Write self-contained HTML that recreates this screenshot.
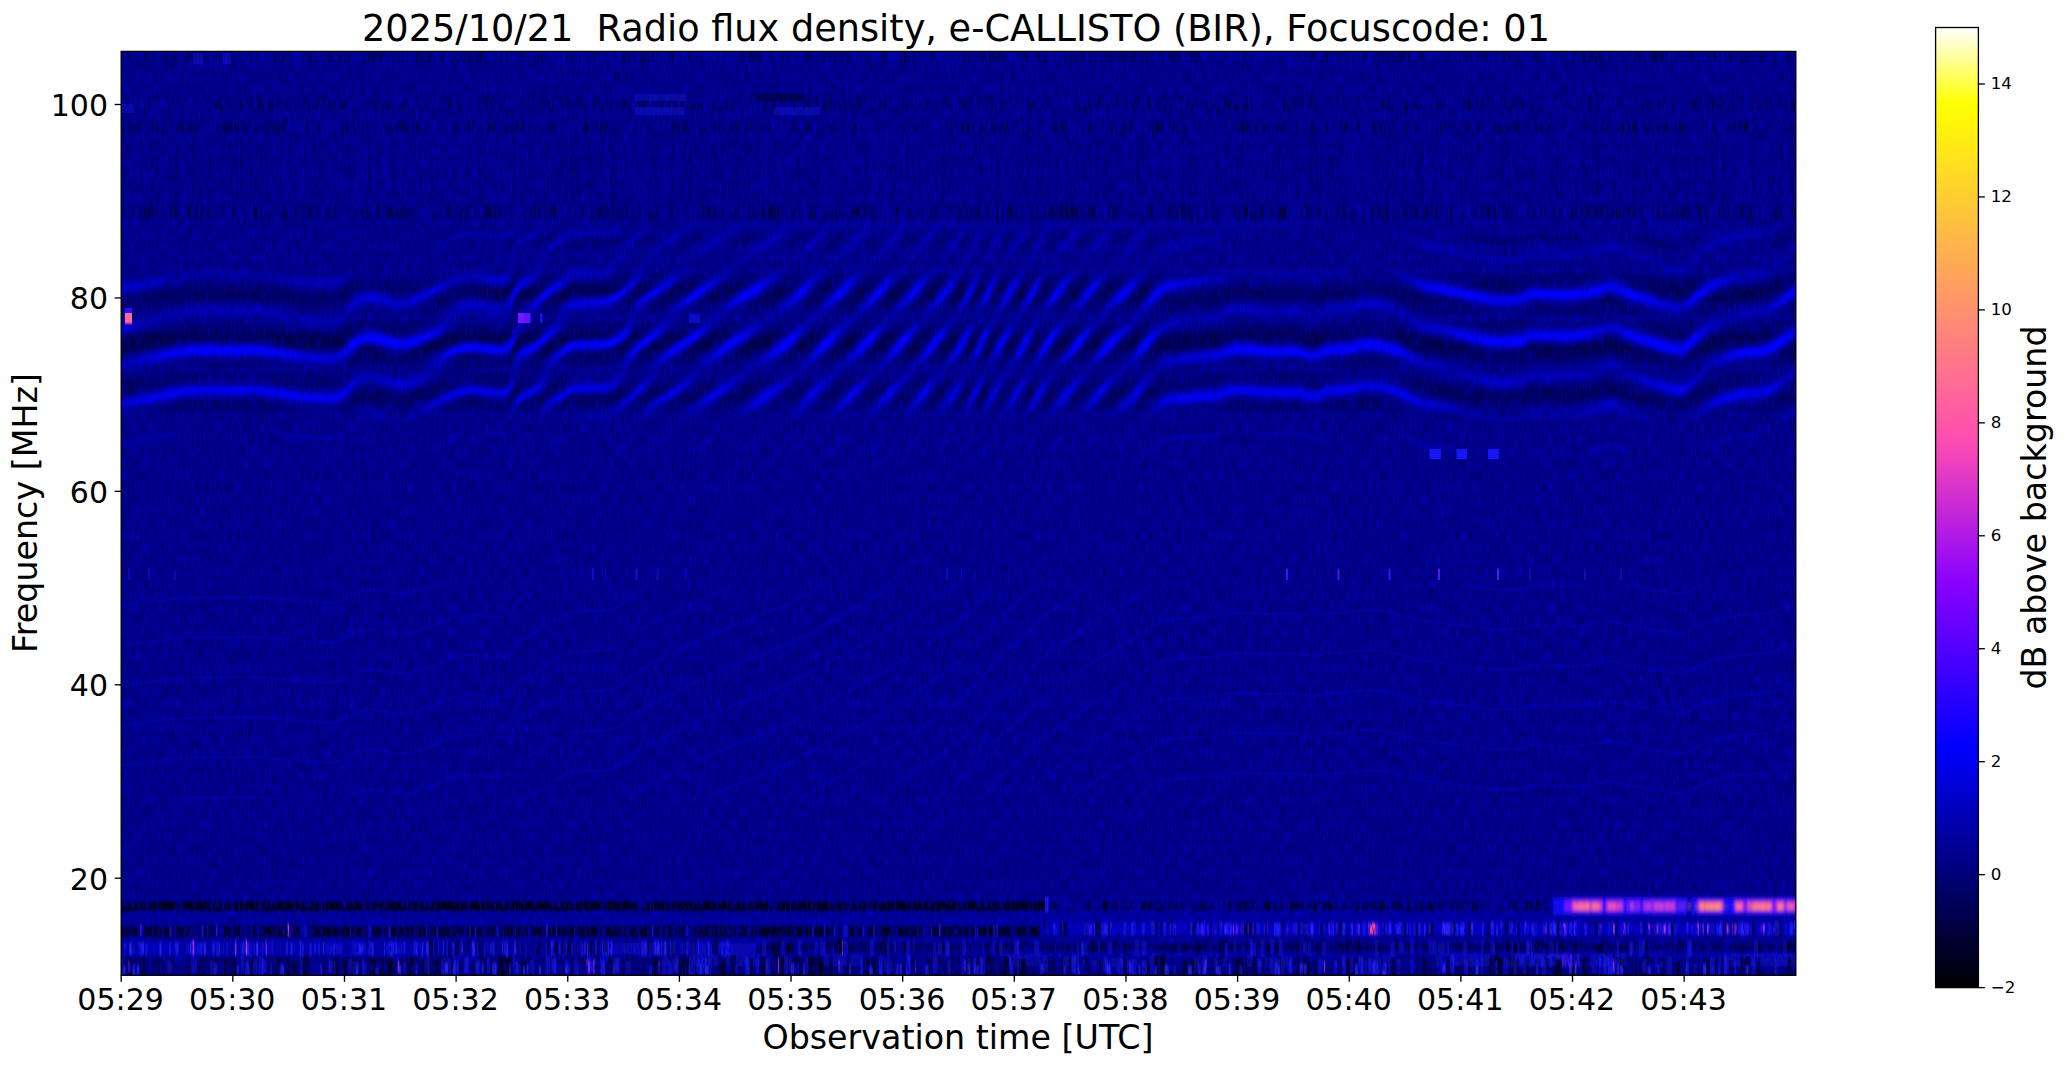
<!DOCTYPE html>
<html><head><meta charset="utf-8"><title>e-CALLISTO BIR spectrogram</title>
<style>
html,body{margin:0;padding:0;background:#fff;}
body{width:2066px;height:1067px;overflow:hidden;position:relative;font-family:"DejaVu Sans","Liberation Sans",sans-serif;}
svg{position:absolute;left:0;top:0;display:block}
text{font-family:"DejaVu Sans","Liberation Sans",sans-serif;fill:#000}
.tk{stroke:#000;stroke-width:1.33}
.tl{font-size:30px}
.cl{font-size:16.67px}
.ti{font-size:36.67px}
.al{font-size:33.3px}
</style></head><body>
<svg width="2066" height="1067" viewBox="0 0 2066 1067">
<defs>
<linearGradient id="cb" x1="0" y1="0" x2="0" y2="1"><stop offset="0.0000" stop-color="#ffffff"/><stop offset="0.0156" stop-color="#ffffcd"/><stop offset="0.0312" stop-color="#ffff9b"/><stop offset="0.0469" stop-color="#ffff6a"/><stop offset="0.0625" stop-color="#ffff38"/><stop offset="0.0781" stop-color="#ffff06"/><stop offset="0.0938" stop-color="#fff807"/><stop offset="0.1094" stop-color="#fff00f"/><stop offset="0.1250" stop-color="#ffe817"/><stop offset="0.1406" stop-color="#ffe01f"/><stop offset="0.1562" stop-color="#ffd827"/><stop offset="0.1719" stop-color="#ffd02f"/><stop offset="0.1875" stop-color="#ffc837"/><stop offset="0.2031" stop-color="#ffc03f"/><stop offset="0.2188" stop-color="#ffb847"/><stop offset="0.2344" stop-color="#ffb04f"/><stop offset="0.2500" stop-color="#ffa857"/><stop offset="0.2656" stop-color="#ffa05f"/><stop offset="0.2812" stop-color="#ff9867"/><stop offset="0.2969" stop-color="#ff906f"/><stop offset="0.3125" stop-color="#ff8877"/><stop offset="0.3281" stop-color="#ff807f"/><stop offset="0.3438" stop-color="#ff7887"/><stop offset="0.3594" stop-color="#ff718e"/><stop offset="0.3750" stop-color="#ff6996"/><stop offset="0.3906" stop-color="#ff619e"/><stop offset="0.4062" stop-color="#ff59a6"/><stop offset="0.4219" stop-color="#ff51ae"/><stop offset="0.4375" stop-color="#f949b6"/><stop offset="0.4531" stop-color="#ed41be"/><stop offset="0.4688" stop-color="#e039c6"/><stop offset="0.4844" stop-color="#d431ce"/><stop offset="0.5000" stop-color="#c729d6"/><stop offset="0.5156" stop-color="#bb21de"/><stop offset="0.5312" stop-color="#ae19e6"/><stop offset="0.5469" stop-color="#a211ee"/><stop offset="0.5625" stop-color="#9509f6"/><stop offset="0.5781" stop-color="#8901fe"/><stop offset="0.5938" stop-color="#7d00ff"/><stop offset="0.6094" stop-color="#7000ff"/><stop offset="0.6250" stop-color="#6400ff"/><stop offset="0.6406" stop-color="#5700ff"/><stop offset="0.6562" stop-color="#4b00ff"/><stop offset="0.6719" stop-color="#3e00ff"/><stop offset="0.6875" stop-color="#3200ff"/><stop offset="0.7031" stop-color="#2500ff"/><stop offset="0.7188" stop-color="#1900ff"/><stop offset="0.7344" stop-color="#0c00ff"/><stop offset="0.7500" stop-color="#0000ff"/><stop offset="0.7656" stop-color="#0000ef"/><stop offset="0.7812" stop-color="#0000df"/><stop offset="0.7969" stop-color="#0000cf"/><stop offset="0.8125" stop-color="#0000bf"/><stop offset="0.8281" stop-color="#0000af"/><stop offset="0.8438" stop-color="#00009f"/><stop offset="0.8594" stop-color="#00008f"/><stop offset="0.8750" stop-color="#000080"/><stop offset="0.8906" stop-color="#000070"/><stop offset="0.9062" stop-color="#000060"/><stop offset="0.9219" stop-color="#000050"/><stop offset="0.9375" stop-color="#000040"/><stop offset="0.9531" stop-color="#000030"/><stop offset="0.9688" stop-color="#000020"/><stop offset="0.9844" stop-color="#000010"/><stop offset="1.0000" stop-color="#000000"/></linearGradient>
<clipPath id="axc"><rect x="121.20" y="51.40" width="1674.60" height="923.90"/></clipPath>
<filter id="bl" x="222" y="82" width="3389" height="1887" filterUnits="userSpaceOnUse"><feGaussianBlur stdDeviation="2.4"/></filter><filter id="bl1" x="222" y="82" width="3389" height="1887" filterUnits="userSpaceOnUse"><feGaussianBlur stdDeviation="1.4"/></filter><filter id="bl2" x="222" y="82" width="3389" height="1887" filterUnits="userSpaceOnUse"><feGaussianBlur stdDeviation="1.5 3.2"/></filter><filter id="bl3" x="222" y="82" width="3389" height="1887" filterUnits="userSpaceOnUse"><feGaussianBlur stdDeviation="2.6 3.8"/></filter><filter id="bl4" x="222" y="82" width="3389" height="1887" filterUnits="userSpaceOnUse"><feGaussianBlur stdDeviation="1.1"/></filter><filter id="bl0" x="222" y="82" width="3389" height="1887" filterUnits="userSpaceOnUse"><feGaussianBlur stdDeviation="0.7 3.0"/></filter><filter id="nz" x="121" y="51" width="1674" height="923" filterUnits="userSpaceOnUse" color-interpolation-filters="sRGB"><feTurbulence type="fractalNoise" baseFrequency="0.8 0.085" numOctaves="1" seed="3" result="t"/><feColorMatrix in="t" type="matrix" values="0 0 0 0 0  0 0 0 0 0  0 0 0 0 0  -1.2 0 0 0 0.56"/></filter><filter id="nz3" x="121" y="897" width="1674" height="78" filterUnits="userSpaceOnUse" color-interpolation-filters="sRGB"><feTurbulence type="fractalNoise" baseFrequency="0.6 0.11" numOctaves="1" seed="5" result="t"/><feColorMatrix in="t" type="matrix" values="0 0 0 0 0  0 0 0 0 0  0 0 0 0 0.75  0 3.2 0 0 -1.55"/></filter><filter id="nz2" x="121" y="51" width="1674" height="923" filterUnits="userSpaceOnUse" color-interpolation-filters="sRGB"><feTurbulence type="fractalNoise" baseFrequency="0.7 0.083" numOctaves="1" seed="11" result="t"/><feColorMatrix in="t" type="matrix" values="0 0 0 0 0  0 0 0 0 0  0 0 0 0 1  0 1.3 0 0 -0.6"/></filter>
</defs>
<rect x="0" y="0" width="2066" height="1067" fill="#fff"/>
<rect x="121.20" y="51.40" width="1674.60" height="923.90" fill="#000084"/>
<g clip-path="url(#axc)">
<g transform="scale(0.5)">
<g filter="url(#bl)"><path fill="#00f" fill-opacity="0.188" d="M1029 444l0 7 -5 14 -8 12 -5 5 -7 1 -25-3 -30-6 -15 0 -30 7 -32 17 -6 0 7-8 24-15 12-5 20-5 20-3 30 4 32 0zM1091 443l3 1 0 4 -5 10 -8 10 -12 9 -25 13 -8 8 -8 22 -6 32 -8 16 -5 3 -33-3 -30-6 -17 2 -25 8 -73 41 -12 6 -15 4 -8 0 -17-4 -30-9 -10-1 -10 2 -8 2 -7 5 -15 12 -16 18 -12 6 -7 2 -50-3 -103-19 -45 2 -57-1 -25 2 -18 2 -42 9 -88 23 0-28 42-8 47-13 49-9 40-3 52 1 43-2 107 19 48 3 7-2 13-8 17-19 15-14 15-6 10-1 8 1 30 10 22 5 10-3 26-9 44-20 25-16 28-10 17-1 28 6 30 3 5-5 6-12 8-32 8-19 10-8 28-13zM1244 443l2 2 -1 5 -3 5 -8 7 -10 6 -15 5 -68 2 -17 15 -20 12 -8 10 -8 13 -5 20 -7 13 -9 7 -19 10 -12 9 -15 34 -9 27 -3 2 -15-1 -15-4 -12-7 -16-6 -7-1 -8 1 -13 6 -42 36 -52 25 -23 7 -7 1 -23-5 -27-10 -8 0 -10 1 -10 3 -7 4 -30 28 -18 8 -50-2 -107-16 -40 2 -63-1 -27 2 -47 7 -96 20 0-25 83-21 55-10 40-3 52 2 43-2 107 17 48 2 7-1 13-7 30-30 5-3 10-3 10-2 10 1 27 9 20 5 13 0 17-4 26-10 21-12 12-13 7-13 9-10 7-4 13-6 13-3 12-1 40 7 20 2 5-1 13-19 12-24 10-10 19-13 10-10 9-22 10-16 10-9 20-11 15-12 7-2 65-2 12-4zM1299 445l5-1 2 1 0 3 -2 4 -9 10 -21 18 -14 15 -24 33 -5 14 -10 10 -12 6 -68 3 -17 16 -18 10 -8 5 -13 16 -29 40 -20 22 -11 22 -11 18 -5 3 -30-2 -33-6 -19 3 -15 4 -11 6 -11 10 -26 30 -14 10 -14 6 -22 6 -15 2 -20-5 -30-11 -8-1 -10 2 -15 6 -32 31 -18 8 -52-2 -103-16 -45 2 -57-1 -40 3 -133 26 0-27 90-21 55-9 43-1 45 1 40-2 107 16 50 2 18-8 17-17 15-12 15-5 10-1 8 0 30 10 20 4 15-1 17-5 13-8 19-20 19-15 17-10 15-6 20-5 12-1 30 5 34 2 6-5 10-17 14-40 7-13 5-5 22-15 27-26 23-14 15-19 5-3 62-2 11-3 10-16 37-39 17-16zM1384 445l5-1 2 1 0 3 -10 12 -18 15 -44 30 -22 20 -2 3 -3 14 -8 13 -27 30 -23 22 -15 10 -10 3 -53 3 -15 3 -5 6 -6 18 -7 10 -19 14 -30 28 -24 16 -8 7 -6 10 -6 30 -5 13 -7 12 -7 7 -32-1 -30-5 -20 1 -19 6 -12 4 -47 29 -15 7 -10 3 -12 2 -7-1 -4-2 58-38 43-23 20-7 12-3 10-1 33 6 25 2 7 0 5-7 8-17 6-32 6-16 13-10 23-12 11-10 30-37 17-27 7-8 7-4 67-3 10-3 15-7 16-13 12-15 22-27 6-18 10-12 24-18 45-29zM1477 445l7 0 0 3 -5 7 -10 10 -30 23 -59 40 -5 14 -16 18 -13 11 -42 29 -15 12 -13 18 -8 22 -5 10 -8 10 -11 12 -15 10 -18 6 -65 2 -7 3 -34 35 -10 22 -10 16 -14 12 -25 12 -7 6 -5 7 -10 24 -3 3 -2-1 2-16 14-33 9-9 23-13 8-8 12-20 8-22 10-12 19-12 17-14 70-3 12-4 13-7 8-8 7-10 8-15 8-23 7-10 6-7 76-57 16-10 5-10 5-8 23-20 44-31 17-10zM1584 445l5 0 1 3 -6 10 -16 17 -19 16 -15 10 -20 10 -35 15 -5 0 -2-1 6-7 8-8 55-41 25-16zM1663 445l5 0 1 3 -3 4 -12 18 -18 20 -12 12 -15 11 -15 9 -9 3 -1-3 5-7 42-47 15-14zM1742 445l4 0 1 3 -3 7 -13 17 -15 18 -25 21 -20 12 -7 2 -1-3 7-10 39-42 17-16zM1813 445l3 0 1 3 -3 7 -11 17 -14 18 -23 21 -12 9 -11 5 -1-3 4-7 38-47 15-14zM1878 445l3 0 1 3 -3 7 -12 20 -11 15 -20 20 -15 11 -8 4 0-3 4-7 34-46 15-16zM1931 445l3 3 -3 10 -6 14 -10 18 -16 20 -13 11 -8 4 0-3 3-7 30-46 13-17zM1969 445l2 3 -2 7 -14 35 -11 21 -8 10 -5 4 2-10 20-47 8-15zM2010 445l2 0 1 3 -1 4 -17 38 -14 22 -12 13 0-4 3-9 19-42 10-17zM2057 445l2 0 0 3 -2 7 -15 33 -13 19 -18 17 -1-2 1-4 23-43 12-20zM2103 445l3 1 -1 6 -20 38 -16 24 -8 8 -5 3 0-3 5-12 20-41 10-15zM2165 445l3 0 1 3 -2 4 -10 18 -12 18 -21 22 -20 15 0-5 5-10 25-36 17-20zM2234 445l2 1 -2 6 -24 33 -21 23 -23 17 -1-3 3-7 33-46 15-16zM2301 445l3 0 1 3 -3 7 -14 23 -14 18 -10 11 -10 7 -15 9 -8 2 0-3 5-7 43-51 12-13zM2990 448l14-2 18 2 -9 2 -9 0 -8 0zM3299 448l5-3 7 0 50 7 18-7 2 0 2 3 -3 7 -8 10 -6 5 -5 2 -15-2 -26-10 -16-7zM3559 445l2 1 1 2 -6 10 -20 16 -12 3 -35 4 -18 3 -20 6 -26 10 -13 8 -27 20 -14 20 -10 5 -17-3 -30-12 -20-10 -38-12 -25-11 -10-2 -7 1 -18 7 -37 6 -30 2 -63-2 -5 1 -20 9 -27 4 -20 0 -150-32 -13-6 -20-13 -6-5 -3-5 2-3 10 1 27 10 55 9 83 24 22 3 18-1 22-3 5-2 14-10 6-3 58 4 22-1 48-9 20-9 7-1 10 2 25 14 75 31 15 4 15 2 11-4 12-16 24-24 11-9 10-5 20-8 17-4 20-4 45-4zM2449 469l1 1 0 2 -3 6 -8 5 -18 5 -90 20 -7 3 -23 17 -7 14 -32 46 -21 21 -34 26 -56 74 -12 13 -23 21 -22 32 -28 48 -10 11 -5 4 -2 0 0-6 4-10 18-37 10-17 10-14 14-14 51-70 15-17 21-18 30-37 27-29 30-28 19-13 6-13 20-25 5-4 7-3 30-6 38-5zM3596 484l0 23 -31 21 -19 20 -9 7 -13 4 -50 7 -36 12 -20 10 -47 39 -10 4 -17-2 -48-13 -37-13 -26-13 -12-3 -7 1 -18 8 -42 8 -28 2 -60-3 -7 2 -10 7 -8 3 -32 2 -25-1 -90-22 -53-11 -44-25 -17-13 -4-5 3-2 5-1 12 2 20 5 27 11 51 9 83 21 22 3 20 0 22-3 20-11 5-2 60 3 30-1 40-8 20-8 8 0 10 3 24 11 41 16 45 14 17 2 5-1 5-4 43-38 12-7 20-7 23-6 17-3 41-3 14-4 6-3zM1471 528l2 2 0 2 -7 10 -12 13 -25 21 -66 49 -11 10 -12 17 -11 13 -52 40 -9 10 -9 15 -13 32 -11 13 -16 8 -10 3 -68 3 -17 14 -21 12 -24 27 -3 1 -2-1 -1-7 3-7 13-20 15-14 20-12 17-17 13-2 55-2 9-3 10-8 8-8 10-22 15-20 15-16 23-19 15-15 15-15 9-15 10-10 86-64 17-10zM1578 530l3 2 -7 10 -38 33 -27 21 -65 39 -19 20 -19 17 -74 56 -13 12 -10 18 -10 12 -27 25 -38 39 -13 6 -10 2 -52 0 -16-2 0-5 2-3 11-2 53-5 25-14 17-15 22-24 23-30 11-20 12-12 53-38 48-37 25-25 56-41 20-13 18-10 27-12zM1658 530l2 2 -1 3 -7 10 -41 47 -20 19 -17 13 -21 11 -74 56 -70 49 -25 28 -25 21 -40 26 -30 23 -5 2 -4 0 -1-5 2-7 9-13 67-50 25-23 15-17 13-13 71-53 18-10 32-17 40-32 50-49 23-15zM1736 530l3 2 -6 10 -41 48 -26 24 -29 21 -50 55 -16 15 -22 16 -42 21 -61 49 -47 33 -25 14 -8 2 -2-2 1-6 3-4 14-16 67-51 34-21 43-31 60-50 34-24 56-62 15-14 23-17zM1809 530l0 5 -6 10 -44 55 -20 19 -22 16 -61 65 -17 17 -33 25 -45 43 -32 26 -18 10 -27 12 -15 5 -7 0 1-6 3-4 15-13 55-41 54-34 64-71 17-15 28-19 70-78 22-18 10-7zM1874 530l1 2 -5 10 -35 50 -19 21 -27 22 -60 72 -18 16 -27 19 -60 65 -13 12 -22 15 -10 4 -5 0 -1-3 5-7 46-53 17-16 27-19 68-74 15-14 22-17 55-67 13-15 20-16zM1966 530l0 5 -3 10 -21 50 -7 15 -9 12 -11 13 -45 67 -16 19 -25 21 -60 73 -10 9 -13 9 -10 5 -4 0 0-6 5-7 33-43 19-20 26-22 26-32 32-43 30-30 21-34 25-51 10-14zM2006 530l1 2 -2 8 -25 55 -10 17 -15 23 -22 53 -11 20 -13 17 -17 17 -53 71 -20 18 -10 6 -6 1 0-6 4-7 31-43 18-20 24-22 21-30 30-50 16-25 36-77 11-17 7-8zM2054 530l0 5 -3 7 -21 40 -15 26 -21 27 -35 75 -19 32 -11 23 -16 30 -12 17 -10 11 -12 11 -10 4 0-6 8-14 26-40 29-38 31-70 10-18 12-17 33-65 18-25 10-10zM2099 530l1 2 -3 8 -32 62 -11 17 -13 16 -43 77 -21 30 -36 78 -10 14 -5 4 -2 0 2-10 22-53 8-15 13-20 34-70 11-17 16-18 44-81 12-15zM2226 530l2 2 -4 8 -43 57 -17 20 -21 18 -24 32 -32 48 -21 27 -40 72 -15 18 -7 6 -2 0 0-6 4-10 19-37 14-22 19-23 28-55 12-20 13-15 18-15 60-79 20-18 10-6zM1924 532l5-2 0 5 -3 7 -29 50 -16 20 -24 23 -57 73 -16 15 -24 19 -48 56 -16 15 -25 19 -12 5 -6 1 1-6 5-7 34-40 21-20 31-25 61-74 15-14 21-17 54-74 15-17zM2154 532l7-2 0 5 -4 7 -37 53 -35 40 -38 73 -11 15 -16 19 -44 82 -10 12 -3 2 -1-6 4-10 19-44 11-20 15-18 42-75 22-30 18-33 23-34 18-20zM2453 540l21-2 57 3 68 1 27 5 30-6 35 0 9 1 -2 3 -8 3 -34 3 -18 14 -9 3 -8-1 -22-10 -65-1 -11-1 -24-6 -13-1 -27 8 -20 12 -74 12 -24 5 -12 4 -8 6 -12 14 -28 26 -22 27 -48 52 -31 28 -45 60 -14 16 -17 16 -8 4 -2 0 1-8 7-12 16-26 13-17 15-16 21-19 43-58 11-12 15-14 29-21 38-50 21-24 5-3 17-4 90-10zM385 542l129 0 105 10 42 2 8-1 9-3 18-9 3 0 2 1 -4 10 -11 16 -12 7 -10 4 -50-3 -105-20 -43 3 -55-1 -27 1 -15 2 -133 31 0-28 85-15zM3596 562l0 30 -22 17 -33 22 -7 3 -8 2 -37 4 -15 4 -35 12 -20 11 -48 42 -10 5 -17-2 -45-14 -40-14 -28-15 -10-2 -7 1 -18 8 -40 8 -30 2 -60-3 -5 2 -20 11 -30 3 -22-1 -23-4 -72-20 -50-10 -10-5 -45-27 -14-4 -30-6 -17 0 -32 9 -40 2 -5 2 -15 10 -7 3 -8-1 -17-9 -8-1 -62 0 -45-6 -28 3 -7 2 -16 9 -87 12 -15 3 -10 4 -7 7 -40 49 -13 12 -14 10 -28 29 -40 48 -18 15 -7 4 -3 0 0-6 5-10 22-32 13-17 18-17 22-16 15-16 15-17 29-39 26-25 8-4 10-2 97-16 5-2 15-9 15-4 20-1 43 6 62 0 8 1 17 9 8 1 7-3 20-12 40-3 30-9 15 0 25 4 18 5 57 32 55 10 93 22 22 0 30-3 18-9 7-3 60 3 27-1 43-7 18-8 7-1 10 3 24 10 51 18 43 12 12 2 9-4 36-32 15-10 28-13 22-7 18-4 35-4 12-3zM3596 643l0 29 -20 16 -35 26 -5 2 -10 3 -54 6 -27 7 -20 8 -11 8 -43 41 -10 6 -20-4 -47-15 -38-15 -25-15 -10-3 -7 2 -20 10 -40 8 -28 2 -60-3 -5 1 -13 9 -7 3 -30 3 -22 0 -23-5 -75-22 -50-11 -52-25 -13-4 -22-5 -20-2 -8 1 -30 9 -40 2 -20 10 -7 2 -10-2 -20-7 -65 0 -50-5 -26 4 -14 6 -10 2 -69 6 -35 6 -6 2 -5 4 -23 27 -25 33 -12 14 -15 11 -13 7 -7 2 -3 0 0-3 7-13 48-54 29-28 14-18 7-6 13-5 22-4 78-11 17-8 18-4 20-1 40 6 65 0 22 9 8 1 6-1 21-12 43-3 30-9 17 0 35 8 63 32 51 11 58 17 26 6 20 3 22-1 22-2 18-11 5-2 60 4 28-2 40-9 20-10 7-1 11 3 24 14 19 8 69 20 17 3 11-5 22-18 21-22 12-8 17-7 25-9 22-4 35-3 10-3zM3596 722l0 27 -23 21 -34 25 -10 4 -45 5 -28 6 -34 12 -31 18 -7 3 -3-1 2-7 9-13 20-20 12-8 22-10 25-8 18-3 34-3 13-3 38-25zM2731 756l10 0 35 5 18 7 47 25 57 12 88 28 13 3 22-2 20-4 18-13 7-3 58 3 22-1 48-9 20-9 7-1 13 3 20 12 33 16 13 7 5 5 -1 2 -5 1 -18-2 -27-7 -26-9 -9-1 -25 7 -43 6 -25 1 -60-2 -25 6 -70 0 -40-6 -87-15 -13-4 -50-25 -27-6 -20-2 -10 2 -28 8 -40 2 -20 11 -7 2 -8-1 -22-8 -65 0 -43-6 -20 0 -15 3 -12 6 -8 2 -74 7 -31 5 -6 3 -24 16 -7 3 -2-1 1-6 6-10 22-28 8-6 15-4 92-9 20-8 25-3 52 6 66 0 22 8 8 1 7-1 20-11 40-3zM3596 801l0 27 -22 12 -13 2 -1-2 0-2 6-8zM731 818l10-2 11 2 46 22 -5 2 -12 1 -40-7 -17 3 -16 3 -1-2 2-5 7-10 5-4zM363 862l0 3 -83 23 -44 9 0-15 76-14zM541 862l40 3 38 4 37 2 13-1 20-7 1 2 -4 7 -11 8 -9 4 -7 0 -51-4 -59-12 -8-3zM924 862l3 3 -6 5 -38 22 -37 15 -9 1 10-8 32-16 25-16zM966 862l43 3 5-2 1 2 -1 5 -3 5 -2 1 -8 0 -22-3 -9-3 -7-5zM1064 862l1 3 -3 5 -26 22 -10 16 0-6 10-22 13-11zM2512 862l87 1 27 6 8 0 17-6 4-1 0 3 -19 15 -10 2 -8-2 -19-10 -67 0 -20-5zM2793 862l18 6 33 13 47 9 18 5 20 7 8 6 -8 1 -13-1 -75-13 -11-5 -26-15 -12-10zM3535 862l1 3 -13 5 -39 6 -20 5 -40 15 -20 11 -5 1 -1 0 4-8 12-12 10-7 16-6 17-5 19-4zM1134 863l0 5 -5 10 -5 5 -40 25 2-6 13-14 7-6 16-10zM1271 865l0 4 -2 6 -15 19 -15 12 -8 2 -4 0 17-14 22-26zM2449 864l3 1 -8 7 -8 3 -72 5 -33 5 -7 4 -18 16 -5 3 -3 0 2-8 8-10 11-11 10-6 24-3zM1340 868l4-2 2 2 -5 7 -10 10 -27 18 -10 5 -5 0 13-13zM1427 868l4 0 -2 4 -18 18 -25 15 -7 3 -3 0 6-8 15-12 17-13zM2266 868l2 2 -1 2 -16 20 -15 13 -7 3 -3 0 3-8 10-12 12-11zM1522 870l9-2 1 2 -16 15 -17 13 -20 10 -5 0 -2 0 5-8 15-12 15-10zM1616 870l5-2 1 2 -13 18 -15 15 -8 4 -5 1 0-3 1-3 10-12 12-12zM1699 868l2 2 -15 18 -17 17 -8 3 -2 0 3-8 7-10 12-11zM1768 870l6-2 0 2 -13 19 -15 15 -5 4 -4 0 3-8 7-10 9-11zM1837 870l4-2 1 2 -13 20 -15 16 -5 2 -2 0 2-8 7-10 10-12zM1901 868l2 2 -12 21 -12 14 -5 3 -2 0 2-8 7-12zM1944 870l2-2 0 4 -7 20 -8 13 -2 3 -2 0 1-6 3-10zM1981 870l3-2 0 4 -5 13 -10 20 -3 3 -1 0 0-6 4-11zM2029 868l-1 4 -7 15 -10 16 -5 5 -1 0 1-8 5-12 8-11zM2071 870l3-2 0 4 -8 17 -10 17 -2 2 -2 0 1-8 6-12zM2124 870l5-2 -2 7 -11 15 -10 13 -7 5 -1 0 1-6 5-10 10-13zM2191 868l2 2 -12 18 -15 18 -5 2 -1-1 2-7 7-11 10-12zM3214 885l10-1 10 3 26 15 5 6 -11 0 -25-8 -10-2 -23 7 -17 2 -20 2 -16-1 53-15zM3596 889l0 13 -10 6 -5 1 -2-1 5-8zM733 902l8-1 8 1 6 3 2 3 -6 1 -26-1 3-3zM3063 902l22 0 30 6 -26 1 -30-1z"/>
<path fill="#00f" fill-opacity="0.215" d="M1071 465l6 0 -8 7 -28 16 -5 4 -5 8 0-6 3-7 5-7 12-7zM1141 465l65-1 8 1 -13 3 -57 1 -5 3 -15 14 -30 17 0-3 2-5 7-7 21-12zM1281 464l2 1 -27 29 -10 8 1-4 9-13 13-13zM1360 465l4-1 2 1 -4 5 -13 10 -33 20 -5 2 -2-2 6-8 10-7zM1451 465l5-1 1 1 -3 5 -11 10 -27 17 -7 3 -5 1 3-6 11-10 19-13zM1564 464l3 1 -4 7 -14 13 -21 13 -9 3 -4-1 3-5 15-13 13-10zM1646 464l2 1 0 3 -11 14 -16 15 -5 3 -4 0 2-5 10-13 10-10zM1726 464l2 1 -1 3 -10 14 -16 15 -7 4 -3-1 2-5 10-13 11-10zM1799 464l0 4 -9 14 -14 14 -5 4 -4 0 2-5 10-14 10-11zM1863 465l3 0 0 3 -10 16 -12 13 -5 3 -3 0 2-5 8-13 10-12zM1921 464l2 1 0 3 -7 14 -10 14 -5 4 -2 1 0-3 7-15 8-11zM1959 465l2 0 -2 10 -5 12 -8 13 -1-2 1-7 8-18zM1999 465l2 0 -4 15 -8 14 -6 6 0-5 3-9 8-15zM2046 464l2 1 0 3 -6 14 -8 12 -8 7 0-3 5-13 8-12zM2091 464l1 4 -6 13 -10 16 -5 4 2-9 6-12 5-8zM2151 464l2 1 -1 3 -8 14 -13 14 -7 5 0-3 7-14 10-12zM2213 465l3-1 1 4 -8 12 -13 15 -7 5 -3 1 3-9 7-11 8-9zM2285 465l4-1 0 4 -10 16 -13 14 -5 3 -2-1 2-5 8-12 10-13zM3482 468l32 0 -6 2 -24 4 -20 5 -56 21 0-2 6-8 6-5 10-5 21-8zM1016 468l1 2 -3 5 -4 3 -17-3 18-3zM3212 488l7-2 11 2 12 7 2 3 1 2 -26-4 -18 4 -6 0 1-2zM2338 492l11-1 1 1 -11 3 -7 0zM3596 491l0 8 -5 1 0-2zM2881 495l14 0 8 3 1 2 -5 0zM1019 544l1 4 -2 10 -4 7 -5 4 -33-3 -27-8 -13 0 -30 11 -72 39 -23 9 -10 2 -7-1 -18-4 -25-7 -15-1 -17 4 -28 20 -5 2 0-2 12-20 11-12 10-9 10-3 10-2 10 1 30 10 22 5 28-9 50-22 22-13 13-4 15-3 22-1 58 4zM1074 543l2 1 1 4 -3 7 -7 7 -21 13 -10 8 -20 40 -5 7 -7 1 -25-3 -25-6 -10-1 -13 2 -30 10 -2-1 -1-4 1-6 7-9 16-8 12-4 17 0 28 6 30 4 5-5 22-41 10-8zM1138 545l8-2 58 1 9 1 1 3 -2 2 -6 2 -55 4 -10 2 -17 18 -17 9 -8 6 -30 32 -15 9 -6 0 -1-4 1-6 6-10 20-15 27-26 23-13zM1278 545l4 0 1 5 -7 12 -25 27 -20 17 -15 8 -7 2 -65 3 -5 2 -10 11 -3 0 0-7 3-10 5-10 7-7 65-3 13-3 15-6 8-6zM1359 545l3 0 1 3 0 2 -5 8 -8 7 -56 40 -11 10 -12 13 -2 1 -2-1 0-8 4-10 11-15 59-41zM3489 545l42-1 5 1 0 3 -3 2 -7 3 -50 8 -40 15 -17 9 -45 35 -8 5 -5 1 -20-3 -50-12 -35-11 -25-13 -10-2 -7 1 -18 8 -42 8 -28 1 -60-3 -5 2 -20 9 -32 3 -23-1 -142-32 -13-6 -18-13 -5-4 -2-6 5-1 8 1 25 7 50 8 82 20 25 3 40-3 20-11 5-1 55 3 23-1 45-7 10-2 15-7 10 0 10 3 22 10 48 17 42 14 15 3 8-4 35-32 17-13 33-10zM1441 548l8-3 3 3 -6 10 -19 17 -66 46 -12 7 -5-1 0-5 4-7 15-15 53-38zM1548 548l8-2 3 2 -2 4 -9 10 -32 27 -25 15 -32 17 -15 5 -4-1 1-5 9-10 34-26 35-24zM1634 548l7-2 1 4 -3 5 -19 25 -16 18 -13 11 -15 9 -15 6 -7 1 0-3 6-7 44-45 15-13zM1713 548l6-2 3 2 -2 4 -7 10 -24 29 -13 12 -15 12 -15 8 -8 2 1-5 5-8 32-36 20-18zM1786 548l5-2 3 1 -3 8 -13 20 -17 20 -22 20 -13 8 -8 2 1-5 5-8 30-37 17-17zM1854 548l5-2 2 2 -1 4 -12 20 -15 20 -12 13 -12 11 -13 8 -5 1 0-5 5-8 28-37 15-16zM1916 546l3 2 -2 7 -9 17 -12 20 -20 22 -12 9 -6 2 -1-3 4-7 25-37 15-20zM1956 546l2 2 -2 7 -16 43 -11 17 -8 8 -5 2 0-3 3-7 19-43 8-14zM1993 548l3-2 1 6 -17 40 -14 23 -10 10 0-5 3-8 15-34 10-20zM2041 546l3 1 -1 5 -16 33 -18 28 -8 8 -5 4 0-5 2-8 18-34 10-17zM2086 546l2 2 -1 4 -19 43 -14 21 -8 7 -5 2 3-10 21-43 9-14zM2141 548l5-2 1 2 -1 4 -19 30 -21 27 -12 12 -8 4 0-5 5-10 19-32 16-20zM2204 548l5-2 2 2 -1 4 -27 40 -12 14 -10 10 -10 7 -7 2 0-3 5-10 27-39 15-16zM2278 548l6-2 0 4 -2 5 -12 20 -14 17 -12 12 -13 9 -15 10 -8 2 0-3 3-7 20-25 25-25zM2408 552l33 0 5 0 1 3 -6 6 -10 4 -80 15 -22 7 -35 32 -10 7 -3 0 -1-1 5-13 16-22 15-19 10-8 13-4 15-2zM310 558l27 0 0 2 -19 8 -42 12 -40 9 0-21zM571 558l18-1 75 2 20-2 1 1 1 2 -4 5 -10 7 -6 2 -7 1 -37-3 -15-2 -30-8 -6-2zM2626 558l3 0 1 2 -4 0zM3596 565l0 25 -25 18 -30 17 -7 3 -10 1 -63 3 1-2 3-2 12-6 12-3 35-5 12-4zM2733 598l21 1 27 7 23 14 9 8 3 4 -7 0 -35-10 -38-5 -12 1 -25 6 -40 2 -20 6 -3-1 -1-1 12-12 9-6 40-4 25-8zM2475 610l21-1 38 7 65 1 8 3 12 10 -3 2 -20-4 -65 0 -42-3 -23 1 -20 5 -5-1 1-2 14-13zM423 615l43 2 45-3 17 4 43 12 -2 1 -10 0 -53-4 -37 1 -75 0 -50 4 -7-2 21-8 22-4zM304 638l20 0 -8 4 -32 13 -48 13 0-20zM588 638l11-1 62 2 18-2 3 1 -3 4 -6 6 -7 3 -5 0 -46-3 -17-6zM895 638l4-2 1 2 0 7 -5 10 -9 10 -10 7 -45 21 -22 8 -10 1 -23-5 -27-10 -15 1 -15 4 -33 28 -12 6 -8 2 -52-2 -105-13 -43 1 -52 0 -43 2 -135 21 0-12 80-23 48-10 22-3 40-1 43 1 42-1 108 17 47 3 18-9 25-25 12-9 15-3 10 0 47 13 18 0 22-5 19-8 25-12zM1046 636l3 2 1 4 -2 8 -12 17 -11 25 -14 18 -7 1 -25-2 -30-5 -18 1 -19 5 -11 5 -32 23 -5 2 -3-1 -1-1 3-10 10-13 19-15 17-8 20-6 15-1 37 5 30 1 13-16 12-29zM1123 638l3-1 1 8 -3 10 -4 5 -19 14 -27 27 -31 19 -7 8 -5 11 -1-7 1-11 3-11 5-7 7-6 23-12 7-5 28-29zM2818 638l3-1 25 6 53 8 77 17 25 3 40-3 18-9 7-2 58 2 22 0 44-7 24-6 10-1 10 2 22 9 52 16 38 12 15 2 8-4 15-13 32-23 10-4 18-4 10-1 4 1 -5 4 -34 22 -48 43 -10 5 -20-3 -50-15 -35-13 -25-14 -10-3 -7 1 -20 10 -40 8 -28 2 -60-4 -5 2 -12 8 -8 3 -30 3 -22-1 -23-4 -75-21 -47-11 -16-10 -7-8zM1264 640l2 2 -1 8 -6 15 -12 15 -13 10 -15 6 -10 3 -68 3 -5 3 -12 13 -17 12 -8 8 -3 2 -1-2 1-13 7-13 6-5 15-9 15-14 10-2 60-2 11-2 12-6 7-4zM1331 642l5-1 2 4 -3 7 -7 10 -14 13 -35 26 -11 11 -17 22 -2 2 -3-1 0-7 4-10 6-10 11-13 14-14 40-32zM2346 642l33-1 11 1 -46 12 -18 7 -47 56 -15 12 -8 3 -2 0 0-4 5-8 27-39 15-17 23-18zM1415 645l9-2 1 2 -1 5 -6 8 -18 17 -21 16 -60 41 -8 3 -2-1 0-4 2-7 14-15 71-52zM1519 645l9 0 -2 5 -8 8 -34 27 -30 21 -28 17 -17 9 -5 2 -3-2 2-7 8-10 45-36 30-20 15-8zM1614 645l6 0 -2 5 -5 8 -23 27 -19 18 -15 11 -17 9 -20 8 -10 1 -1-2 1-2 5-6 57-48 23-17zM1693 645l6 0 -3 7 -40 46 -27 24 -13 7 -7 3 -2-2 6-10 36-44 20-17zM1768 645l5 0 -4 10 -35 45 -13 12 -12 9 -15 9 -8 2 -1-2 1-2 5-8 38-44 20-19zM1837 645l5 0 -4 10 -37 48 -22 21 -13 7 -5 0 1-3 6-10 33-44 18-17zM1899 645l4 0 -3 10 -31 46 -20 21 -10 7 -8 3 -1-2 3-8 33-46 15-17zM1946 644l1 4 -3 10 -19 42 -9 14 -7 8 -10 8 -5 2 -1-2 3-8 24-42 16-26zM1983 645l2 0 -2 7 -19 46 -13 23 -10 11 0-4 2-8 17-42 11-21zM2026 645l3 0 -2 7 -22 46 -14 21 -7 9 -5 4 -1-4 3-8 20-45 13-19zM2071 645l3 0 -2 10 -22 45 -16 23 -8 7 -5 2 0-4 4-10 23-43 11-16zM2124 645l4 0 0 3 -7 12 -35 53 -10 12 -7 7 -2-2 1-2 3-10 22-43 13-17zM2187 645l5 0 -3 7 -33 49 -20 20 -10 8 -7 3 -1-2 0-2 4-8 29-42 18-20zM2264 644l2 0 -3 8 -22 28 -37 38 -15 11 -8 3 1-4 7-13 30-40 17-16zM3596 648l0 21 -27 23 -33 22 -67 8 -32 8 -26 9 -2 1 -1-2 4-8 6-8 6-4 14-8 18-8 20-5 48-6 12-3zM2731 676l13 0 37 7 34 17 26 16 47 14 14 8 -3 1 -5 0 -53-5 -62-25 -25-5 -20-2 -10 2 -28 7 -40 2 -20 9 -7 2 -8-1 -22-6 -65-1 -50-5 -27 4 -21 7 -92 8 -23 4 -2-2 1-4 6-8 12-5 37-7 61-9 20-10 18-3 20-1 40 6 65 0 22 9 8 1 7-2 20-11 40-3zM3215 722l9 0 8 3 9 7 3 6 0 1 -3 0 -20-3 -20 3 -5-1 11-10zM3596 729l0 10 -5 0zM859 743l2 1 1 4 -4 7 -7 7 -18 10 -24 7 -8 0 -10-1 -15-5 -30-12 -10 0 -10 3 -10 5 -30 31 -10 5 -10 4 -52-2 -103-16 -45 2 -52-1 -44 3 -134 24 0-19 78-19 60-10 40-2 52 1 45-2 105 16 48 2 7-2 13-6 25-22 12-6 15-3 13 0 42 10 13 1 22-3zM1029 745l1 3 0 7 -4 17 -6 13 -9 10 -32-1 -30-5 -15 1 -30 8 -48 24 -10 3 -5-1 0-2 3-4 16-13 41-23 23-8 22-3 33 5 22 2 10 0 8-10zM1094 743l2 2 -1 10 -5 13 -7 10 -12 10 -24 12 -7 5 -5 5 -9 15 -1-3 1-7 5-13 5-10 10-8 20-11 8-5zM2906 745l3-2 7 0 65 11 23 1 37-2 25-8 68 2 52-4 6 2 -9 5 -15 5 -27 5 -22 0 -53-4 -5 2 -15 12 -5 2 -37 4 -20-2 -24-6 -36-13zM3246 745l3-2 10 2 85 21 17 2 8-3 15-11 15-9 5-2 3 2 -6 10 -10 13 -20 19 -10 5 -20-3 -48-17 -37-17zM3582 745l7-2 1 2 -9 13 -19 17 -26 19 -15 3 -37 4 -20 4 -34 10 -24 10 -5 0 0-5 9-12 11-10 13-7 20-7 20-6 60-7zM1244 746l2 4 -4 12 -7 10 -11 7 -15 5 -68 3 -17 14 -18 9 -17 14 -5 1 0-5 2-5 12-15 8-6 18-10 17-16 70-4 15-6zM1302 748l2 0 2 2 -2 8 -4 7 -9 10 -47 45 -10 5 -3 0 -2-2 3-5 52-55 10-10zM1383 750l6-1 1 1 -1 5 -8 13 -14 12 -18 13 -43 26 -10 5 -5 0 1-4 3-5 10-10 66-48zM1481 750l3 2 -8 10 -19 18 -18 14 -40 25 -13 5 -5-1 2-5 7-8 46-36 28-18zM2301 750l4 0 -1 5 -35 49 -8 8 -10 7 -10 5 -4-1 1-5 5-8 28-34 18-18zM1579 752l7-1 2 1 -4 8 -12 12 -33 29 -18 11 -15 7 -15 5 -5 0 -3-2 3-4 7-8 33-27 25-16zM1658 752l6-1 2 1 -8 13 -29 34 -13 12 -10 8 -10 4 -5 0 0-3 6-10 24-30 18-16zM1736 753l5-2 3 1 -9 16 -29 32 -22 19 -10 5 -5-2 1-4 7-10 21-26 18-16zM1807 752l4-1 3 1 -9 16 -26 33 -20 18 -8 4 -5 0 2-5 4-8 20-28 17-16zM1872 752l4-1 3 1 -8 16 -22 31 -10 11 -10 9 -8 4 -5 0 0-3 4-8 18-27 18-20zM1929 751l2 1 -2 8 -20 38 -15 19 -8 5 -5 2 -1-4 2-5 16-27 16-22zM1966 751l2 1 -1 6 -15 37 -11 21 -7 8 -1-4 1-5 12-33 10-19zM2005 752l4-1 0 4 -17 37 -11 20 -10 12 -1-2 1-7 12-30 11-20zM2052 752l4-1 -2 9 -19 38 -14 19 -5 5 -5 2 0-4 2-8 12-24 14-21zM2101 751l2 1 -4 10 -28 50 -7 9 -5 3 -1-4 2-8 14-30 12-19zM2160 752l4-1 2 1 -6 13 -20 27 -19 22 -10 8 -5 2 -1-4 3-8 17-27 16-18zM2226 752l5-1 3 1 -4 8 -39 48 -12 11 -5 4 -5 1 -1-4 3-8 20-30 18-18zM2728 760l23 1 30 5 33 15 27 14 53 13 21 7 12 7 -2 3 -14 0 -67-8 -13-4 -52-24 -25-6 -20-1 -10 1 -28 8 -40 3 -20 10 -7 2 -8-1 -22-8 -65 0 -43-6 -15 0 -20 4 -15 7 -7 1 -98 9 -10 3 -15 8 -5 1 0-2 2-7 11-15 7-8 5-2 35-6 73-6 15-7 10-2 22-2 45 6 68 0 22 8 8 1 7-2 20-10 40-3zM3216 800l8 0 10 3 14 9 10 10 -1 3 -6 0 -23-5 -9-1 -20 5 -13 1 -20 0 -3-3 11-4 22-8zM3596 805l0 17 -7 3 -6 0 -1-3 3-4zM3065 822l11 0 -10 2z"/>
<path fill="#00f" fill-opacity="0.275" d="M1068 552l1 3 -3 5 -22 15 -8 6 -12 25 -8 12 -2 2 -3-2 1-6 24-45 13-9zM1136 552l2 3 -1 3 -11 14 -25 15 -30 29 -7 4 -5-1 -1-4 4-5 34-34 10-7 15-7zM1011 555l3-1 2 1 0 3 -2 4 -5 4 -33-3 -9-5 7-3zM1274 553l3 2 -5 10 -10 13 -23 21 -15 9 -15 4 -65 3 -10 5 -2-2 1-8 3-5 8-6 65-2 17-6 18-11zM1345 555l6-2 3 2 -4 7 -8 8 -66 47 -2 1 -2 0 0-3 2-7 10-13 30-21zM1433 555l6-1 3 1 -6 10 -17 15 -48 32 -12 5 -5 0 0-5 4-4 14-13 39-28zM1538 555l8-1 1 4 -11 12 -22 18 -20 13 -23 11 -15 5 -2 0 -2-2 2-5 8-8 27-20 27-18zM1627 555l4-1 2 1 -1 5 -10 15 -16 18 -12 11 -10 7 -13 5 -4-1 4-7 30-34 15-13zM1706 555l5-1 2 1 -1 5 -9 12 -12 16 -25 21 -10 6 -7 1 -1-4 3-4 23-27 17-17zM1780 555l4-1 2 1 -1 5 -19 28 -20 19 -10 7 -7 3 -2-2 2-5 21-28 16-17zM1851 554l3 1 -2 7 -19 28 -19 19 -10 7 -5 0 0-4 4-7 19-25 14-16zM1911 554l2 1 -1 5 -6 12 -10 17 -17 20 -8 6 -5 2 -1-2 2-5 15-25 14-19zM1951 555l2 0 -1 7 -10 28 -8 16 -5 7 -5 3 -2-1 1-5 10-22 11-24zM1991 554l1 1 0 5 -10 25 -11 21 -5 7 -5 4 0-7 12-30 8-15zM2036 554l2 1 0 5 -12 25 -15 23 -10 9 -1-2 1-5 13-27 10-17zM2081 554l2 1 -1 5 -10 25 -13 22 -10 9 -2-1 1-5 13-28 10-18zM2135 555l4-1 1 1 -1 5 -17 28 -21 23 -7 5 -2-1 4-13 15-24 13-15zM2201 554l2 1 -1 5 -15 25 -18 22 -8 6 -7 4 -2-2 1-5 18-28 15-18zM2272 555l4-1 1 1 -1 5 -8 15 -12 15 -10 10 -12 9 -13 7 -5 0 5-11 14-17 21-21zM3447 555l17-2 9 2 -7 5 -45 21 -27 22 -18 12 -7 4 -8 1 -25-2 -42-9 -38-11 -25-13 -10-2 -7 1 -18 8 -42 8 -28 1 -60-3 -25 11 -30 2 -22 0 -28-5 -114-26 -15-8 -9-7 -2-5 5-1 23 4 45 6 82 20 25 3 40-3 18-10 7-2 58 3 22-1 41-7 11-2 16-6 10-1 10 3 22 10 90 33 15 3 5-2 18-19 30-25 10-5zM905 560l6 0 -1 2 -31 20 -43 22 -17 6 -15 4 -10-1 -20-3 -23-6 -10-1 -20 3 -17 9 -3 0 3-7 10-12 5-4 10-3 10-2 10 0 40 14 12 3 23-8 72-34zM2354 560l42-2 20 2 -2 2 -7 3 -61 14 -17 6 -28 25 -7 5 -5 2 -1-5 7-12 11-15 15-16 10-6zM286 566l7 2 -3 2 -11 5 -43 11 0-14zM3596 567l0 21 -17 13 -20 12 -18 7 -2 0 -3-2 16-18zM2725 602l9-1 15 1 27 7 9 6 -4 2 -47-4 -23 2 -7 0 1-3 4-2zM931 605l13-2 10 1 35 11 4 3 -17 2 -30-4 -25 3 -6-1 2-6zM271 650l0 3 -10 4 -25 8 0-13zM886 650l4 0 1 5 -3 5 -7 8 -29 14 -26 12 -17 5 -10 1 -20-4 -30-10 -15 0 -13 3 -5 3 -30 26 -10 4 -10 2 -52-1 -110-12 -35 1 -43-1 -42 1 -100 13 -15 1 -8-1 3-3 17-7 42-13 51-10 32-2 60 1 45-2 108 19 45 3 7-3 13-7 27-28 13-6 12-3 10 0 45 12 15 1 32-7zM1038 650l2 0 1 2 0 3 -13 30 -12 18 -5 5 -20 0 -40-6 -14 0 -30 8 -28 16 -5 0 -2-1 1-5 4-5 14-13 13-7 20-6 22-3 33 5 25 2 7-1 13-16 10-21zM1113 650l6 0 1 2 -2 6 -34 33 -13 10 -25 14 -12 11 -1-4 1-7 2-7 5-6 8-6 25-13 27-26zM2842 650l14 0 35 3 88 17 25 2 37-2 18-9 7-2 78 2 50-6 20-5 10 0 12 2 108 33 17 2 8-3 15-13 25-17 12-4 4 0 1 2 -35 36 -20 17 -10 5 -20-3 -52-16 -33-12 -25-15 -10-4 -7 2 -18 10 -37 8 -30 3 -63-4 -5 2 -15 10 -5 1 -40 4 -15-2 -17-3 -78-22 -35-9 -12-5 -2-3zM1259 651l2 1 0 3 -5 13 -11 12 -14 10 -12 5 -10 2 -66 3 -7 4 -17 15 -15 7 -3 0 0-1 1-7 6-8 16-11 17-15 63-2 12-2 20-9zM1323 652l3-1 3 1 0 3 -8 13 -12 10 -30 22 -20 21 -6 4 -2-3 4-10 15-20 19-16zM1410 652l4 0 1 3 -2 5 -9 10 -12 10 -51 34 -15 9 -7 2 -2-3 2-4 6-8 9-8 60-41zM2321 652l5 0 0 3 -16 23 -19 23 -17 18 -8 4 -3-1 1-4 4-8 23-34 13-12zM3596 652l0 14 -3 4 -24 20 -33 21 -15 3 -41 4 -46 8 -5 0 -4-1 3-5 7-5 14-7 13-6 22-5 37-4 15-4 30-20zM1501 655l10-2 3 2 -6 7 -13 13 -36 26 -35 20 -8 3 -4-2 1-4 7-8 29-24 27-19zM1601 655l8-2 1 2 -3 7 -10 13 -23 24 -13 9 -15 9 -15 5 -7 0 0-2 6-8 31-28 23-18zM1680 655l6-2 3 2 -8 13 -21 24 -14 14 -12 10 -13 7 -4-1 1-4 5-8 23-29 15-14zM1756 655l5-2 3 0 0 2 -8 15 -20 25 -22 20 -13 7 -5 0 0-2 4-8 24-29 17-17zM1826 655l5-2 2 2 -6 13 -20 27 -21 20 -10 7 -6 0 1-4 5-8 20-28 15-16zM1889 655l5-2 2 2 -2 5 -22 35 -18 20 -10 7 -5 1 0-3 3-8 21-30 13-16zM1938 655l3-2 0 7 -15 36 -12 18 -8 7 -5 2 0-5 8-16 17-30zM1976 655l3-2 1 5 -11 27 -13 26 -10 12 -1-3 1-5 12-30 8-17zM2021 653l2 2 0 3 -13 27 -16 28 -10 10 -1-3 3-10 12-28 11-17zM2065 655l4-2 0 5 -17 37 -13 20 -8 7 -4 0 2-7 14-30 13-21zM2114 655l5-2 1 2 -5 13 -26 40 -10 12 -5 3 -1-3 1-5 15-32 12-17zM2177 655l4-2 3 2 -8 15 -17 25 -18 20 -10 7 -5 1 0-3 3-8 18-27 17-19zM2248 655l8-2 1 2 -5 10 -11 13 -32 33 -13 10 -5 2 -2-1 1-4 6-10 20-29 15-14zM2730 678l26 1 20 4 10 4 33 18 20 15 4 5 -7 1 -7-1 -53-19 -25-4 -17-1 -10 1 -28 7 -40 2 -20 8 -7 2 -8-1 -22-6 -68 0 -45-5 -27 3 -18 6 -12 2 -78 4 -10 0 -5-2 9-4 19-6 75-12 17-9 20-4 18 0 40 6 65 0 22 9 8 1 7-2 20-12 40-3zM715 757l7 1 -31 35 -7 6 -18 7 -52-2 -103-15 -45 2 -50-1 -42 2 -103 18 -35 5 0-12 73-18 65-12 40-2 52 1 45-1 105 15 48 2 7-2 13-6 17-15zM760 758l6-1 38 5 35-5 5 1 -2 4 -11 8 -17 5 -10 1 -10-1 -17-5 -13-8zM1087 758l2 0 -1 7 -9 15 -10 8 -28 14 -5 4 -7 10 0-4 2-9 8-12 10-7 21-12zM2956 758l8-1 40 2 48-1 -5 7 -6 3 -37 5 -15-2 -15-3 -12-6 -5-2zM3278 758l12 0 56 11 15 2 8-3 15-9 5-2 3 1 -3 7 -13 15 -7 6 -8 4 -17-3 -36-12 -22-10 -7-5zM3567 758l5 0 -1 4 -4 6 -24 20 -9 5 -58 7 -60 16 -5 0 -1-1 4-7 9-8 26-12 32-9 53-6zM1026 758l1 7 -3 10 -7 13 -6 5 -22 0 -38-5 -15 0 -32 8 -40 19 -8 1 -1-1 3-5 10-8 31-17 10-5 22-6 13-1 35 5 30 2 5-3zM1236 758l3 2 -3 8 -5 4 -14 8 -13 2 -63 3 -17 14 -18 9 -12 8 -3 0 -1-1 4-7 7-9 23-13 17-15 68-3zM1292 760l4-1 1 3 -8 13 -38 36 -7 5 -4-1 4-7 14-16 21-22zM1374 760l5 0 -2 8 -19 17 -42 26 -10 4 -5 0 2-5 12-10 46-33zM1466 760l3 0 0 2 -3 6 -9 10 -16 12 -32 21 -10 4 -7 0 2-5 5-5 25-20 25-17zM2295 760l0 2 -3 8 -21 29 -15 14 -5 2 -5 0 0-3 4-7 17-23 14-14zM1566 762l8-2 1 2 -9 13 -22 20 -25 15 -15 5 -6 0 0-3 3-4 23-20 20-14zM1647 762l7-2 1 2 -6 10 -15 19 -20 19 -10 5 -4 0 0-3 4-7 13-17 14-15zM1726 762l5-2 2 2 -7 13 -15 17 -20 18 -7 5 -6 0 1-5 3-5 14-17 15-16zM1801 761l3 1 -5 10 -15 20 -18 18 -7 5 -4 0 1-7 14-20 14-15zM1864 762l5-2 1 2 -6 13 -13 18 -15 16 -7 6 -5 0 0-3 3-7 11-17 13-15zM1924 760l1 2 -1 5 -15 28 -13 16 -5 4 -3 0 1-7 9-18 13-18zM1961 761l1 4 -8 23 -10 21 -6 6 -1-3 1-4 6-18 7-16zM2001 761l2 1 -7 18 -12 25 -5 8 -4 2 -1-3 1-4 6-18 8-14zM2049 760l1 5 -11 23 -13 20 -7 7 -3 0 2-10 8-17 10-15zM2094 760l1 2 -6 16 -15 27 -5 7 -5 4 -1-4 1-4 7-19 10-17zM2151 762l5-1 1 1 -5 10 -10 16 -18 21 -8 6 -4 0 0-3 3-7 10-17 14-16zM2215 762l6-2 1 2 -3 8 -13 18 -20 22 -7 5 -4 0 0-3 3-7 13-20 13-14zM2731 763l13 0 37 6 33 14 27 15 45 12 5 2 3 3 -20 1 -33-3 -12-4 -50-22 -25-6 -20-2 -10 1 -28 9 -40 3 -20 10 -7 1 -8 0 -22-8 -68 0 -50-6 -25 3 -12 6 -8 2 -92 8 -15 3 -13 5 -2-1 2-7 5-8 5-5 8-3 32-6 70-6 20-7 13-2 22-1 43 5 65 1 22 7 8 1 7-2 20-10 40-2zM3212 805l7-2 7 1 11 6 3 5 -4 1 -17-1 -13 1 -4-1 3-5zM3596 810l0 6 -2-1z"/>
<path fill="#00f" fill-opacity="0.378" d="M1051 560l8 0 -4 5 -19 15 -12 24 -5 7 -3 1 2-10 16-30 7-7zM1131 559l0 3 -7 10 -20 12 -25 23 -5 4 -5 1 -2-2 3-5 26-27 10-7zM1269 560l2 0 0 2 -3 6 -17 19 -15 12 -15 8 -10 2 -11 1 -61 2 -3-2 3-5 5-3 60-3 12-2 20-10zM1342 560l3 0 -1 5 -11 10 -52 35 -5 1 1-3 2-6 13-12 32-21zM1432 560l1 2 -3 6 -20 17 -36 23 -8 3 -5-1 3-5 5-5 15-12 30-20zM2196 560l2 2 -2 6 -14 22 -16 16 -5 4 -3 0 0-2 3-8 15-22 10-12zM2271 560l1 2 -3 8 -15 20 -18 15 -10 5 -3 0 0-2 4-8 15-18 19-17zM3446 560l2 2 -29 19 -30 24 -15 7 -2-2 12-17 25-21 15-8zM1526 562l8-2 2 0 2 2 -8 10 -14 13 -17 11 -18 9 -13 5 -7 0 1-2 4-6 18-14 22-16zM1619 562l5-2 2 1 1 1 -5 10 -12 16 -11 10 -10 8 -9 4 -4 0 1-5 14-17 15-16zM1698 562l6-2 2 2 -5 10 -10 13 -20 18 -10 6 -6 1 0-2 3-6 14-17 14-14zM1773 562l6-2 1 2 -3 8 -11 15 -20 20 -7 4 -5 1 3-8 12-17 12-13zM1841 562l5-2 2 2 -4 10 -9 13 -16 18 -10 7 -4 0 0-2 2-6 12-16 12-15zM1906 560l2 2 -3 10 -9 15 -15 18 -7 5 -3 0 1-5 9-17 13-17zM1949 560l1 2 0 6 -9 22 -7 14 -5 6 -3 0 1-5 7-17 7-17zM1985 562l4-2 -2 10 -6 15 -10 19 -5 6 -2 0 2-10 7-18 6-11zM2030 562l4-2 0 5 -5 13 -13 21 -10 11 -2-2 7-18 10-18zM2075 562l4-1 -2 9 -8 18 -10 17 -5 5 -3 0 3-10 7-17 8-13zM2128 562l6-2 1 2 -3 8 -8 12 -18 22 -7 6 -3 0 3-9 10-17 10-13zM2336 565l30-2 14 2 -11 5 -40 13 -25 23 -8 4 -2 1 0-3 5-10 17-23 10-7zM2834 565l60 6 85 21 25 3 37-4 18-10 7-2 55 2 23 0 37-5 15-3 18-7 10 0 12 3 20 9 65 24 14 8 -4 2 -5 0 -37-6 -33-10 -25-13 -10-2 -7 1 -18 8 -42 8 -28 1 -60-3 -25 10 -30 2 -22 0 -55-10 -78-18 -19-8 -5-4zM887 570l5 0 -13 10 -30 15 -18 8 -10 1 -2-2 32-17zM3596 569l0 17 -25 17 -12 7 -10 2 -2-2 2-2 6-8zM236 576l8 0 6 2 -14 4zM738 590l8 0 10 2 19 10 -1 2 -3 0 -30-5 -27 5 -1-2 1-2 6-5zM941 608l9 0 3 2 -14 0zM878 658l5 0 0 2 -3 5 -7 5 -29 15 -23 9 -15 4 -10 0 -20-4 -25-9 -15-1 -17 5 -30 25 -5 2 -10 3 -70-1 -98-9 -37 1 -43-1 -40 1 -75 8 -12 1 -7-1 7-6 23-7 57-12 42-2 48 2 35-2 20 1 95 19 45 5 20-13 17-19 13-11 7-4 15-3 10 0 45 12 13 1 27-5zM1106 658l4 0 -1 4 -30 32 -10 7 -20 10 -13 8 0-8 7-9 6-4 25-14 25-23zM2878 658l13-1 15 2 75 13 20 2 40-3 18-7 7-2 68 2 70-7 4 1 0 2 -5 5 -9 5 -35 8 -30 3 -63-3 -5 1 -12 9 -8 3 -40 3 -27-4 -48-12 -42-16 -6-2zM3234 658l10 0 100 28 15 3 5-1 5-2 15-13 20-13 7-3 3 1 0 2 -9 12 -15 16 -21 17 -10 3 -15-2 -30-8 -44-16 -16-7 -9-5 -9-8 -2-2zM3593 658l3-1 0 6 -11 12 -22 17 -27 17 -85 10 -9-1 1-3 8-5 18-8 17-3 48-7 35-23zM1034 658l2 0 -2 10 -7 17 -11 17 -5 5 -25-1 -35-5 -12 0 -30 7 -25 11 -4-1 2-6 5-4 14-10 8-4 22-6 18-1 30 5 25 2 7-1 13-16zM1256 658l1 2 -3 8 -5 7 -13 11 -13 6 -14 4 -65 3 -8 3 -15 13 -10 4 -5-1 5-8 30-25 73-3 20-8zM1315 660l6-2 1 2 -6 10 -37 29 -18 17 -5 2 0-3 3-7 15-18 20-16zM1400 660l6-1 2 1 -7 10 -14 12 -43 29 -13 6 -6 1 0-3 3-5 11-10 45-31zM1496 660l5-1 3 1 -2 5 -5 5 -17 15 -36 24 -15 7 -8 2 -1-3 3-5 20-18 28-20zM1598 660l3-1 2 1 -3 8 -11 14 -13 13 -12 10 -13 7 -12 5 -5-1 0-4 4-4 22-20 21-18zM1676 660l5 0 -1 5 -19 25 -22 20 -10 6 -5 0 0-4 5-7 17-22 15-14zM1753 660l3-1 2 1 -1 5 -20 27 -18 17 -10 7 -5 1 -2-2 2-5 17-22 18-18zM1823 660l4 0 -1 5 -20 29 -10 11 -10 8 -7 4 -3-1 5-11 16-23 14-14zM1889 659l1 1 -1 5 -14 25 -16 19 -13 8 -2-2 2-5 14-22 14-18zM1936 660l3 0 -2 10 -11 25 -10 14 -10 8 0-5 8-17 12-22zM1974 660l2 0 0 2 -9 26 -11 21 -7 8 0-5 2-7 7-20 8-16zM2016 660l3 0 0 2 -7 18 -13 24 -10 12 -3-1 2-5 8-22 10-18zM2063 660l2 0 -1 7 -13 28 -12 17 -5 4 -3 0 2-8 13-26 10-16zM2111 660l3-1 1 1 -1 5 -13 23 -17 24 -5 4 -3 0 5-16 10-19 10-13zM2176 659l2 1 -1 5 -18 29 -18 18 -7 5 -3-1 3-8 15-23 12-15zM2244 660l5-1 1 1 0 2 -11 16 -25 27 -10 8 -8 4 -1-2 1-5 18-26 15-15zM2316 659l2 1 -1 5 -8 13 -25 30 -10 8 -5 1 3-10 17-26 12-13zM2725 680l9-1 15 1 32 7 13 5 21 13 9 7 3 6 -3 1 -8-1 -42-14 -24-4 -16-1 -38 8 -40 2 -17 7 -10 2 -10-1 -20-5 -68 0 -45-5 -27 3 -23 6 -35 2 -23 0 0-3 8-3 53-9 17-10 20-4 18 0 40 5 65 1 22 10 8 1 5-2 22-13 40-3zM706 766l3 2 -4 7 -16 18 -10 6 -13 4 -52-1 -98-15 -12-1 -35 2 -43-1 -42 2 -115 19 -20 1 -8-1 19-8 46-12 38-8 37-5 130-2 108 15 45 3 7-2 13-7zM787 767l4-1 23 0 7 2 -5 2 -12 3 -10-2zM1024 766l0 6 -5 10 -5 8 -5 3 -33-2 -25-5 -12 0 -33 8 -32 14 -5 1 -2-1 6-6 24-14 22-9 15-3 12-1 33 5 30 2 5-3zM1080 768l4-1 0 1 -3 7 -7 8 -8 5 -22 10 -10 9 -2-2 4-10 6-5 27-14zM1222 768l7 0 -1 2 -6 5 -13 5 -68 4 -17 14 -23 10 -2 1 -2-1 4-6 5-4 18-10 17-15 65-2zM1287 768l3 0 0 2 -6 8 -23 22 -12 9 0-4 13-15 14-15zM1370 768l-1 4 -17 16 -26 15 -10 5 -5 0 1-3 12-10 30-20zM2724 768l28 0 32 5 30 12 38 23 -8 1 -10-1 -58-25 -27-6 -15-2 -8 2 -27 9 -43 3 -20 10 -7 2 -8-1 -22-7 -66-1 -52-6 -22 3 -23 9 -85 7 -27 4 -3-1 2-6 5-4 15-6 37-4 54-5 7-1 15-7 15-2 20 0 43 5 65 0 22 8 8 1 27-12 40-2zM3304 768l5-2 7 1 45 6 18-7 2 1 -2 5 -8 10 -5 4 -5 1 -10-1 -14-4 -26-10zM3556 766l4 2 -3 4 -11 10 -12 9 -55 6 -50 11 -5 1 -3-1 4-6 8-4 24-10 27-7 50-5zM1450 770l6-2 3 2 -8 10 -20 15 -22 13 -5 1 -1-1 5-8 12-10zM1557 770l7-2 1 2 -7 10 -14 12 -23 14 -7 2 -5 0 4-8 11-10 15-10zM1644 768l2 2 -12 18 -18 17 -5 3 -4 0 3-8 9-12 10-10zM1719 770l5-2 1 2 -4 8 -7 9 -15 15 -8 5 -5 1 -1 0 2-6 7-10 12-13zM1794 768l2 1 1 1 -11 18 -15 15 -5 4 -5 1 1-6 8-12 11-12zM1861 768l2 2 -3 8 -9 12 -12 14 -5 4 -3 1 -1-1 1-6 8-12 10-12zM1919 768l0 4 -8 17 -10 14 -7 6 -1-1 1-6 5-10 10-14zM1956 770l3 0 -5 15 -8 17 -5 6 0-6 3-9 5-12zM1996 769l2 1 -4 12 -8 16 -7 10 -1-6 3-9 8-15zM2044 768l1 2 -6 15 -10 17 -8 7 0-7 5-11 8-13zM2086 770l3-2 1 2 -6 15 -10 17 -5 6 -2 0 1-8 6-13zM2149 768l1 2 -3 8 -8 11 -15 17 -5 2 -2 0 3-8 6-11 10-12zM2209 770l5-2 1 2 -9 14 -15 18 -7 6 -3 0 1-6 7-12 10-12zM2286 768l2 2 -12 20 -12 14 -5 3 -5 1 1-6 7-10 12-14z"/>
<path fill="#00f" fill-opacity="0.609" d="M1041 568l5-2 1 2 -11 10 -10 20 -5 7 -1-3 1-3 10-21 5-8zM1124 566l2 2 -5 4 -20 13 -20 18 -5 3 -1-1 6-10 15-16 10-7zM1264 566l1 2 -8 12 -13 12 -13 8 -17 5 -33 0 18-1 17-5 20-11zM1331 568l5-2 2 2 -8 7 -13 10 -28 18 -7 2 2-5 10-10 19-12zM1418 568l6-2 1 2 -5 7 -16 13 -20 12 -13 5 -1-3 2-2 11-10 18-13zM1520 568l6-2 3 2 -5 7 -11 10 -26 15 -11 4 -5 0 0-2 1-2 15-12 19-13zM1619 566l2 2 -3 7 -8 10 -14 13 -7 5 -5 1 -1-2 1-2 7-10 13-14zM1694 568l5-2 1 2 -3 7 -10 13 -18 14 -5 2 -3-1 5-8 10-13zM1770 568l4-2 1 2 -3 7 -5 7 -13 15 -8 5 -5 2 -1-2 1-2 8-12 12-14zM1841 566l2 2 -1 4 -8 13 -13 14 -10 5 0-4 8-12 10-12zM1900 568l4-2 0 4 -8 15 -12 15 -8 4 1-4 7-12 10-14zM1946 566l1 4 -3 12 -8 16 -5 6 -1-2 0-2 4-10 7-17zM1983 568l3 0 0 2 -4 12 -8 16 -5 6 -1-2 0-2 3-11 8-15zM2029 566l1 2 -4 12 -10 17 -7 7 -1-4 6-13 7-13zM2074 566l1 2 0 2 -4 11 -7 14 -8 9 0-4 3-9 7-15zM2125 568l4-2 1 2 -6 13 -13 16 -5 5 -5 2 1-4 7-14 7-10zM2191 566l2 2 -7 13 -12 16 -10 7 0-4 5-10 10-14zM2262 568l4-2 1 4 -6 9 -7 9 -18 14 -5 2 -2-2 4-7 9-10zM3422 568l7-1 3 1 -36 29 -10 6 -7 2 4-7 15-16 13-10zM2327 570l14-2 9 2 -24 12 -17 17 -8 5 -2 0 2-7 10-14 8-8zM3210 570l11-2 15 3 65 27 9 4 1 3 -12 0 -30-7 -15-6 -23-11 -10-3 -7 2 -18 8 -40 7 -30 2 -60-3 -25 9 -26 2 -26 0 -20-3 -39-7 -71-17 -11-6 3-1 5-1 38 3 92 23 18 2 37-4 19-12 6-1 75 2 50-7zM3596 571l0 13 -1 1 -22 15 -12 5 -4 0 2-5 8-8zM871 663l3 0 1 2 -10 7 -19 10 -17 8 -18 5 -10 2 -7-1 -18-4 -25-9 -15-1 -17 5 -28 22 -6 3 -5 0 0-2 19-22 15-13 7-4 15-3 10 0 45 12 13 1 25-5zM1032 665l0 5 -6 16 -10 15 -5 4 -23 0 -47-5 -22 3 -28 10 -3-1 0-2 4-5 11-7 31-9 15-1 30 5 25 2 7-1 14-16zM1098 665l3-2 2 2 -9 13 -18 17 -12 8 -25 10 0-3 6-8 29-16zM1251 664l2 1 -1 3 -9 12 -11 8 -12 4 -14 3 -62 2 -5 2 -15 12 -5 2 -4-1 3-4 18-18 5-4 70-3 20-6zM1314 664l2 1 -5 7 -50 40 -1-2 2-5 13-15 16-13zM1399 664l2 1 -2 5 -5 5 -15 13 -35 21 -10 3 -2-2 6-8 13-10 30-19zM1490 665l6 0 0 3 -7 7 -11 10 -32 20 -10 5 -7 2 -1-2 3-5 17-15 23-16zM1593 665l4 0 -2 7 -10 13 -10 10 -21 14 -10 3 -3-2 5-8 19-17 16-13zM1671 665l5 0 -2 5 -15 20 -20 18 -8 4 -2-2 5-10 12-15 13-12zM1749 665l4 0 -1 5 -14 20 -17 16 -7 4 -5 1 0-3 3-6 11-14 13-14zM1819 665l3 0 -1 5 -15 22 -15 15 -7 4 -3-1 5-10 13-18 10-10zM1883 665l3 0 -2 7 -13 21 -15 16 -5 2 -2-1 4-10 11-16 10-12zM2013 665l2 0 0 5 -6 14 -10 18 -8 9 -1-1 1-5 5-15 10-18zM2062 665l-1 5 -7 18 -10 16 -8 7 -1-1 1-5 8-17 10-16zM2108 665l2 0 0 3 -6 13 -13 20 -10 10 -1-1 1-5 8-18 10-14zM2171 665l2 0 -2 7 -12 20 -13 14 -5 4 -5 1 0-3 3-6 10-15 12-15zM2239 665l5 0 0 3 -15 20 -20 19 -8 5 -2-2 5-10 12-17 13-12zM2311 664l2 1 0 3 -12 17 -17 21 -5 4 -5 2 0-4 2-6 10-16 13-14zM2905 665l4-2 10 1 65 10 20 2 37-3 18-7 7-1 68 1 52-3 8 2 -19 7 -34 7 -20 0 -55-4 -5 2 -17 12 -40 3 -20-1 -24-6 -34-10 -13-5zM3246 665l3-2 12 2 85 24 15 2 8-4 15-12 15-10 5-2 2 1 1 1 -4 7 -12 13 -20 17 -10 4 -20-3 -47-13 -37-15 -7-5zM3581 665l8-2 1 2 -5 7 -14 13 -25 17 -10 5 -21 3 -55 2 0-2 5-2 14-6 55-8 25-17zM1934 665l2 3 -7 20 -8 13 -10 10 -2-1 5-12 10-19zM1971 665l2 3 -4 14 -10 21 -5 7 -3 2 0-5 5-16 8-16zM2731 681l13 0 35 6 25 13 10 8 2 4 -7 0 -38-10 -37-5 -35 8 -40 2 -20 6 -10-1 1-2 17-12 9-5 40-3zM2482 690l14 1 38 5 65 1 13 5 13 8 1 3 -10 0 -20-4 -65 0 -45-4 -27 3 -18 5 -12-1 -3-2 13-4 17-11zM497 692l19 1 49 9 22 6 7 2 1 2 -24 0 -65-5 -37 1 -75 0 -58 5 -17-1 1-2 13-5 47-10 44-2 45 1zM699 775l-2 5 -11 13 -10 5 -10 2 -62-2 -98-15 -37 3 -43-2 -42 2 -88 14 -12 1 -6-1 20-8 33-7 45-7 35-1 105 0 103 14 45 3 7-2 10-5zM1077 775l-3 5 -7 5 -31 16 3-6 6-5zM1165 775l45 0 -11 3 -55 2 -5 3 -15 13 -11 4 -5 0 16-10 15-13zM2714 775l-7 5 -8 3 -43 3 -17 9 -10 3 -8-1 -22-7 -65 0 -50-7 -25 3 -15 7 -8 2 -80 5 -20 0 4-2 24-6 72-7 20-7 15-1 23 0 40 4 65 0 22 8 8 1 27-12zM2768 775l11 0 17 5 21 10 13 10 -6 0 -15-5zM3333 775l28 2 11-2 -3 5 -8 4 -13-2 -12-4zM3547 775l-2 5 -11 8 -53 6 -35 7 -8-1 13-8 16-5 19-3 45-5zM1019 776l0 4 -3 5 -5 5 -2 1 -30-2 -28-5 -10 0 -25 5 -10 3 -20 8 -4 0 19-13 28-8 17-1 30 4 33 2 2-1zM1279 776l2 1 -14 15 -11 9 5-9zM1359 776l1 2 -8 7 -10 7 -15 8 -4 0 11-10zM1446 776l2 2 -6 7 -10 7 -13 8 -5 1 1-3 9-8zM1548 778l6-2 1 2 -6 7 -13 10 -10 5 -6 0 9-10zM1636 776l2 2 -7 10 -10 10 -5 3 -2-1 2-5 5-7zM1713 778l3-2 1 2 -6 9 -10 10 -7 4 -1-3 4-6 7-8zM1785 778l4-2 0 2 -5 9 -8 9 -7 5 -1-3 3-6 8-9zM1853 778l3 0 -5 9 -10 11 -5 3 1-3 4-8zM1914 776l1 2 -4 8 -7 11 -5 4 0-3 2-7zM1954 776l0 4 -3 8 -5 10 -2 3 2-11zM1991 778l3 0 -3 7 -5 10 -5 6 3-10zM2039 776l1 2 -4 9 -10 14 0-3 3-8zM2084 776l0 2 -3 8 -5 9 -5 6 0-3 3-8zM2141 776l2 2 -4 8 -8 9 -7 6 0-3 2-6zM2203 778l3-2 1 2 -6 10 -10 11 -2 2 -2-1 4-10zM2279 777l2 1 -5 9 -7 9 -8 5 0-3 3-6z"/>
<path fill="#00f" fill-opacity="1.000" d="M1111 572l4 0 -31 26 -2 0 12-16 7-5zM1259 572l0 3 -4 5 -14 13 -10 5 -5 0zM1326 572l2 0 -1 3 -13 10 -20 12 -4 1 4-6 10-7zM1414 572l3 0 -1 3 -12 10 -15 10 -8 3 -2 0 7-8 10-8zM1516 572l4 0 -1 3 -10 10 -18 10 -7 3 -3 0 3-6 10-7zM1614 572l0 4 -8 10 -10 9 -6 3 2-6 7-8 10-9zM1768 572l1 3 -8 11 -10 10 -5 2 2-6 6-8 10-10zM1836 572l1 3 0 3 -6 7 -10 11 -5 2 2-6 6-8zM1899 572l0 5 -5 9 -8 9 -5 3 0-3 8-13zM1944 572l0 6 -3 7 -7 13 0-5 2-7zM2026 572l1 3 -3 7 -10 15 -2-2 4-10 5-8zM2071 572l0 5 -2 7 -5 9 -5 5 0-3 5-12zM2124 572l0 3 -5 10 -8 9 -5 4 0-3 5-10 8-9zM2186 572l1 3 -3 7 -8 10 -7 6 0-3 5-10zM2261 572l0 3 -1 3 -8 10 -8 7 -8 3 2-6 8-9 10-9zM1036 573l1 2 -11 21 -1-1 1-5 5-10zM1691 573l2 2 -12 15 -7 6 -5 2 0-3 5-7zM1981 573l0 7 -5 11 -5 7 0-6zM2323 575l6 0 -15 17 -9 6 1-5 5-7 5-6zM3211 574l4 1 -19 10 -38 7 -29 2 -63-2 -16 6 -5 0 11-10 10-5 73 3 35-5zM3227 575l4-1 7 1 38 15 12 8 -8 0 -26-8zM3412 575l4-1 2 1 -19 18 -8 4 -3 1 1-3 7-7zM3596 574l0 7 -4 4 -16 10 -5 3 -3 0 1-3 8-7zM2877 578l7-3 20 3 49 12 18 8 -12 0 -29-6zM854 670l7-1 2 1 -10 8 -15 7 -14 5 -20 5 -9 0 -19-5 -27-10 -8-1 -7 1 -15 5 -28 22 -2 1 -1-3 13-18 15-12 8-3 15-2 10 1 42 10 10 1 25-4zM1096 669l1 1 -2 5 -11 12 -9 8 -9 5 -20 7 -1-2 6-5 20-11zM1245 670l3 0 -1 2 -9 10 -8 6 -13 4 -18 2 -55 2 -20 12 0-3 7-9 11-8 72-4 17-6zM1305 670l5 0 -6 8 -35 27 -3 1 -1-1 4-7 10-11zM1390 670l4 0 -5 8 -12 10 -26 15 -10 4 -1-2 14-13 22-15zM1483 670l5 0 0 2 -16 16 -24 14 -9 4 -3 0 -1-1 6-7 13-11 15-10zM1588 670l4 0 -2 5 -15 17 -18 13 -6 1 -2-1 3-5 12-12 12-11zM1667 670l3 0 -1 5 -13 16 -15 13 -5 2 -2-1 5-9 9-11 11-10zM1745 670l3 0 -1 5 -11 14 -13 13 -4 3 -5 1 2-6 10-14 10-10zM1815 670l2 0 0 5 -11 15 -12 13 -5 3 -3 0 2-6 8-13 10-11zM1882 670l-1 4 -10 17 -10 11 -5 4 -2 0 2-8 8-12 10-12zM2012 670l0 5 -6 12 -7 13 -5 6 -1-1 0-5 6-13 7-13zM2058 670l1 3 -8 18 -7 11 -5 4 0-4 5-12 7-13zM2106 670l1 2 -8 16 -10 14 -5 4 0-6 7-15 8-10zM2167 670l2 0 0 3 -10 17 -10 12 -8 4 0-4 8-13 10-13zM2235 670l3 0 0 2 -11 16 -16 15 -5 3 -2-1 5-10 7-10 10-10zM2305 670l3 0 0 2 -6 10 -13 17 -10 7 -1-1 1-4 7-13 10-12zM2925 670l4-1 12 0 43 7 20 2 37-3 20-6 98 0 7 1 -16 5 -19 1 -65-5 -19 14 -6 3 -37 3 -13-1 -25-5 -32-10zM3257 670l4-1 11 1 77 21 12 1 8-3 14-11 8-6 8-3 2 1 -7 10 -18 16 -9 6 -6 2 -22-3 -40-11 -26-10 -10-5zM3576 670l5-1 2 1 -3 5 -11 10 -30 19 -8 2 -20 1 -22 1 -3-2 0-1 10-3 38-6 20-14zM1029 671l1 1 0 3 -4 9 -7 12 -8 7 -32 0 -25-4 -13-1 -20 3 -25 7 0-3 3-3 8-4 29-8 15 0 25 4 33 3 6-5zM1931 671l2 1 -4 14 -8 13 -7 7 -1-4 3-7zM1969 670l1 2 -4 14 -7 15 -5 5 0-4 5-14zM2729 683l22 1 28 5 13 6 13 10 -1 3 -3-1 -35-8 -32-3 -38 7 -37 2 -15 3 -1-3 4-5 9-5 40-3zM2476 692l20 0 38 7 62 0 6 1 7 5 0 2 -3 1 -75-1 -42-4 -18 1 -22 3 -2-2 9-8zM490 695l26 0 41 10 -1 2 -2 1 -48-4 -105 1 -47 3 -3 0 -2-3 16-5 21-3 40-2 43 2z"/>
<path fill="#000" fill-opacity="0.178" d="M1096 468l5-2 4 2 -2 4 -22 21 -12 6 -5 1 -5-2 0-3 3-3 27-20zM1251 467l4 1 -1 4 -7 8 -13 10 -13 5 -12 2 -65 1 -8 2 -2 0 -2-2 4-8 5-5 70-3 20-6zM1310 468l9-1 2 1 0 2 -8 8 -22 14 -12 6 -5 1 -1-1 1-6 8-10 16-10zM1398 468l8-1 4 1 0 2 -9 10 -20 12 -15 6 -10 0 -1-3 2-3 11-10 17-10zM1497 468l12-1 3 1 1 2 -2 5 -5 5 -17 10 -20 7 -13 1 -2-3 1-3 11-10 17-10zM1600 468l9-1 2 3 -2 5 -5 7 -9 8 -9 5 -7 3 -8-1 -2-2 1-3 5-7 11-10zM1678 468l8-1 3 1 1 2 -2 5 -5 7 -9 8 -8 5 -7 3 -8-1 0-5 7-10 11-10zM1756 468l8-1 2 3 -2 5 -5 7 -8 8 -7 5 -8 3 -5-1 -1-2 0-3 7-10 9-9zM1826 468l5-1 3 1 1 2 -1 5 -5 7 -8 8 -6 5 -6 3 -6 0 -2-3 1-3 4-8 10-11zM1889 468l5-2 3 2 0 4 -3 8 -13 14 -7 4 -5-1 -1-5 6-10 7-9zM1939 468l2-2 3 4 -3 10 -7 13 -5 4 -3 1 -2-3 2-9 8-14zM1976 468l3-2 2 3 -2 11 -8 13 -5 5 -2 0 -2-3 2-8 5-11zM2019 468l5-1 1 3 -4 11 -10 14 -5 3 -2 0 -1-6 3-10 5-8zM2065 468l5 0 0 2 -1 8 -8 13 -5 5 -5 2 -2-3 2-8 8-14zM2114 468l5-1 2 1 1 4 -3 7 -13 15 -7 4 -4 0 -1-3 0-3 5-10 7-9zM2176 468l5-2 3 2 1 4 -4 8 -7 9 -8 6 -5 2 -5 1 -2-3 1-3 4-8 7-9zM2247 468l7-1 3 1 1 2 -2 5 -5 7 -9 8 -8 5 -8 3 -5 0 -2-2 0-4 7-10 10-9zM1031 468l2 2 -7 18 -5 6 -2 1 -3 0 0-3 3-7zM2311 470l5 0 3 2 -1 6 -4 6 -13 12 -5 2 -5 0 -1-3 0-3 4-7 7-9zM2923 472l8-1 13 0 60 4 37-2 18-2 92 0 19 1 -2 3 -7 2 -25 4 -27-1 -43-4 -22 13 -40 3 -24-2 -25-5 -27-7 -4-3zM3255 472l11-1 21 1 35 8 27 9 12 2 23-17 12-3 6 1 -4 8 -9 8 -13 7 -7 1 -35 0 -28-4 -36-10 -11-4 -3-3zM3568 472l11-2 5 2 0 3 -5 5 -14 10 -16 6 -5 0 -4-1 -1-3 2-2 8-8zM1100 545l6 0 7 3 1 2 -3 5 -34 35 -31 18 -9 10 -8 12 -3-1 -1-7 1-10 5-16 5-9 13-9 22-12 20-17zM1030 548l4-3 2 1 2 4 -1 5 -11 25 -15 21 -7 1 -25-2 -30-5 -15 0 -30 9 -28 18 -10 4 -15 3 -5-1 -3-3 -1-3 2-4 12-13 14-10 31-18 25-7 18-2 35 4 30 2 6-4zM1251 546l5 0 3 4 -1 5 -10 15 -15 12 -12 6 -12 3 -68 2 -6 5 -14 14 -25 16 -7 2 -3-2 -1-6 1-7 3-7 8-11 8-7 19-10 17-14 70-3 16-5zM1307 548l7-2 7 1 5 3 -1 2 -2 6 -7 7 -39 30 -26 29 -5 3 -5 1 -6-3 -2-5 3-8 19-22 29-28 12-9zM1393 548l13-1 5 3 0 2 -4 8 -14 12 -24 18 -48 31 -15 6 -5 0 -5-2 -2-5 3-8 15-14 62-42 10-5zM1490 548l14 0 5 2 0 2 -3 6 -7 7 -25 20 -35 23 -23 12 -20 5 -7 0 -3-3 -1-2 2-5 6-7 46-36 27-17 13-5zM1595 548l6-1 5 2 2 3 -3 6 -22 27 -22 18 -20 12 -20 6 -22 3 -8-1 -2-3 3-5 5-5 59-45 23-13zM1673 548l11 0 2 2 0 5 -15 20 -22 24 -15 12 -15 9 -13 4 -5 0 -5-2 0-4 5-8 35-41 20-16zM1756 547l5 2 1 6 -15 23 -18 20 -15 13 -15 9 -13 3 -11-1 -1-2 0-2 5-8 35-39 20-17 10-5zM1821 548l7 0 3 1 0 6 -14 23 -18 21 -13 12 -12 8 -13 5 -8-2 -2-2 1-2 4-8 33-41 17-16zM1885 548l6-1 3 2 0 6 -13 23 -17 23 -10 10 -13 9 -10 3 -9-1 -1-4 3-6 32-43 15-15 8-5zM1936 548l3-1 2 2 0 6 -10 27 -10 19 -7 9 -10 9 -10 5 -8-1 -1-5 4-8 25-40 12-16zM1976 547l3 2 0 6 -13 32 -15 28 -7 7 -5 2 -3-2 0-7 18-44 10-17 5-4zM2015 548l6 0 1 7 -18 38 -10 17 -8 9 -7 4 -5 0 -1-5 3-10 18-39 10-14 5-5zM2061 548l5 0 2 2 0 5 -9 22 -10 20 -8 11 -10 10 -7 5 -8 0 -1-3 2-7 19-38 13-18 7-7zM2110 548l6 0 3 2 0 2 -10 21 -18 27 -10 13 -10 9 -7 2 -3-4 3-9 20-41 12-16 8-5zM2172 548l7 0 2 1 0 6 -9 17 -18 25 -13 13 -12 10 -10 3 -8-1 -1-4 3-8 28-40 18-17zM2241 548l8-1 5 2 0 6 -7 10 -21 24 -17 18 -13 10 -12 6 -5 1 -6-2 0-4 3-8 30-41 18-15zM2309 548l10 0 2 2 -1 5 -9 15 -25 32 -12 12 -10 7 -13 3 -8-2 -1-2 3-8 36-45 15-14zM2896 548l13-2 20 0 77 5 35-2 23-3 115 0 20 1 5 3 -3 5 -5 3 -34 10 -33 3 -63-4 -5 2 -12 9 -8 3 -40 3 -29-4 -52-15 -25-10 -3-3 0-2zM3241 548l13-2 25 1 80 14 7-1 15-9 13-4 12-1 4 2 1 2 -5 10 -13 15 -24 21 -5 3 -5 0 -13-1 -35-10 -52-20 -9-6 -9-7 -3-5zM3571 548l18-2 5 2 1 4 -5 8 -14 12 -40 30 -12 2 -38 4 -20 3 -34 9 -31 10 -5 0 -5-2 0-6 3-4 10-13 13-13 13-7 19-7 25-7 60-7 20-10zM864 556l5 2 1 2 -9 8 -20 10 -18 7 -19 5 -10 0 -15-4 -33-12 -7-1 -10 3 -13 5 -30 29 -10 4 -10 3 -52-2 -103-13 -45 2 -52-1 -40 2 -100 15 -38 5 0-27 79-18 59-9 40-2 52 1 45-2 108 15 45 2 12-4 10-6 15-11 15-5 45-1 43 3zM2739 560l35 2 12 2 28 10 30 14 46 10 48 14 18 8 5 5 -2 3 -5 1 -23 1 -85-7 -15-4 -52-23 -23-6 -22-2 -10 2 -28 7 -40 3 -20 9 -7 2 -9-1 -21-7 -65 0 -35-4 -13-1 -27 5 -18 7 -12 3 -90 9 -23 3 -5 0 -2-3 2-7 8-12 7-8 6-3 32-7 75-11 15-6 7-2 25-2 48 5 62 0 8 1 17 6 8 0 27-10 40-1zM3213 592l8-1 13 4 40 23 7 7 -1 3 -4 1 -10 1 -15-1 -32-5 -20 4 -18 1 -70 1 -55 0 -5-2 -1-3 6-10 8-6 17 0 45 4 20-1 48-10zM3596 596l0 30 -12 4 -10-1 -3-4 4-7zM713 640l11-1 17 2 23-2 37 3 40-3 8 2 2 3 1 4 -6 7 -12 7 -15 6 -15 2 -10-1 -15-4 -33-16 -10 0 -15 7 -5 3 -32 34 -13 7 -7 2 -50-3 -103-16 -45 1 -55-1 -42 3 -133 27 0-39 95-18 55-7 123-1 110 13 45 1 7-1 13-5 15-11zM1027 640l2 5 -3 19 -7 15 -8 9 -32-2 -33-5 -20 3 -25 7 -60 35 -12 5 -15 3 -23 0 -50-7 -20 2 -22 8 -5-2 -1-3 3-10 7-10 13-13 10-5 13-2 10 0 30 11 22 5 33-12 45-21 25-15 17-7 13-3 12-1 33 6 30 3 4-3 8-12zM1084 640l5 0 3 2 1 6 -2 7 -7 13 -12 12 -26 13 -8 7 -5 8 -9 21 -8 8 -7-3 -43 3 -45 0 -10-2 -5-3 0-7 5-5 15-8 13-3 15 1 22 7 33 5 5-7 22-42 10-9zM2958 640l88-1 5 1 3 2 1 3 -5 7 -9 7 -25 3 -17 1 -27-5 -18-8 -6-5 1-3zM3279 640l25 0 57 6 20-6 8-1 5 3 0 3 -5 10 -15 17 -8 7 -7 1 -24-5 -29-10 -17-7 -13-8 -4-5 1-3zM3560 640l9-1 5 2 1 4 -2 5 -11 12 -26 21 -12 3 -45 5 -28 7 -30 12 -32 20 -13 5 -7 2 -38-1 -37-4 -38-9 -25-10 -10-2 -7 1 -20 7 -43 6 -25 1 -60-2 -25 8 -37 1 -28-1 -42-7 -90-16 -10-4 -53-27 -27-7 -20-2 -10 2 -28 9 -40 2 -20 11 -7 3 -8-1 -22-9 -65 0 -40-6 -20 1 -18 3 -15 8 -5 1 -67 9 -33 5 -10 3 -17 14 -13 6 -10 1 -3-3 1-6 7-12 25-32 10-9 13-4 32-4 65-6 20-6 23-3 17 0 38 4 65 0 22 6 8 1 27-10 40-1 38-5 27 2 23 3 30 10 30 12 49 10 81 21 25 4 22-1 20-2 20-12 5-1 58 3 22-1 45-8 23-9 10-1 10 3 22 12 40 15 55 20 10 1 8-4 14-16 28-25 18-11 17-6 20-5 20-3 48-4zM1225 642l14 0 2 2 2 4 -1 7 -3 5 -5 5 -7 5 -11 5 -7 1 -68 4 -17 14 -23 13 -17 20 -8 7 -5 2 -7 1 -6-2 -4-3 0-7 6-7 39-37 25-16 12-14 5-3 68-3zM1284 645l10-2 7 2 1 5 -3 8 -7 10 -23 21 -25 27 -13 10 -12 5 -10 2 -63 2 -10 1 -5-1 -1-3 -1-4 2-8 5-9 5-4 11-2 57-2 7-2 18-8 17-13 25-29zM1368 645l13-1 5 4 0 2 -4 8 -11 12 -16 12 -38 26 -28 20 -10 5 -5 1 -3-2 -2-4 2-10 5-8 7-8 66-48 10-6zM1466 645l8 1 3 2 1 2 -2 5 -15 15 -25 20 -35 24 -22 13 -18 5 -7 0 -5-2 -1-2 1-6 8-10 62-46 25-15 12-5zM2292 645l7 0 2 2 -1 8 -26 38 -13 15 -12 10 -15 8 -15 4 -8-1 0-7 5-7 28-32 30-28 10-7zM1562 648l17-2 4 2 1 2 -4 8 -12 12 -19 18 -20 15 -25 14 -28 10 -22 4 -7-1 -2-2 3-8 10-10 51-37 27-16zM1644 648l12-2 5 1 2 3 -8 12 -39 45 -15 12 -15 8 -17 3 -5 0 -5-2 2-6 4-4 46-49 18-14zM1723 648l13-2 4 2 1 2 -7 12 -30 36 -18 16 -15 10 -15 6 -12 0 -2-2 0-3 4-7 33-39 22-20 13-8zM1795 648l11-2 5 2 0 2 -3 8 -7 10 -27 34 -15 15 -15 9 -15 4 -5 0 -3-2 1-6 5-7 34-42 18-16zM1862 648l7-2 5 0 2 2 0 4 -12 21 -20 27 -15 16 -13 9 -12 5 -5 0 -5-1 -1-4 3-7 30-40 20-21zM1919 648l5-2 5 1 0 8 -10 21 -15 25 -10 13 -13 11 -10 4 -10 1 -1-5 2-5 24-38 18-22zM1958 648l6-2 2 1 0 8 -20 49 -7 13 -8 9 -7 4 -5 0 -1-5 1-5 22-49 10-17zM1998 648l3-2 5 0 2 6 -19 43 -10 18 -8 11 -7 6 -5 0 -2-5 2-7 17-41 10-18zM2045 648l4-2 5 0 1 6 -6 15 -15 28 -10 16 -10 12 -8 5 -8 2 -2-2 0-3 3-7 17-37 15-22zM2089 648l5-2 5 0 2 2 0 4 -25 48 -10 16 -7 8 -8 5 -7 0 -1-4 1-5 22-46 13-18zM2149 648l10-2 4 2 0 2 -4 10 -20 29 -15 19 -13 13 -12 8 -5 1 -5 0 -2-5 4-10 23-37 17-19zM2213 648l6-2 7 0 3 2 1 2 -3 8 -31 39 -12 15 -13 11 -12 6 -10 1 -2-2 2-8 30-44 17-19zM3596 676l0 39 -20 12 -20 8 -15 2 -8-5 0-2 17-18zM2726 710l8-1 14 1 28 7 14 8 4 5 0 2 -3 3 -7 2 -50-2 -30 2 -45-1 -4-1 -3-3 3-4 4-3 37-4zM2477 722l20 0 16 6 4 2 1 2 -6 3 -13 1 -25-1 -13-3 -1-2 3-2zM506 724l10 1 8 3 4 2 1 2 -5 3 -18 1 -40-1 -65 0 -15 0 -8-3 1-2 7-2 23-2 20-1 37 3zM316 748l40-2 68 2 45-1 30 3 -3 2 -25 4 -45-2 -42 3 -148 35 0-35zM520 748l36-2 108 4 25-4 5 1 1 3 -4 10 -7 9 -15 9 -10 1 -43-3 -45-8 -35-8 -24-8 -2-2zM900 748l9-2 12 0 23 6 25-6 42 0 3 0 2 3 1 6 -3 12 -3 3 -2 1 -35-3 -25-12 -8-1 -37 19 -25 16 -33 15 -17 8 -20 5 -10 1 -10-1 -38-9 -10-1 -20 3 -17 9 -10 4 -10-1 -5-3 2-5 19-23 14-12 7-5 13-3 12 0 48 14 15 0 20-5 20-7 25-12 17-11zM1048 748l11-2 7 2 4 4 -1 6 -8 10 -25 19 -12 23 -10 11 -5 2 -23-1 -42-3 -48 5 -7-1 -2-3 4-8 10-7 13-5 20-5 15-1 30 5 25 2 7-1 14-18 11-26 5-5zM1126 748l8-1 3 3 1 5 -7 15 -7 9 -23 13 -22 21 -8 5 -20 5 -7 1 -5-2 -1-2 1-5 7-7 28-17 30-31 7-5zM2506 748l20-2 78 0 25 2 17-2 33 4 -3 2 -20 4 -18 14 -7 3 -5 1 -5-2 -17-8 -8-2 -60 0 -14-2 -22-8 -1-2zM2790 748l11-2 15 2 28 7 55 8 80 18 22 3 40-3 20-11 5-1 55 3 23-1 37-5 15-3 18-6 10 0 10 2 22 9 85 28 20 4 8-4 15-14 25-20 10-5 10-4 25-5 30-2 47 0 7 2 2 2 -2 5 -8 5 -51 8 -33 11 -25 11 -27 21 -13 7 -10 4 -12 2 -38-3 -30-5 -35-10 -25-12 -10-2 -7 1 -18 7 -45 8 -25 1 -60-3 -25 10 -37 2 -25-2 -45-8 -94-20 -14-8 -31-20 -7-8 -1-2zM1265 750l6-1 4 3 0 8 -3 8 -18 22 -13 11 -10 6 -12 5 -10 2 -65 2 -18 8 -10-1 -3-3 2-5 21-20 5-3 68-3 17-6 14-8 19-21zM1340 750l9 1 3 4 -3 7 -11 13 -20 15 -47 31 -7 2 -5-2 0-6 5-7 17-18 40-33 10-5zM2449 748l14 2 2 2 -26 16 -75 8 -20 3 -15 4 -5 3 -15 16 -18 16 -12 5 -5-1 -3-2 0-5 4-7 16-26 13-13 15-11 7-4 8-1zM1429 751l7 1 3 2 0 4 -9 12 -24 20 -27 18 -20 11 -10 3 -10 1 -7-1 -3-2 0-2 4-6 11-10 55-39 12-7zM1528 752l13 1 3 2 0 3 -4 4 -11 10 -35 27 -23 13 -17 8 -20 3 -5-1 -5-2 1-5 7-7 44-35 28-14zM1620 752l9 1 1 2 -1 5 -20 26 -20 21 -13 8 -12 6 -18 2 -8-3 0-5 6-7 35-32 22-16 10-5zM1698 752l8 0 3 2 -1 6 -9 12 -28 31 -12 10 -13 7 -12 3 -8-2 0-6 6-10 12-15 12-13 23-17 10-5zM1773 752l8 2 1 1 -1 5 -10 15 -25 30 -12 10 -10 6 -13 2 -6-3 0-5 6-10 25-30 20-16zM1841 752l8 1 1 2 -1 5 -13 20 -20 25 -10 9 -10 6 -10 3 -7-2 -1-3 3-8 23-32 20-18 10-5zM1902 752l7 1 0 7 -13 22 -15 22 -10 10 -7 5 -10 4 -8-2 0-6 4-7 21-32 18-17zM1949 752l2 3 0 5 -17 42 -5 9 -8 8 -7 3 -5 0 -3-2 0-5 10-21 18-30 7-8zM1985 753l4 0 0 7 -15 36 -13 21 -5 4 -5 1 -2-2 0-5 12-34 13-20 5-5zM2029 752l5 1 1 2 0 5 -19 36 -15 21 -7 5 -5 0 -2-4 2-8 15-33 12-17 8-6zM2074 752l5 1 1 2 -1 5 -20 43 -8 11 -5 5 -7 3 -5 0 -2-4 2-8 15-30 12-18 8-7zM2128 752l6 0 2 2 1 4 -5 10 -18 25 -10 14 -10 10 -8 5 -7 0 -2-4 2-8 7-17 10-16 15-16 8-5zM2191 752l8 1 1 2 -1 5 -30 44 -10 10 -8 5 -10 3 -7-1 -2-3 4-10 20-29 18-18 10-6zM2264 752l10 0 1 3 -1 5 -10 16 -18 20 -15 13 -15 10 -12 4 -5-1 -3-2 1-5 5-10 12-17 10-11 20-15zM3596 760l0 36 -15 11 -15 9 -17 6 -13 2 -52-1 -10-1 -6-2 1-2 11-6 54-8zM2725 790l9-1 15 1 32 7 22 13 6 5 3 5 -6 3 -10 1 -62-3 -35 2 -50 1 -9-2 -3-2 2-5 5-5 12-8 40-3zM404 800l62 1 48-2 67 13 15 6 1 2 -13 3 -38 1 -200 0 -22-1 -7-3 1-2 5-3 26-7 25-6zM2470 800l21-1 43 7 65 0 13 6 5 6 0 2 -3 2 -10 2 -80 0 -73 0 -22-4 1-2 9-4 15-10z"/>
<path fill="#000" fill-opacity="0.162" d="M1026 562l3-1 1 4 -4 12 -10 16 -5 5 -32-2 -25-5 -13 0 -32 6 -25 8 -8 0 -3-3 4-4 13-10 14-7 10-3 17-4 15-2 33 4 30 1 5-2zM1089 561l5 0 1 4 -6 10 -10 10 -10 8 -21 9 -14 9 -3 0 0-10 3-7 5-7 10-7 20-8zM1244 561l2 1 1 3 -3 5 -8 8 -16 7 -11 3 -65 2 -5 2 -13 10 -7 4 -15 5 -8-1 0-6 7-9 21-12 17-13 68-2zM1293 562l11-1 3 1 0 3 -8 10 -20 16 -18 15 -7 4 -5 0 -2-2 2-6 12-16 18-16zM1376 562l13-1 3 1 0 3 -2 5 -11 10 -33 21 -22 9 -8 0 -5-2 0-3 4-5 12-10 32-20zM1468 562l13-1 4 1 2 3 -2 5 -10 10 -31 20 -23 9 -10 1 -5-2 0-3 3-5 17-15 23-15zM1575 562l9-1 5 1 2 3 0 3 -8 12 -13 12 -14 9 -15 6 -15 2 -8-1 -2-3 3-5 20-18 20-13zM1655 562l11 0 4 3 -3 7 -11 15 -12 11 -10 7 -13 4 -7-1 -1-3 2-5 14-19 12-11zM1734 562l7-1 5 1 2 6 -6 10 -11 13 -10 9 -12 7 -10 2 -7-1 -1-3 2-5 16-19 12-12zM1805 562l9-1 3 1 1 3 -4 10 -10 14 -10 10 -10 7 -10 3 -6-1 -1-3 2-5 12-18 13-13zM1871 562l5-1 5 1 1 6 -6 12 -7 11 -8 8 -10 7 -10 3 -5-1 0-6 3-4 10-16 12-13zM1927 562l4-1 2 1 1 6 -5 15 -5 9 -5 7 -8 7 -7 3 -5-1 -1-3 1-5 10-17 10-14zM1964 562l5-1 2 4 -5 18 -10 18 -5 6 -5 2 -2-1 0-4 5-17 7-16zM2005 562l6 0 2 3 -4 14 -13 22 -7 7 -5 1 -2-1 0-6 7-18 7-14zM2052 562l4-1 3 2 0 2 -3 12 -5 11 -12 17 -8 4 -5-1 -1-3 1-5 8-16 10-15zM2097 562l7 0 2 1 1 5 -3 7 -8 13 -10 14 -7 6 -5 1 -3-1 0-6 8-18 10-16zM2158 562l8 0 3 3 -3 10 -10 15 -10 10 -7 6 -8 3 -7-1 -1-3 1-5 10-16 12-14zM2223 562l11 0 2 0 2 3 -1 5 -7 10 -14 15 -12 10 -10 4 -5 0 -2-1 0-6 2-4 12-19 10-10zM2295 562l9 0 3 3 -2 7 -11 16 -10 12 -10 7 -8 2 -6-1 -1-3 2-5 13-19 10-12zM2960 562l84-1 6 1 2 3 -4 7 -7 4 -20 3 -20 1 -18-2 -17-6 -10-4 -1-3zM3281 562l28 0 52 5 18-5 7-1 5 1 1 3 -3 7 -15 16 -8 6 -7 1 -18-3 -45-14 -18-10 -1-3zM3554 562l15 0 4 3 0 3 -12 12 -17 13 -10 5 -55 5 -53 8 -10 0 -2-1 -2-2 3-8 9-8 31-12 29-6 50-5zM2460 575l16 0 25 3 28 1 70 1 27 5 30-7 45 0 11 2 -1 2 -11 6 -41 3 -18 7 -11 2 -11-1 -20-5 -65 0 -38-4 -20 2 -20 4 -15 6 -15 2 -75 5 -17 0 -8-2 0-3 4-4 11-5 10-3 27-4 61-8zM2773 575l16-1 17 3 14 5 21 11 36 9 6 3 1 3 -13 1 -22 0 -15-1 -13-3 -15-5 -35-15 -7-5 2-2zM388 580l131 0 54 5 46 7 42 3 8-2 27-14 5-1 3 2 -2 5 -11 11 -7 4 -10 2 -75-1 -93-8 -37 2 -43-1 -37 1 -85 7 -13 0 -6-2 2-3 5-2 29-7 34-6zM3214 598l5-2 8 2 8 4 3 6 -4 2 -5 1 -15 0 -8-2 -1-1 0-3zM361 660l155-1 105 7 38 1 12-1 25-8 5 1 3 1 1 2 -4 8 -15 18 -12 8 -10 2 -53-3 -100-16 -45 2 -50-1 -30 1 -17 2 -96 20 -37 6 0-31 72-13zM932 660l19 0 58 4 12-6 3 4 -2 8 -6 10 -5 5 -2 1 -30-2 -30-5 -13 0 -32 9 -33 17 -22 10 -20 3 -14-3 -1-3 2-2 8-5 75-38 10-3zM1076 658l5 2 0 5 -4 7 -9 8 -22 11 -7 5 -4 4 -9 15 -5 3 -2-3 0-2 2-8 15-29 13-9zM1137 660l7-1 70 0 9 1 2 2 -3 6 -11 5 -70 4 -17 15 -20 10 -18 14 -7 2 -5-3 0-3 4-7 18-20 10-7 18-9zM1277 660l4-1 5 1 2 2 0 3 -3 5 -34 34 -15 11 -17 2 -65-2 -4 0 -2-3 19-2 32-1 15-3 22-12 33-29zM1356 660l10 0 3 2 -1 3 -5 7 -12 10 -27 18 -23 13 -12 4 -5 0 -3-2 0-5 3-5 15-13 37-24zM1452 660l4 2 1 3 -1 3 -9 10 -19 14 -19 13 -18 8 -12 3 -11-1 -1-3 1-2 4-5 25-20 29-19 10-4zM2280 660l6 1 1 7 -11 18 -12 15 -10 8 -10 5 -13 2 -5-3 0-3 4-8 19-21 17-15 8-4zM2449 660l42-2 105 1 33 4 25-4 47-1 15 2 4 2 -1 3 -8 5 -12 5 -43 4 -19 11 -8 2 -10-1 -20-8 -65-1 -38-6 -15 0 -25 5 -19 9 -101 13 -10 3 -12 7 -8 3 -7 0 -3-3 3-8 8-13 12-13 10-7 32-5 73-5zM2763 660l23-2 20 3 35 11 59 10 84 25 17 3 18-1 22-4 18-13 5-2 62 3 20-1 48-8 20-8 9-1 11 3 54 24 10 6 6 4 -1 3 -7 2 -22 0 -20-2 -25-7 -10-1 -23 6 -47 3 -83 0 -20 2 -45-2 -37 2 -38-2 -67-9 -20-4 -58-29 -21-9 -2-3zM3330 660l11-2 25 0 5 1 3 3 -1 6 -4 4 -5 4 -5 0 -17-4 -10-4 -5-6zM3494 660l50-2 5 2 1 2 -6 10 -10 8 -60 9 -40 12 -35 15 -10 2 -5-1 -2-2 2-7 6-8 19-18 12-8 18-6 15-4zM1540 662l19-2 5 2 0 3 -4 7 -13 13 -13 11 -15 9 -18 7 -15 3 -15 1 -4-4 2-4 5-6 22-17 23-14zM1628 662l13-2 4 2 1 3 -5 10 -12 15 -13 13 -12 8 -13 5 -10-1 -2-2 2-5 13-18 17-17zM1707 662l7-1 7-1 4 2 0 3 -5 10 -14 17 -15 13 -12 8 -13 3 -5-1 -2-1 0-4 2-5 16-20 17-15zM1781 662l10-2 5 2 1 3 -3 7 -13 18 -12 13 -10 8 -10 4 -10 0 -2-3 1-4 13-20 15-16zM1848 662l11-2 4 2 0 3 -4 10 -10 15 -10 12 -10 8 -10 5 -10 0 -2-3 1-4 13-21 15-16zM1909 662l7-2 3 1 1 4 -4 11 -10 18 -7 10 -10 8 -8 4 -7-1 -1-3 1-4 10-19 12-16zM1951 662l5-2 3 2 0 3 -8 24 -7 15 -5 7 -5 4 -5 0 -1-3 0-4 6-16 10-21zM1989 662l5-2 2 0 2 2 0 6 -4 12 -8 16 -7 12 -8 7 -5 0 -1-3 1-4 5-17 10-20zM2034 662l7-2 3 1 1 4 -2 7 -7 15 -10 16 -7 8 -8 5 -5-1 0-7 8-19 10-16zM2079 662l7-2 4 2 -1 8 -5 11 -10 19 -8 10 -7 5 -5 0 -1-3 1-7 7-17 10-18zM2135 662l9-2 6 2 -2 8 -7 12 -12 17 -10 10 -10 6 -5 1 -4-1 -2-3 1-4 12-23 13-15zM2199 662l10-2 5 2 0 6 -3 4 -10 15 -12 15 -10 9 -10 4 -8 0 -1-3 1-4 13-22 12-15zM3596 679l0 31 -20 7 -10 1 -5-2 -1-4 5-7zM741 695l13 2 25 13 3 2 -1 2 -5 2 -10 2 -50 0 -5-2 1-6 3-5 6-5zM236 768l33 0 11 2 1 2 -18 8 -27 6zM877 770l12-2 6 2 -1 2 -4 6 -14 10 -30 12 -17 5 -18 2 -20 0 -50-6 -20 3 -15 3 -5 0 -1-2 2-7 9-11 8-5 10-3 10-1 10 0 42 13 13 1 25-6zM1034 770l2-2 5 0 3 2 -1 2 -17 29 -5 5 -5 1 -1-2 2-5zM1104 770l12-2 6 2 0 2 -4 6 -14 8 -20 17 -13 4 -5 0 -2-2 30-29zM1254 770l5-2 3 2 0 5 -3 5 -15 15 -15 8 -13 3 -12 0 -65 1 -3 0 -2-2 3-5 7-4 57-2 15-3 18-7zM1318 770l8-1 4 1 1 2 -8 10 -18 13 -20 10 -6 2 -5 0 0-5 8-10 22-15zM1404 770l10 0 2 3 -4 7 -12 10 -16 10 -13 5 -12 2 -5-2 2-5 16-12 19-13zM1501 770l10 0 4 2 -1 3 -6 7 -13 10 -13 8 -13 5 -13 2 -7-2 0-3 3-4 19-16 15-8zM1601 770l8 0 1 2 0 3 -6 10 -10 11 -10 7 -8 3 -10 1 -5-2 -1-3 3-4 12-13 14-10zM1679 770l7 0 3 2 0 3 -5 7 -8 10 -10 8 -7 5 -10 2 -5-1 -2-4 2-4 10-13 12-10zM1756 770l6 0 2 2 0 3 -5 9 -8 9 -7 7 -8 5 -10 2 -4-2 -1-3 2-4 11-14 10-9zM1825 770l6 0 2 5 -4 7 -8 11 -7 7 -8 5 -7 2 -5-1 -1-4 2-4 9-14 10-9zM1888 770l6 0 1 5 -9 16 -12 13 -8 3 -5-1 -1-4 1-4 8-13 10-10zM1938 770l3 1 0 6 -7 19 -8 9 -5 2 -2 0 -1-5 3-11 10-16zM1975 770l4 1 0 4 -5 15 -8 13 -5 4 -2 0 -2-5 4-15 8-12zM2017 770l4 0 1 2 -3 13 -10 16 -5 4 -5 2 -3-2 0-5 5-13 8-11zM2064 770l3 0 1 5 -7 18 -10 12 -5 2 -2-1 -1-6 6-14 7-11zM2113 770l5 0 2 2 -1 6 -5 9 -13 15 -7 5 -5 0 -1-2 0-5 6-13 10-12zM2176 770l6 0 2 2 -1 3 -9 16 -13 13 -7 3 -5 0 -2-2 0-5 7-12 12-13zM2247 770l8 0 2 2 0 3 -4 7 -9 10 -10 8 -10 6 -8 1 -5-2 1-5 2-5 10-12 11-8zM2315 770l9-1 4 3 -11 16 -11 10 -10 7 -5 2 -5 0 -1-2 0-5 9-15 10-9zM2830 770l4-2 7 0 53 2 43 8 44 9 23 2 37-3 18-9 7-1 73 2 25-2 50-8 12 0 18 3 60 19 25 10 3 2 0 3 -6 2 -12 1 -33-3 -25-6 -25-11 -12-2 -25 9 -40 6 -28 1 -60-2 -25 6 -65 0 -47-6 -77-15 -8-3 -10-4 -4-6zM3411 770l18-2 7 1 2 3 -6 6 -36 24 -15 5 -7-1 -1-1 1-5 8-10 17-13zM3596 770l0 21 -2 1 -13 8 -12 5 -13 3 -5-1 -3-2 0-3 4-4 12-10 15-10zM2723 798l11-3 17 2 15 5 0 3 -12 2 -20 0 -13 0 -6-2 0-3zM935 800l19 0 12 5 -7 2 -15 1 -15-1 -5-2 3-3z"/>
<path fill="#000" fill-opacity="0.194" d="M1075 575l5 0 0 3 -4 5 -7 5 -23 8 -5 1 -2-2 3-5 7-5zM1224 575l-1 3 -4 2 -8 2 -67 3 -5 2 -13 8 -7 1 -3-1 17-15 8-4zM1281 575l5-1 2 1 -1 3 -17 14 -4 3 -5 1 0-4 6-7 9-7zM1364 575l7 0 0 3 -8 7 -19 10 -8 1 -3-1 3-5 6-5zM1456 575l8 0 1 3 -7 7 -12 7 -10 3 -8 0 2-5 5-5 9-5zM1565 575l8 0 2 3 -3 4 -5 6 -16 7 -10 0 -1-3 1-2 5-5 8-5zM1647 575l7 0 0 5 -4 5 -11 9 -5 2 -5-1 0-5 4-5 6-6zM1726 575l5 0 3 3 -5 8 -13 9 -8 0 1-5 3-5 7-6zM1798 575l6 0 1 3 -4 7 -10 9 -5 2 -4-1 -1-3 4-7 6-6zM1865 575l4 0 2 3 -5 8 -10 9 -6 0 -1-3 4-7 6-6zM1922 575l3 0 1 3 -2 6 -5 8 -8 4 -2-4 2-5 5-8zM1961 575l2 0 1 3 -3 8 -5 8 -2 2 -3-1 1-5 2-7zM2000 575l4 1 -2 9 -6 8 -5 3 -1-4 1-5 5-9zM2047 575l3 0 1 3 -2 6 -8 10 -5 2 -1-4 2-4 4-8zM2091 575l4 0 1 3 -2 6 -8 10 -5 2 -1-4 1-5 5-8zM2151 575l5 0 1 3 -3 7 -10 9 -5 2 -3-1 1-5 3-5 4-5zM2216 575l5 0 2 3 -4 7 -10 9 -5 2 -4-1 0-5 4-6 5-5zM2288 575l3-1 3 3 -4 8 -9 9 -7 1 -1-3 3-7 5-6zM1021 576l-2 7 -5 7 -5 2 -21-2 -15-2 -7-3 5-2 38 0zM3330 578l11-2 28 0 4 2 -4 6 -8 4 -17-3 -12-5zM3544 576l5 2 -5 7 -10 5 -75 6 -10-1 -2-3 9-4 20-6zM300 672l46-2 27 2 -1 3 -7 3 -20 4 -71 16 -38 5 0-21zM532 672l9-1 20-1 100 3 25-3 3 0 3 2 -3 8 -5 6 -13 6 -10 2 -32-2 -24-2 -56-10 -16-5zM900 672l21-2 13 2 -4 3 -24 8 -33 17 -17 5 -12 0 -2-3 2-2 11-8zM955 672l6-1 10-1 43 0 2 2 -2 7 -5 4 -33-3 -17-5zM1048 672l16-2 4 2 -3 6 -26 15 -10 12 -3 1 0-6 8-18 5-5zM1134 670l3 2 -2 6 -10 10 -34 17 -5 0 0-3 2-4 12-13 8-5zM1266 672l5-1 3 0 2 1 -2 6 -10 11 -18 14 -7 3 -5-1 -1-3 4-4zM1338 672l11-1 4 1 -2 6 -5 4 -20 13 -20 9 -10 1 -2-3 2-2 7-8 20-12zM1426 672l13-1 2 1 0 3 -3 5 -8 8 -21 12 -18 5 -5 0 -2-3 3-4 12-10 15-10zM1530 672l14-1 3 1 1 3 -3 5 -7 8 -19 11 -20 6 -8 0 -5-3 0-2 4-5 13-10 13-8zM1621 672l8-1 4 1 0 6 -7 10 -10 9 -7 5 -10 3 -5-1 -1-2 1-4 5-8 10-10zM1700 672l9-1 3 1 1 3 -2 5 -8 10 -8 8 -9 5 -10 2 -5-2 1-5 7-10 12-10zM1774 672l7-1 4 1 1 3 -2 5 -5 8 -9 10 -9 5 -7 2 -5-2 0-5 7-11 10-10zM1843 672l6-1 4 1 -1 8 -6 9 -7 8 -8 6 -7 2 -5-1 0-6 5-9 10-11zM1904 672l5-1 3 1 -1 7 -5 10 -5 7 -7 7 -5 2 -5-1 -1-4 3-9 8-10zM1948 672l3-1 2 1 -2 11 -7 16 -5 5 -3 1 -2-3 2-11 5-11zM1986 672l3-1 3 1 0 6 -3 8 -8 14 -5 4 -2 1 -3-2 0-3 3-9 5-11zM2034 671l3 1 0 6 -3 8 -10 15 -5 3 -5 1 -1-5 3-10 8-12zM2075 672l4-1 3 1 0 6 -3 8 -10 16 -5 3 -3 0 -1-5 4-12 5-9zM2129 672l7-1 3 1 0 6 -5 9 -13 14 -7 4 -5 0 -2-5 5-10 9-12zM2193 672l6-1 4 1 0 6 -4 7 -8 10 -7 6 -8 4 -5-1 -1-2 1-4 5-10 8-9zM2267 672l7-1 2 1 1 3 -2 7 -6 9 -8 7 -6 4 -9 3 -5 0 -2-2 0-3 4-8 13-12zM2373 672l71-2 7 2 0 3 -7 8 -8 2 -92 12 -15 3 -15 5 -4 0 -2-3 1-4 5-9 6-7 6-4 15-3zM2599 672l15-2 27 0 7 2 -2 6 -5 4 -12 6 -12-3 -17-10zM2798 672l6-2 12 1 33 7 43 7 34 10 11 5 3 2 -6 3 -20 1 -70-7 -13-4 -20-10 -10-7zM3444 672l32-2 44 2 -1 3 -35 6 -20 5 -55 19 -11 0 -1-3 2-4 15-15 10-5zM3216 680l8 0 10 2 28 16 5 4 -3 3 -10 1 -33-5 -23 4 -22 1 -45-3 -65 3 -6-1 -2-3 3-4 5-3 31 3 29 4 10-1 58-13zM3596 684l0 20 -10 2 -6-1 -2-3 3-4z"/></g>
<g filter="url(#bl1)"><path fill="none" stroke="#00f" stroke-width="4" stroke-opacity="0.24" stroke-linecap="round" d="M236 1212l104-13 36-3 32-1 104-1 104 9 48 2 20-5 28-15 12-4 24-2 32 6 24 2 28-4 39-13M236 1292l104-13 36-3 32-1 104-1 104 9 48 2 20-5 32-17 16-3 16-1 48 8 16 0 32-8 32-11 28-12 24-5 20-2 32 5 28 1 4-1 12-13 12-18 12-8 24-9 22-16M236 1372l104-13 36-3 32-1 104-1 104 9 48 2 20-5 32-17 16-3 16-1 48 8 28-2 36-11 44-18 28-6 16-1 28 4 32 2 4-1 4-4 8-9 12-18 4-3 32-14 28-21 24-11 16-10 68-3 20-5 16-8 32-25 21-13M236 1452l104-13 36-3 32-1 104-1 104 9 48 2 20-5 32-17 16-3 16-1 48 8 28-2 36-11 44-18 28-6 16-1 28 4 32 2 4-1 4-4 8-9 12-18 4-3 32-14 28-21 24-11 16-10 68-3 24-6 16-10 32-25 24-14 92-44 72-32M236 1532l104-13 36-3 32-1 104-1 104 9 48 2 20-5 32-17 16-3 16-1 48 8 28-2 36-11 44-18 28-6 16-1 28 4 32 2 4-1 4-4 8-9 12-18 4-3 32-14 28-21 24-11 16-10 68-3 24-6 16-10 32-25 44-24 128-59 120-47 76-40M350 1598l42-3 112-1 51 4M688 1598l28-15 16-3 16-1 48 8 28-2 36-11 44-18 28-6 16-1 32 5 28 1 4-1 12-13 12-18 4-3 32-14 28-21 24-11 16-10 68-3 24-6 16-10 32-25 32-18 132-62 104-40 32-14 140-75 71-41M1043 1598l29-12 28-21 24-11 16-10 68-3 24-6 16-10 32-25 48-26 120-56 100-38 36-16 132-70 48-28 88-55 58-41M1257 1598l23-18 40-22 128-60 100-38 32-14 172-93 96-59 60-42 24-22 54-60M1404 1598l60-26 84-32 40-18 144-77 108-66 56-38 28-23 72-79 75-69M1597 1598l159-87 84-52 56-38 32-27 68-75 92-86 28-21 63-42M2922 1170l54 7 28 2 40-2 20-6 68 1 38-2M3255 1170l57 11 48 6 8-1 34-16M1744 1598l104-64 64-46 20-18 68-75 84-78 20-16 100-68 56-31 50-32M1872 1598l32-23 20-17 76-83 96-88 108-74 56-31 44-29 24-12 36-4 72-5 20-5 20-2 56 3 64 0 32 5 28-7 40-1 28-5 16 0 40 4 64 17 144 18 52-2 24-6 88 1 44-5 24-5 80 17 60 8 8-1 44-21 12-4 48-10 64-5 60-24M1960 1598l44-47 80-74 20-16 104-70 52-29 44-29 24-12 36-4 72-5 20-5 20-2 56 3 64 0 32 5 28-7 40-1 28-5 16 0 40 4 64 17 144 18 52-2 24-6 88 1 44-5 24-5 80 17 60 8 8-1 44-21 12-4 48-10 64-5 60-24M2041 1598l47-45 36-27 92-60 44-24 60-38 16-5 100-7 20-5 28-2 48 3 64 0 32 5 28-7 40-1 28-5 16 0 40 4 64 17 144 18 52-2 24-6 88 1 44-5 24-5 80 17 60 8 8-1 44-21 12-4 48-10 64-5 60-24M2137 1598l71-47 52-29 60-38 8-3 16-3 92-6 20-5 28-2 48 3 64 0 32 5 28-7 40-1 28-5 16 0 40 4 64 17 144 18 52-2 24-6 88 1 44-5 24-5 80 17 60 8 8-1 44-21 12-4 48-10 64-5 60-24M2268 1598l52-34 8-3 12-2 96-7 20-5 28-2 48 3 64 0 32 5 28-7 40-1 36-5 48 4 64 17 144 18 52-2 24-6 88 1 44-5 24-5 80 17 60 8 8-1 44-21 12-4 48-10 64-5 60-24"/></g>
<g filter="url(#bl0)"><path stroke="#000" stroke-opacity="0.50" stroke-width="2.6" fill="none" d="M2336 107v12M3247 106v18M2840 109v9M997 105v20M1248 106v13M3168 106v14M260 102v25M2993 102v21M2912 108v18M1810 106v21M1257 105v20M1175 108v17M1096 106v16M1733 106v16M1932 107v14M2096 105v21M3577 105v16M2897 108v14M2326 108v17M3555 104v21M964 100v22M779 109v15M2294 106v19M390 107v17M362 104v16M1967 103v18M1804 104v24M3314 104v19M2350 104v20M1964 109v17M1907 104v17M1071 109v14M282 107v12M887 109v12M2560 105v15M914 104v22M1480 108v14M255 108v15M3022 104v20M760 102v19M1139 107v19M3191 101v25M1950 108v14M3080 101v24M2385 102v22M2727 104v21M549 103v20M2055 105v19M1943 102v26M3161 103v18M1452 103v16M2246 104v21M441 107v13M1541 101v20M1324 108v15M745 109v15M2976 106v19M1513 108v14M3520 103v20M2218 105v15M2269 104v20M2379 101v18M2508 102v19M747 110v9M1717 102v18M1045 105v13M1590 105v15M566 103v23M3484 102v22M962 104v18M2492 108v11M1249 109v18M3170 107v12M2460 107v17M683 108v12M3073 110v17M3407 101v20M3270 100v26M2151 109v19M730 106v19M887 107v17M3350 110v15M2092 103v20M847 100v25M3203 107v15M2391 109v17M2150 103v15M1503 101v19M1619 103v19M1044 109v12M370 109v16M3177 109v13M1809 100v26M2077 102v17M1321 108v17M2759 102v19M327 109v11M1489 107v12M344 108v11M654 105v13M3482 106v21M2445 101v20M1677 108v16M1997 103v21M3166 105v22M1395 103v23M2219 106v19M2532 104v21M1433 107v15M1981 100v27M2805 107v13M3287 107v13M748 105v22M3369 104v16M260 103v16M2764 102v19M2957 102v17M700 105v15M1645 107v20M2973 103v21M290 105v14M2347 101v26M2898 105v21M1961 101v23M2673 109v18M1001 100v23M907 104v22M1459 101v20M843 108v15M1401 105v23M3418 103v15M2163 104v16M1381 101v23M1152 110v14M3431 106v15M1731 106v20M3526 106v20M1969 106v14M1988 106v17M3245 102v23M2730 108v11M2187 105v20M1671 104v17M3184 104v20M1621 107v17M3333 101v25M473 109v10M1683 102v17M1982 108v19M3427 100v21M1083 102v21M2942 109v9M2508 102v21M2644 105v20M2351 104v15M3496 104v24M1357 108v12M1576 108v13M922 108v10M412 109v11M955 105v20M3308 105v15M3056 101v19M619 101v20M2265 101v21M1847 104v20M2234 103v16M2450 103v22M1269 103v19M3462 108v15M1803 109v18M2346 103v22M2370 103v17M858 104v20M450 109v10M1621 107v16M2801 101v26M2973 107v12M2687 109v10M622 101v20M3301 109v9M2929 109v15M3182 101v23M1995 105v19M3309 107v17M399 110v10M344 108v14M310 108v19M1089 110v11M1075 105v23M870 109v12M2142 109v13M373 104v22M2220 105v18M798 104v18M2513 101v17M313 108v16M1283 107v19M3385 102v18M2046 103v18M2961 108v14M2446 103v21M2288 102v17M883 107v19M2166 103v21M375 100v22M2927 106v15M3458 103v21M3103 106v14M412 107v12M1377 110v10M1307 103v17M620 110v11M2341 106v22M2913 110v9M1293 105v19M3132 107v14M2912 103v15M675 100v23M2811 101v19M3198 103v15M903 100v27M2164 104v16M2382 107v11M2283 102v25M565 109v15M2457 101v20M2359 100v20M3002 100v19M2934 106v13M1338 102v25M2661 103v18M3147 101v25M3233 107v17M783 106v13M332 103v21M2422 110v17M961 106v17M2130 100v27M3407 101v19M1513 107v19M1089 108v15M1771 102v17M2444 109v19M581 102v24M1517 104v17M690 105v13M2461 104v16M3024 107v16M1505 109v18M1487 103v18M2049 109v14M963 101v17M1071 110v14M1347 101v23M1774 105v17M515 110v18M2763 101v18M2182 104v22M1246 106v19M502 106v14M2798 108v10M681 107v13M689 105v23M680 105v13M515 104v20M3278 101v20M1144 100v23M1269 104v19M3032 103v22M2319 102v25M869 110v13M1699 105v22M3203 103v23M1500 103v22M2623 103v21M567 109v9M2678 108v15M2843 104v18M3008 101v20M2500 106v13M1484 107v21M457 110v17M1980 108v12M2779 110v10M882 109v18M1134 106v17M2038 102v21M2749 103v16M3245 101v25M664 109v10M860 100v21M2920 101v19M2401 106v16M2657 104v16M3581 107v14M3388 104v19M3066 109v11M2845 107v14M1565 109v13M2390 105v22M860 107v12M2786 101v27M2780 100v21M2658 110v9M1732 102v19M1509 101v22M1648 106v15M354 101v25M3070 108v16M2059 101v22M1540 106v16M2078 109v13M2659 105v14M1520 106v20M3024 107v13M3322 110v15M1540 104v18M704 108v12M2789 106v19M3568 105v22M738 105v18M2629 103v24M3007 103v22M3326 104v23M656 109v9M550 110v14M3551 101v22M633 100v23M835 102v20M2168 103v21M1737 108v19M2756 103v20M881 100v22M3305 110v10M970 109v16M2818 103v23M469 103v24M1828 101v18M351 108v15M1293 101v22M1288 103v21M2653 107v19M1766 101v23M433 110v13M3576 108v11M3219 109v15M3311 109v17M1068 109v10M1562 107v13M1003 103v19M661 106v18M353 109v9M1928 102v20M655 108v15M833 105v20M3124 107v14M1864 101v22M858 109v15M2486 101v22M1133 104v20M2007 106v22M1190 103v19M1971 106v21M2347 107v16M2038 108v15M1567 110v11M2891 101v25M3168 103v24M843 106v17M699 101v25M622 101v27M3523 109v12M3396 101v26M1015 105v14M3491 105v15M938 104v20M1939 109v17M1908 102v21M3307 105v23M378 101v22M1299 109v13M2252 103v21M465 103v24M1035 101v19M1800 101v24M3193 103v24M2791 109v18M3019 103v15M2791 104v24M2613 108v11M3088 107v20M2525 110v15M2706 109v18M1253 104v15M804 107v12M2776 104v24M798 106v18M3322 109v11M2241 110v17M1346 104v18M3379 101v26M762 102v16M1965 109v15M549 107v19M3476 100v18M2169 105v14M2934 105v20M1187 107v18M2928 100v20M2596 109v10M2398 105v13M3426 109v10M1694 104v19M1633 107v20M2560 107v14M3039 101v24M1365 110v8M2485 108v12M943 105v19M2090 106v22M2819 107v15M461 107v16M2680 104v18M294 105v16M3452 102v17M1812 104v17M1612 108v18M2655 103v21M1995 109v13"/><path stroke="#00f" stroke-opacity="0.34" stroke-width="2.6" fill="none" d="M2100 100v20M1728 103v25M2420 102v16M3457 104v20M707 102v25M3476 102v23M2472 102v25M2908 102v23M2370 108v12M3157 101v23M1335 105v18M2614 108v15M1127 105v18M1946 105v18M2525 102v19M916 103v18M447 108v11M2891 102v21M2952 103v17M2472 104v19M1319 107v21M2447 109v14M523 105v18M2461 102v25M2172 101v19M2310 107v17M1739 103v25M997 104v20M2674 101v26M1797 101v21M2739 109v19M1462 109v17M536 102v16M2059 105v14M2328 110v8M3330 103v17M3216 100v23M434 101v26M2827 107v15M1118 108v18M2577 103v23M1513 109v15M1321 104v23M1878 109v12M2019 101v26M2568 107v14M2379 106v15M2514 109v12M1529 102v16M2511 103v24M1399 102v20M2277 110v8M1781 103v23M2127 101v26M301 108v11M1913 106v18M979 107v14M1535 104v17M489 103v17M2442 109v18M3235 104v21M1430 105v16M594 103v24M2320 103v20M668 109v12M3229 108v11M653 107v19M1454 108v19M1899 107v21M637 103v20M1310 102v17M1164 104v21M2631 108v10M3546 109v11M1458 103v23M2891 109v16M712 103v19M2185 108v13M1692 108v18M1208 105v22M2994 104v22M2742 106v15M691 105v19M1222 105v14M2987 110v18M3566 100v27M2291 105v14M3162 108v14M3539 107v19M2723 105v13M2402 108v17M983 109v12M1483 108v19M2331 104v19M3345 103v15M1253 102v19M1566 101v25M317 104v19M2576 103v19M1728 108v15M2914 106v16M1025 106v21M2452 103v21M2497 107v12M1798 110v13M874 102v23M1592 108v16M2738 109v10M876 105v20M544 109v15M1792 106v16M1028 106v18M2924 109v17M2980 107v20M3408 101v25M3055 105v21M2411 103v20M869 108v10M2999 103v20M2681 109v12M2744 108v12M2578 103v21M3022 107v20M1240 109v12M2495 107v17M1975 104v22M1374 109v14M1337 109v10M763 102v24M1889 103v21M1477 105v14M1654 108v18M3095 101v19M2525 108v19M2521 109v14M3538 104v19M972 102v21M1943 102v17M552 104v15M1558 105v20M3425 107v21M530 109v15M2780 109v13M3141 108v13M1947 105v23M2914 106v17M1720 108v13M1426 108v10M1936 102v17M895 103v25M1272 100v21M1265 106v19M3553 108v14M1365 102v24M1009 101v17M3390 102v21M707 109v16M3477 106v18M3100 107v17M2410 103v16M1675 102v24M903 106v20M598 100v27M590 104v23M1412 106v18M1606 108v16M3336 107v13M2038 106v16M3560 101v19M2657 105v16M732 108v12M2096 100v28M776 103v20M374 102v18M3403 104v22M1374 100v26M877 110v14M583 104v17M2427 102v19M1787 109v10M282 108v17M2638 100v19M1102 107v17M2857 103v23M1879 102v20M2036 101v23M1774 101v19M2506 108v15M3558 107v19M2915 106v14M474 107v12M1900 103v20M1027 101v18M585 107v19M896 104v18M1073 102v21M3457 106v22M2737 100v27M3099 110v12M2583 107v19M1300 107v14M1552 106v21M1718 101v22M1225 100v26M1654 108v11M2825 107v17M496 101v22M1169 107v14M1847 105v23M2507 106v17M2406 101v19M2671 109v17M595 108v15M848 106v18M1277 107v14M1186 105v18M2773 107v14M3569 100v19M2530 102v25M353 107v18M1239 104v15M2932 105v22M3338 105v19M2235 104v16M1411 106v17M1432 103v17M2364 107v14M3137 106v15M1384 108v14M881 105v22M252 107v18M703 103v23M3093 104v24M2334 109v16M3560 108v15M475 107v12M1468 110v16M2907 101v19M2457 106v20M466 101v26M1587 103v24M2378 108v15M2546 104v15M1755 101v23M873 108v19M3477 104v24M1805 103v24M2645 109v10M2034 109v16M513 107v19M1035 105v18M453 104v23M881 109v11M913 108v13M1632 102v18M1320 106v15M1457 102v17M2978 103v22M314 100v23M589 106v12M2948 103v24M2031 110v17M1712 102v24M1138 105v15M2059 105v22M984 109v13M3117 101v26M3002 110v13M1320 102v21M324 107v16M3215 104v17M1243 103v16M2442 103v25M3117 100v25M2916 108v14M3131 106v14M1881 107v18M3063 107v16M1787 110v17M1126 106v19M1853 103v25M1366 106v20M2812 103v25M3028 101v22M715 101v19M793 108v11M1527 104v16M1794 109v10M3445 103v23M3396 107v18M3481 110v8M2686 107v19M2511 107v18M1148 101v18M1490 108v16M251 103v15M3032 105v14M1167 107v14M508 108v11M1299 105v14M1325 108v16M2667 102v25M262 107v15M1013 109v13M3245 109v12M3106 110v9M2349 107v14M2114 104v20M988 100v20M3173 101v24M2790 102v21M1960 103v17M782 109v14M965 107v19M1513 108v12M1351 101v22M447 102v17M1603 109v15M1745 104v15M1204 108v16M1530 102v26M1356 110v18M1504 108v15M2316 103v22M1908 102v23M904 101v17M2906 107v14M1961 107v19M1778 108v16M2632 108v16M2761 109v18M3086 100v20M2959 104v17M2483 102v25M2658 100v20M769 108v13M2584 103v25M1095 108v15M1106 101v19M645 110v16M1572 101v24M309 104v21M2443 103v16M2748 100v21M2840 109v18M674 107v19M2390 102v20M3050 109v19M363 104v21M890 109v19M1139 103v22M1790 104v19M819 105v16M2047 100v25M1394 107v19M2436 102v19M2022 106v21M2541 105v15M1067 106v22M2611 109v18M2703 104v17M2660 109v17M472 109v13M3411 103v18M2174 109v18M1154 104v23M1696 104v19M1976 106v15M1977 103v18M1073 103v21M1130 101v25M1460 102v21M2858 106v13M1707 104v20M372 106v21M1757 108v11M917 108v15M284 107v13M3515 105v20M1226 108v18M2043 102v24M1442 106v19M421 109v14M3260 109v18M3376 108v14M867 105v14M1642 108v19M1494 102v24M802 107v11M2458 109v14M2861 103v16M2787 108v14M2504 105v15M301 106v16M1011 108v17M1966 107v13M2596 101v26M1537 109v15M1747 109v16M3058 106v16"/>
<path stroke="#000" stroke-opacity="0.42" stroke-width="2.6" fill="none" d="M1433 193v13M1882 193v12M987 192v12M1675 194v2M1943 191v11M347 187v17M1561 193v12M1195 190v11M2366 195v5M2961 194v6M2300 189v9M2466 188v12M2298 188v17M1101 196v1M1503 187v9M3070 195v1M3411 193v6M849 188v10M278 193v3M3463 195v7M3121 188v10M2277 193v10M2978 189v10M2233 191v14M3273 191v13M1057 192v9M1730 191v12M2488 191v12M965 188v11M2636 195v5M1121 194v11M2620 192v5M2936 194v9M1663 189v16M3558 191v6M2357 187v12M2776 192v12M311 187v9M620 192v8M2625 190v14M3401 195v10M2346 194v2M3300 188v14M441 196v1M3229 191v9M3181 190v9M2349 189v10M1681 187v15M2603 190v13M1059 192v13M2478 189v15M2568 190v13M2051 194v6M1113 190v12M249 187v14M898 187v11M3035 192v13M953 196v3M491 187v14M1068 190v9M1981 194v9M2206 192v11M3180 192v11M3105 195v10M3487 196v9M3204 187v13M1750 194v5M718 192v4M3443 188v12M1009 187v14M2326 188v16M1128 189v11M2978 194v8M915 187v12M1652 192v6M978 188v14M3125 191v8M2317 192v11M2355 186v12M1296 189v16M834 187v13M3114 188v15M2803 194v2M2702 195v8M3582 188v17M2116 189v15M840 187v14M2284 191v14M1205 194v7M1960 187v14M1781 190v16M2130 193v7M3328 190v14M2956 187v17M1633 193v8M2980 193v7M3124 187v13M2835 187v10M2089 190v14M3254 188v13M1890 196v8M597 195v8M1154 192v10M2445 192v9M1512 190v9M1659 187v13M1589 194v8M886 188v17M556 186v19M407 193v9M2495 190v14M1328 186v10M1773 191v8M3375 190v11M2341 186v19M2957 193v4M2796 193v8M3437 193v11M466 196v1M1529 196v5M3423 188v12M1798 190v15M3417 191v5M862 193v8M444 194v2M3241 195v10M1620 186v15M1945 187v14M3378 187v18M977 188v15M3485 193v7M1571 188v17M1071 186v12M1025 189v13M1979 190v7M1806 192v12M3210 193v8M413 189v7M390 191v11M754 190v15M2271 188v16M2859 193v12M1849 195v3M2298 195v5M2394 193v13M307 192v10M1067 187v15M3584 188v11M1350 190v16M3413 192v11M1891 188v11M988 195v2M250 196v5M971 190v11M1319 190v10M1714 190v13M1740 189v9M2079 190v7M1830 190v10M352 194v3M1137 190v14M3464 189v15M334 193v3M2701 190v14M1838 191v11M2610 196v7M1356 191v13M1482 190v6M1973 189v13M3289 195v7M1342 189v17M530 190v8M371 192v8M3195 187v16M1293 193v13M643 187v18M2240 194v5M3072 191v12M2250 189v8M751 194v3M1601 191v9M1135 195v7M298 190v16M3477 190v14M1780 188v15M694 194v11M3206 191v7M3542 192v13M2975 189v7M1092 188v17M881 186v10M2001 187v18M2197 190v13M3184 193v7M3482 193v7M3291 191v8M1388 186v16M2204 189v10M657 195v5M1980 187v15M479 191v5M615 189v13M651 189v17M1252 194v7M1280 195v1M2604 188v17M497 191v7M615 192v12M2441 192v4M2496 186v14M2622 186v11M2654 192v8M2463 187v18M2093 190v15M2725 192v10M515 190v12M952 188v10M2726 195v3M887 190v14M2020 189v10M1114 195v3M1687 188v16M3036 189v11M2455 195v4M1733 196v8M1159 194v4M2939 188v15M2443 194v4M1716 188v10M3154 187v13"/><path stroke="#00f" stroke-opacity="0.24" stroke-width="2.6" fill="none" d="M1927 194v8M2346 187v13M428 191v15M886 189v11M634 196v4M1147 194v3M865 190v8M3378 195v7M1493 188v9M708 190v7M2474 191v12M3501 189v9M2903 190v8M2413 194v3M1509 193v6M1593 193v10M1254 187v16M2943 195v6M2933 192v7M1881 188v16M3129 194v4M2427 187v12M2538 192v7M1143 196v8M1051 195v7M1005 194v12M3299 186v15M2923 188v16M3254 188v15M2998 189v13M2938 193v12M1703 195v6M2807 193v5M801 187v16M2439 195v8M386 191v11M3477 193v8M3188 190v15M795 190v15M2817 194v10M3001 194v12M383 196v5M2138 190v14M1649 196v7M2315 186v10M3211 191v13M2664 195v5M950 191v10M2100 187v9M2124 191v10M281 195v3M684 195v4M1446 191v12M839 187v18M1037 196v10M2507 186v16M3462 193v12M1777 188v9M2406 194v5M2793 187v10M2496 192v9M2443 193v11M246 186v19M3156 195v11M783 194v6M847 188v17M1950 190v11M2208 193v10M2773 193v9M1223 191v13M3408 190v9M2346 195v9M3070 193v5M1840 186v19M481 195v3M283 192v4M2387 190v13M1670 190v14M1718 195v2M1334 193v7M840 188v12M1829 191v14M1096 194v2M3232 187v19M841 192v11M3483 190v15M3124 192v10M1527 188v15M2831 188v9M2187 192v12M1803 189v10M2962 187v15M3025 194v4M917 191v10M3277 187v14M350 189v9M261 196v1M1862 189v13M1252 190v6M1658 195v4M1847 190v15M1811 196v9M3283 190v13M3318 194v3M1402 196v1M1206 193v6M2433 188v9M907 195v2M1584 195v3M2647 189v9M261 196v1M2827 195v4M2700 196v8M1539 189v12M1072 188v12M2051 186v17M1233 192v7M2992 186v19M2220 187v12M1270 186v14"/>
<path stroke="#000" stroke-opacity="0.50" stroke-width="2.6" fill="none" d="M1588 202v18M2029 207v11M1326 201v19M1079 202v16M2874 205v18M1177 201v13M1355 205v18M1887 200v20M1159 200v19M2676 201v19M524 204v17M1325 203v12M1652 202v15M1107 202v14M3055 205v13M1428 208v11M1651 205v16M1813 209v11M3023 200v18M975 200v20M3018 201v19M3419 201v21M1133 201v20M809 207v10M2884 206v11M1290 203v14M1004 200v21M504 201v15M2298 201v21M3380 205v13M3194 206v16M2214 206v13M1711 203v16M3513 210v10M2454 205v18M3445 201v14M2547 208v16M2576 201v14M2590 200v20M663 201v18M1088 207v8M463 209v8M3366 206v12M3573 203v15M2269 200v18M765 203v15M659 202v16M1737 207v17M1551 202v21M898 206v9M541 200v23M2411 202v13M2896 207v15M454 209v10M1279 203v14M1249 202v18M2058 209v5M2267 204v14M1617 201v19M3143 210v7M1551 207v16M1258 203v20M2810 207v13M3062 202v15M3181 201v22M809 208v7M902 205v11M1792 208v12M3483 209v12M2320 201v17M2330 206v17M1336 204v12M3560 203v14M854 202v16M2116 202v17M2503 209v15M2955 202v18M2967 207v9M1537 205v11M1150 204v14M3524 208v8M2094 205v14M1187 203v20M706 203v14M2932 207v12M3084 207v8M2151 201v20M1528 204v19M2452 202v14M3525 209v9M2179 201v15M2879 208v9M3197 206v17M2777 206v15M1872 210v7M840 209v11M2575 202v13M3027 203v12M3467 208v12M752 200v22M623 206v12M2373 201v17M3013 209v11M498 205v15M2299 206v15M1135 202v13M3589 200v22M1453 200v17M517 206v13M2864 209v7M1250 201v14M1646 205v12M680 205v16M1351 203v17M689 200v19M1104 209v14M2181 206v18M1244 202v15M2478 204v15M3260 208v10M2173 200v21M338 202v21M3457 202v15M905 201v16M1402 206v11M2006 200v19M2315 207v8M1388 204v10M1718 200v18M2342 203v20M1773 200v20M1191 207v11M1618 205v11M1531 203v12M1220 209v5M2254 201v20M1958 205v15M1621 203v13M2618 208v7M2964 203v19M2416 203v21M1385 202v18M3379 205v14M591 208v7M2940 205v16M1653 201v19M1571 204v14M3066 205v15M2437 207v16M3504 207v17M3183 207v10M632 201v13M1928 203v13M2813 207v14M519 206v12M2059 205v12M3567 209v5M1043 203v17M634 202v21M1212 205v13M1396 201v16M1200 206v11M1690 200v19M3034 203v19M1975 207v14M2216 209v13M608 203v16M459 203v13M3427 202v13M1405 202v14M3415 207v10M1366 200v18M2384 202v19M2458 202v17M544 202v17M480 209v8M1722 205v13M669 201v14M1233 208v9M898 207v11M1291 208v8M1769 205v15M1285 208v6M1366 204v15M1870 206v10M2529 205v15M383 207v9M3583 204v13M1685 204v14M3334 209v5M267 209v5M435 201v15M574 203v20M3299 208v15M1622 204v10M3077 206v17M2569 201v21M537 200v21M1454 205v18M1353 209v6M1760 205v11M2767 204v10M522 204v14M3345 200v19M1839 209v6M1467 209v9M2579 202v22M1168 205v14M2629 204v19M1635 201v15M1844 203v12M876 208v10M923 206v17M3127 205v12M2173 205v14M1657 203v13M2838 204v18M3297 202v22M774 202v14M3585 201v17M290 204v17M2299 209v8M1125 208v9M1087 204v11M1899 209v9M2266 207v7M1706 207v9M2634 205v16M3425 202v18M808 208v7M1038 205v11M2284 201v17M1616 205v16M1299 209v12M1932 203v15M2576 207v16M3286 207v12M3394 201v21M2987 203v15M1403 209v7M3203 209v7M2620 201v18M827 208v10M3435 208v10M1071 208v7M2527 203v12M2569 207v11M3284 207v10M2475 207v17M3535 201v16M442 209v14M368 209v8M898 206v9M2169 204v15M1662 203v16M519 204v11M919 201v21M2182 200v24M1590 209v15M2799 208v6M1806 201v16M3182 202v13M2784 209v14M1898 208v9M1441 209v14M959 203v12M1221 201v17M1432 208v6M1452 204v13M842 209v7M1827 207v11M617 206v16M3151 208v14M2086 203v14M561 201v15M1340 201v21M1097 200v15M765 208v14M1852 210v8M856 200v22M750 203v19M2595 200v14M1681 206v15M2493 206v14M1816 206v9M1930 201v17M1283 205v11M1670 202v17M1853 204v13M1389 209v14M3010 200v18M1067 202v15M981 200v15M1395 200v15M2872 206v8M3081 209v13M2135 203v18M1450 210v6M2415 206v13M3010 203v14"/><path stroke="#00f" stroke-opacity="0.26" stroke-width="2.6" fill="none" d="M532 209v9M2410 207v9M905 206v17M1658 209v9M3351 205v15M1409 203v15M1301 210v13M3365 203v18M2197 209v8M2153 208v13M987 209v6M2390 209v15M1512 202v18M2064 201v19M1574 207v14M514 209v8M3182 201v21M2559 200v16M3452 202v19M1269 204v18M1185 207v16M697 208v15M1266 203v15M1331 206v14M859 208v14M1129 203v12M1227 207v13M3116 203v12M1737 200v16M2988 203v13M409 201v15M874 203v11M3433 202v16M411 208v14M475 204v11M1977 203v18M1213 204v16M893 207v13M2281 209v6M2282 203v11M872 205v15M2048 203v12M1766 205v11M3078 202v16M472 209v8M1023 207v11M2135 204v11M354 202v20M3075 204v13M3485 210v13M1342 203v16M2837 206v10M1077 204v13M3418 208v7M951 210v6M262 203v11M471 209v13M1779 201v19M371 204v16M3526 203v20M2356 202v20M2148 203v18M2340 204v15M1643 205v15M3209 201v14M2630 210v7M1684 204v13M1194 206v17M726 204v13M1298 203v11M1425 201v14M512 203v21M3340 201v18M1106 202v12M2051 208v7M464 201v21M2091 202v14M2406 209v7M509 208v9M3510 206v11M789 203v20M1123 209v7M2709 207v8M1370 203v12M3179 206v15M1040 207v14M1294 204v12M2561 200v18M3123 209v9M3202 206v17M1207 209v13M2021 206v10M1619 207v11M2507 207v9M1004 209v6M3053 208v15M2631 202v21M828 206v14M1294 203v15M1368 202v16M3357 206v15M1770 207v10M2306 203v18M3360 210v6M1571 204v13M3411 210v4M1221 209v13M285 203v17M586 204v17M2561 204v19M1520 205v18M3034 206v12M2027 210v6M2539 209v15M1423 208v12M2209 206v17M2580 204v18M1504 208v15M1886 204v16M3068 201v14M3355 201v20M1416 204v20M467 201v15M3063 208v10M1740 202v20M3489 202v21M2797 203v20M1475 205v19M3090 203v20M2077 203v15M2632 206v13M3206 207v14M2186 203v11M3415 207v13M1577 206v13M1511 209v8M2387 209v7M1599 207v16M2612 202v20M2022 203v12M2729 204v17M3008 203v21M2143 200v17M3305 203v14M2859 203v11M3113 202v15M308 207v11M294 207v11M2368 203v12M1358 202v21"/>
<path stroke="#000" stroke-opacity="0.80" stroke-width="2.6" fill="none" d="M1767 202v12M1292 210v9M974 207v9M3178 205v15M2601 207v6M2568 208v14M2937 203v19M1051 203v12M2691 212v10M482 204v15M2469 208v8M1322 210v9M2459 204v13M1001 209v9M1426 207v12M2487 203v9M3389 202v16M1383 206v14M809 212v1M660 206v10M2491 207v14M3238 208v7M299 209v7M1398 208v5M808 208v9M3440 208v9M685 208v12M472 203v16M2815 208v11M3588 206v7M2834 211v9M626 212v5M1608 211v10M1984 207v14M3252 210v3M2765 203v13M443 207v11M1760 208v13M2850 210v3M2062 205v15M2476 210v3M3482 208v5M3520 207v15M3045 203v17M2158 207v15M1273 211v2M777 208v12M803 205v14M2388 205v10M2831 205v10M3118 212v3M3304 206v11M1207 209v13M1363 208v12M900 203v15M2064 204v17M3413 208v5M2780 211v7M1705 207v6M775 211v6M3065 211v2M3244 209v7M2815 207v11M1221 210v11M1549 204v17M2197 203v9M3317 205v10M1056 210v8M1648 206v14M444 211v7"/>
<path stroke="#000" stroke-opacity="0.48" stroke-width="2.6" fill="none" d="M2430 251v16M3128 243v18M1223 243v20M3578 250v12M833 246v14M394 249v12M2999 250v16M826 244v23M1366 245v20M1961 248v15M615 246v22M1662 251v18M1428 248v21M529 243v26M2262 242v27M1753 250v14M777 250v20M2882 244v23M1616 242v25M329 243v24M3188 242v22M1613 251v12M550 252v13M1210 244v26M1097 244v22M390 251v18M1351 248v15M807 247v16M958 245v18M2501 244v16M773 250v11M314 248v16M840 249v17M1232 247v21M795 248v21M2243 248v21M3188 251v16M3024 245v20M1818 243v24M2873 248v20M2890 243v18M2368 248v19M2931 243v18M1511 245v18M2747 243v18M1993 244v16M2716 243v17M2718 246v22M463 249v17M3034 247v15M363 242v19M1674 251v17M2222 248v18M3000 249v19M435 244v24M2492 248v14M1398 245v17M380 247v22M1355 250v12M2388 243v20M520 244v18M3083 249v14M386 248v15M1043 252v14M1346 243v24M457 245v20M3342 245v20M3479 245v18M3273 244v26M908 244v19M3033 246v15M1374 244v20M1210 248v18M2553 246v21M528 249v13M261 244v22M3360 246v22M1428 242v23M2905 245v17M1668 251v11M553 250v19M1832 252v9M815 244v17M513 245v24M306 248v13M1585 243v24M1108 248v12M1368 248v14M3463 245v16M3019 252v13M2607 248v14M1060 246v21M2754 249v20M2580 244v18M2011 246v17M1042 250v14M938 246v19M1647 248v16M1169 242v25M3206 243v25M1802 244v18M2512 247v22M3247 246v19M2323 246v15M781 245v24M1312 251v11M3332 251v9M396 249v11M985 246v18M2312 246v23M3103 246v15M2990 243v24M2690 243v17M2594 244v26M1494 246v15M448 249v15M2372 248v22M486 249v16M2916 252v13M682 247v22M325 252v16M3589 246v18M803 242v20M2191 250v15M449 251v16M3527 248v20M298 247v20M2546 247v17M3068 250v11M1235 252v18M269 250v14M366 246v18M446 247v16M2769 250v19M2012 247v22M3245 245v24M2361 252v15M2232 252v16M918 249v16M991 243v19M3520 250v12M3432 249v13M1709 250v20M2905 248v12M2654 249v15M1172 251v11M912 245v24M2750 250v19M3467 247v20M3537 251v15M1439 243v19M462 242v19M1311 242v22M477 248v20M3550 246v16M1271 251v18M3081 252v8M1068 248v18M3457 247v15M1881 251v14M3035 242v21M2250 249v13M2808 250v12M486 246v17M536 243v26M1439 245v22M3182 251v12M3288 242v23M2622 244v24M2248 244v24M407 242v20M3351 244v25M2453 248v19M2305 243v20M3062 251v15M1034 250v15M2319 244v25M2530 245v17M2775 248v12M560 250v17M2682 246v19M3266 247v14M2347 243v21M811 242v20M3319 246v21M584 247v15M1014 250v18M3106 249v18M2214 245v24M1367 248v14M2933 249v17M2411 248v17M638 250v18M1020 248v13M2957 244v25M2959 246v20M491 243v22M1989 248v20M2631 252v13M1332 245v16M453 245v19M1639 252v13M3373 249v19M2688 242v20M957 247v13M3072 244v24M2478 249v13M1214 243v25M1142 247v16M835 249v17M1598 252v9M1448 250v15M1198 244v21M3169 242v19M2791 243v24M1893 249v13M3467 245v23M2499 246v18M3431 251v14M3005 247v19M2367 242v22M2566 250v17M2838 251v12M2779 247v16M3168 244v17M1381 244v18M1460 246v18M1069 250v18M3330 247v19M3269 247v16M1723 247v19M1586 252v17M686 243v24M3509 243v23M2493 250v16M3470 243v21M2360 244v23M1964 249v18M2750 246v20M3213 244v25M3072 251v9M1401 248v20M1940 244v16M3407 242v25M1938 242v22M2929 250v11M2000 249v15M3031 246v19M471 246v23M247 249v15M546 243v22M1702 252v17M1473 243v21M3454 247v17M3582 243v19M693 247v20M3037 249v18M1948 249v11M3060 244v19M1479 245v19M2830 246v17M258 242v27M1809 252v15M1357 245v20M1086 251v15M1249 249v18M1646 252v15M1903 243v22M2001 251v10M2703 243v18M3012 243v19M3463 250v16M2483 249v16M1102 246v22M2181 244v20M1711 246v21M1030 250v16M1356 248v15M1010 248v21M2047 246v21M464 247v18M2062 248v13M1622 244v18M264 247v19M1166 249v13M3494 245v16M2183 249v16M459 245v18M2177 251v13M2600 252v11M694 244v23M1591 251v11M959 251v15M2060 251v18M2997 246v23M1045 244v21M709 246v16M708 247v21M2300 243v22M475 247v15M2005 248v14M2955 248v18M2809 249v20M2487 251v14M279 245v18M1688 250v18M1058 250v18M1968 248v21M751 249v18M695 250v16M3429 250v20M3192 246v22M570 245v20M3015 251v19M463 251v16M1378 250v18M3571 248v14M3393 242v25M1808 250v18M2593 248v19M1524 249v16M3085 249v14M1301 247v19M933 248v15M726 243v23M2355 243v25M2111 244v24M3266 246v23M734 244v17M2937 249v19"/><path stroke="#00f" stroke-opacity="0.24" stroke-width="2.6" fill="none" d="M1413 247v15M1823 248v18M2459 243v21M1231 251v14M1545 244v23M2138 247v23M1257 247v13M731 244v18M3285 252v12M653 245v24M3548 244v22M3071 251v18M1739 244v21M3125 245v22M458 244v17M2127 245v17M1427 249v14M1250 246v17M3239 246v17M370 246v22M3130 244v23M506 245v15M2511 243v26M1199 242v20M2007 251v10M3341 244v19M2913 250v11M575 251v10M1265 248v20M1877 248v17M2643 246v16M261 252v12M3136 248v17M3062 252v11M3445 244v25M920 247v19M957 248v20M3032 250v17M1966 242v26M1064 242v26M299 242v26M968 248v12M2503 250v16M2697 243v26M1429 248v17M3316 251v11M1949 244v25M1976 244v25M1564 244v24M1593 246v20M1445 248v16M3004 247v19M1717 243v26M1017 250v12M1700 244v20M3342 250v15M2382 245v23M594 244v23M1646 250v11M1805 248v18M289 252v11M3462 247v23M3311 243v26M582 246v18M2092 252v12M1289 244v18M952 249v17M1161 244v21M422 245v24M2547 246v21M1470 251v11M2586 252v13M2973 248v14M2160 249v18M1393 248v21M711 247v13M2424 251v15M2502 248v18M2859 242v20M704 243v24M397 251v16M3187 250v13M2273 242v22M558 244v19M2617 244v17M431 249v17M2359 250v20M2101 244v25M2638 250v16M557 252v13M3285 242v19M3392 245v22M3540 248v19M2808 242v20M1286 248v19M3520 246v16M2300 245v23M2649 249v13M2457 252v9M935 244v20M3100 250v16M2409 249v21M982 246v16M1508 246v20M723 243v17M1692 249v21M3557 251v12M1528 247v22M1567 252v12M2932 252v15M520 243v21M643 242v22M2740 247v21M679 245v21M2290 249v17M2978 248v16M2128 248v17M511 251v10M934 251v17M2052 242v25M3438 246v19M2432 247v20M2576 247v19M2237 244v17M1334 249v21M2278 243v26M274 246v21M1630 245v22M2961 246v22M927 245v19M2414 248v13M2655 252v14M767 252v10M3115 249v13M1059 243v22M3467 247v19M1396 247v15M2291 249v14M3420 245v23M2989 249v18"/>
<path stroke="#000" stroke-opacity="0.80" stroke-width="2.6" fill="none" d="M3330 247v16M3098 250v12M978 249v16M3512 253v6M1984 250v16M2113 247v16M1175 250v12M1540 250v14M2109 248v18M355 250v10M2654 250v12M1411 253v9M2560 249v10M2694 248v11M2314 250v14M493 250v8M2128 244v20M1429 247v16M2636 253v12M2624 250v16M1926 248v17M2692 251v6M723 252v5M2976 254v3M3489 252v6M3259 249v10M2962 253v6M1599 251v14M3366 245v18M2125 245v19M963 253v5M2059 253v8M3092 247v19M2513 248v10M3032 247v18M360 254v7M3491 249v13M3333 252v4M1926 252v14M3335 248v12M852 254v6M1465 248v17M809 249v14M2486 247v16M3315 248v16M3362 249v16M510 249v15M2816 248v14M2114 247v15M982 251v7M3239 249v16M2013 246v15M383 252v8M1501 244v17M2528 249v17M3092 251v13M909 248v17M2225 252v5M533 251v14M3296 251v15M275 247v15M3494 249v10M2136 252v8M2761 250v13M2484 251v6M1936 245v20M1710 251v7M939 245v16M1202 246v20M558 246v19"/>
<path stroke="#000" stroke-opacity="0.50" stroke-width="2.6" fill="none" d="M2640 408v34M2104 413v24M2490 417v20M2560 410v26M1198 415v20M1877 410v26M465 409v24M403 409v28M3403 411v23M3091 415v23M2766 416v17M591 414v20M2332 413v24M2638 414v24M1684 417v21M1508 412v28M2675 410v30M277 414v21M1818 416v18M1101 408v26M1729 413v25M2093 411v27M1651 418v24M3179 415v20M3196 413v27M2786 417v25M2903 412v24M1919 411v28M1150 418v20M2974 412v26M633 412v25M2233 410v23M2364 412v23M608 410v32M926 415v21M2494 418v15M3115 411v29M1551 418v22M2022 410v28M2614 409v24M2191 417v15M1793 409v24M2380 415v23M2620 410v26M2925 418v17M2122 409v30M2456 409v28M896 411v22M784 415v25M2954 411v22M991 418v17M1706 410v25M3206 410v24M734 417v16M2516 416v21M1075 408v25M2339 415v23M2977 410v24M2990 417v22M2847 415v27M1977 410v25M2063 416v20M818 412v28M633 418v23M2747 416v21M417 415v19M3366 411v24M865 415v27M2654 416v19M1742 415v21M2295 416v21M2776 410v24M1234 409v27M3006 411v25M2772 415v27M2186 416v22M2166 412v22M1529 414v19M3488 409v30M1540 410v31M1050 415v23M2112 417v16M3327 411v26M3344 418v15M2179 414v27M1556 409v30M2745 415v21M2115 413v28M2998 413v24M3033 414v19M2595 416v16M3501 418v24M2415 416v25M3507 414v21M2426 414v25M974 409v30M2344 411v26M2814 411v24M1660 417v23M804 409v31M1420 417v22M2860 415v20M938 415v21M281 417v22M3186 411v30M3497 416v18M3153 410v22M2926 416v17M2686 411v29M2089 411v24M2426 409v24M2742 414v20M1343 418v15M930 411v23M2567 417v23M2264 409v23M3559 409v31M1631 415v23M1629 413v24M651 414v19M292 416v24M709 415v20M2225 410v32M3470 417v22M622 416v21M778 417v22M2526 412v26M1254 409v27M395 416v20M3215 414v24M741 417v17M1704 415v22M2770 410v22M2855 414v20M3444 414v22M2227 412v29M738 409v29M512 412v21M2396 412v29M2035 410v29M1077 411v27M795 414v19M1416 416v20M1207 410v24M1430 418v24M1419 413v22M2763 415v17M1788 417v15M3082 408v27M1924 413v19M1215 411v31M3338 416v17M2424 417v20M3066 418v17M1023 411v28M3502 413v22M2369 413v25M1498 411v29M1083 415v24M573 415v20M353 415v19M899 409v28M1280 410v24M2020 414v28M1575 409v28M395 409v28M726 414v23M304 408v31M378 413v25M1239 415v26M2381 412v29M756 410v27M3202 410v26M3549 417v25M2302 413v22M404 411v30M851 412v22M1954 416v21M3374 412v29M3531 415v17M2710 418v19M3224 410v31M568 412v27M1941 416v18M1844 418v20M968 409v29M2132 408v34M2128 415v21M3496 416v24M467 415v19M1244 409v32M815 417v19M990 412v24M1309 411v31M1478 413v26M3449 414v19M1342 409v25M1863 413v25M798 418v23M981 415v20M968 411v28M2148 411v28M1250 415v18M1173 416v17M1996 411v31M297 415v26M3134 417v17M415 416v20M1620 409v24M3553 409v29M805 414v26M393 411v29M1870 411v24M2354 415v21M1523 418v17M980 410v30M2557 417v17M2218 411v26M1405 409v27M2304 416v24M3056 409v26M1966 411v28M1541 409v33M2305 409v28M1934 415v26M573 414v26M3267 413v21M659 412v26M2729 413v27M1694 413v22M2866 413v24M1994 408v27M2991 414v25M1816 412v27M1070 413v23M2822 410v30M3014 417v22M1926 410v29M3354 413v28M2612 408v32M3366 413v28M897 414v18M3402 415v22M2813 410v23M3400 412v26M1415 413v19M2105 409v29M3238 413v26M2495 412v22M1210 416v18M1211 409v27M3412 413v22M2491 418v17M420 409v29M1109 409v25M2108 412v23M877 415v19M1803 414v19M2479 414v28M524 416v26M1092 413v20M3192 412v28M379 409v29M616 411v30M2989 412v24M2508 411v27M1821 418v20M3120 415v22M941 409v29M261 414v24M2963 411v24M2378 411v21M1370 410v25M2183 413v28M515 415v22M1290 415v21M2146 408v30M3071 415v23M1303 417v23M446 416v16M538 418v20M1268 414v24M2340 411v24M2604 417v21M2569 418v16M3173 414v24M2526 408v30M2489 412v24M2232 410v28M2475 415v26M2689 416v25M3511 418v21M844 411v27M2396 409v29M659 411v26M933 416v17M3346 417v16M1598 413v21M2142 408v28M951 411v22M1951 416v18M324 417v21M2188 412v21M3438 417v17M2544 416v22M2471 413v20M2101 412v20M1315 416v23M2834 409v28M1544 410v29M1370 410v24M2076 411v31M3507 416v20M2701 416v20M2502 410v31M671 408v32M2949 418v15M1659 417v23M2347 408v28M2121 411v25M2873 412v24M350 408v27M569 411v28M1184 415v25M921 414v27M2525 414v22M633 408v31M552 414v20M2017 413v28M465 414v21M2902 416v20M1346 408v25M1255 418v15M2243 416v16M3512 412v23M1190 411v21M999 412v28M1476 413v20M2852 416v25M3369 413v23M759 408v25M343 412v21M1267 418v21M1317 411v27M2746 410v31M2522 413v26M2745 410v27M1558 415v21M1678 409v28M3397 416v20M404 418v20M314 417v15M299 414v23M2978 412v29M1977 409v28M2570 411v31M2431 416v18M2965 409v23M2017 410v31M1343 417v23M618 412v25M1619 414v26M896 408v26M3345 414v20M2798 417v15M1196 418v16M1955 410v26M1815 414v27M2267 413v28M3414 417v25M1166 412v25M2300 408v28M1932 412v22M3439 416v18M973 409v24M2412 408v31M547 413v24M2063 412v30M3457 412v25M2652 415v26"/><path stroke="#00f" stroke-opacity="0.28" stroke-width="2.6" fill="none" d="M3118 411v25M3195 414v23M856 415v25M3406 408v29M3002 412v27M1347 413v22M2940 408v27M3434 412v23M2732 412v27M2716 411v29M3051 412v25M3186 412v29M2859 414v28M503 408v34M941 410v31M647 408v32M1803 414v25M462 412v24M2087 410v24M3338 414v21M3530 408v25M368 410v24M2528 413v29M721 414v26M3130 409v30M347 417v25M588 415v23M1326 418v16M260 416v23M2460 415v20M931 409v25M2654 415v20M3423 417v16M1818 416v21M1817 411v24M3580 412v24M1293 410v24M3209 418v19M2631 414v25M273 411v30M1239 411v23M2657 408v26M394 409v30M3114 414v18M3298 417v22M2786 414v28M2959 413v20M2243 416v26M2950 409v28M1808 410v31M1610 409v31M2597 410v28M1801 415v25M1283 409v28M1129 409v24M1707 410v24M1522 417v20M2768 411v26M2868 409v26M2916 414v25M3072 414v28M1456 418v23M1480 413v27M3049 410v30M846 410v31M2593 408v32M2000 413v27M2475 413v27M2577 415v23M2483 418v16M1030 417v20M321 415v24M3433 412v25M3249 418v19M1933 417v15M2457 414v25M547 412v21M1778 416v24M2212 412v21M2586 416v23M976 416v24M553 411v28M3462 413v23M3084 412v27M841 418v19M2997 412v27M2963 414v22M850 414v24M2937 415v18M1522 415v22M1362 417v21M780 416v24M2223 410v23M2296 416v17M1955 417v21M577 412v26M2908 409v29M1303 417v15M1128 417v18M2390 412v29M861 416v20M3291 418v15M2413 415v22M2886 417v15M1383 411v26M1677 409v30M1084 416v25M1083 409v28M1632 418v15M2879 415v20M1927 417v21M3033 417v16M617 414v22M1211 409v27M365 415v22M3301 414v21M453 413v23M2058 417v24M2498 412v25M926 411v27M3525 409v32M3527 412v20M1040 411v31M710 411v25M2419 418v22M1966 412v22M2266 412v24M2312 417v20M3445 417v25M2816 417v19M1289 412v26M2746 415v26M1747 416v19M3509 415v20M1841 416v16M279 416v22M3313 409v25M1169 411v26M2994 417v25M2291 414v19M2735 418v24M2717 409v30M3275 415v24M3033 415v17M2404 411v24M1336 414v18M1896 411v23M1176 408v28M1370 410v27M1785 410v30M1660 409v31M1212 415v19M1262 412v24M1286 413v26M884 408v26M2194 415v18M552 416v19M1074 408v31M814 410v32M2609 417v24M1180 417v16M576 408v28M2993 412v24M1709 414v26M2936 416v25M1317 415v26M1403 409v23M2115 413v28M476 412v21M3514 409v25M689 417v19M3301 417v25M2451 416v25M2802 411v23M946 410v22M3230 417v17M2037 414v21M1627 413v23M888 415v19M816 411v22M3132 411v29M3490 418v15M1643 416v23M2666 409v25M2582 417v17M1896 417v20M1851 418v19M2095 409v29M1403 412v20M2740 416v25M1642 418v21M1932 414v20M851 418v22M3510 415v24M503 416v19M2644 409v33M2455 408v26M1396 413v19M3513 411v30M365 414v24"/>
<path stroke="#000" stroke-opacity="0.80" stroke-width="2.6" fill="none" d="M304 415v21M1673 413v24M651 421v7M1539 418v19M1544 417v16M1665 418v16M1301 418v17M2859 422v7M1794 414v14M3283 413v17M1395 421v10M723 418v13M1432 422v8M3162 416v16M1445 414v15M2991 416v14M2563 412v25M1108 415v13M883 418v15M620 419v13M1747 413v21M2569 416v21M1227 415v15M3439 414v17M290 414v19M2873 416v22M812 414v23M3585 415v17M572 422v14M3327 421v12M1587 415v20M1202 419v10M379 413v24M977 419v17M1526 414v24M3376 415v14M3483 416v16M509 413v24M2125 421v9M351 418v19M590 416v17M2305 414v18M2007 415v21M3257 414v15M3269 421v9M777 417v18M2365 415v22M2943 415v15M2830 413v24M2142 414v23M1958 417v21M2155 413v24M1626 422v13M2135 413v25M3229 420v10M1408 422v7M1718 413v15M1710 418v14M3145 413v20M1062 421v8M1714 418v11M2759 417v14M1556 415v13M3108 418v15M2044 419v11M574 422v6M1471 414v20M733 413v17M1714 417v19M1462 421v11M1379 419v10M3020 421v14M3248 421v9M2773 417v18M2808 412v24M3233 419v17M3316 414v22M826 418v12M3248 413v23M782 416v15"/>
<path stroke="#000" stroke-opacity="0.16" stroke-width="2.6" fill="none" d="M1476 279v119M2535 283v120M699 284v119M785 281v117M2418 281v122M3238 280v115M2493 280v121M3408 284v119M1190 283v119M1428 284v118M1491 282v121M1444 285v109M1142 277v127M2897 283v113M1191 285v110M1637 281v116M1824 279v118M3579 277v121M1346 277v123M2557 279v122M1340 285v117M2923 283v118M1541 277v127M314 282v118M1994 283v113M1373 281v115M1129 285v114M1222 277v126M249 282v120M2690 284v117M2077 280v116M2374 277v124M2150 277v121M1519 285v118M1779 284v112M1838 285v110M3315 285v116M1409 286v118M753 281v116M523 285v112M1372 279v120M2159 277v121M2193 277v121M2680 285v118M2451 286v116M522 283v115M1548 285v110M1483 278v118M620 280v115M2213 283v113M2837 283v117M386 283v118M2017 284v115M643 282v115M2843 281v114M2113 286v118M463 277v117M1970 280v119M1049 281v117M937 282v116M2477 280v114M1597 282v113M3351 285v114M3312 280v121M3100 285v111M1617 280v124M3273 285v113M484 280v123M2841 277v118M1445 282v118M3142 282v120M342 285v113M2169 279v123M475 278v124M1229 283v119M2134 282v113M708 283v116M2568 278v117M1960 279v117M992 277v125M2044 286v118M1736 282v118M355 277v119M2619 284v116M2636 282v120M3291 284v117M3396 276v123M1483 284v118M2396 285v114M2278 281v113M418 281v119M2667 285v118M1155 277v119M1665 280v122M2321 278v124M1932 282v121M1180 279v119M3167 277v123M557 284v115M2261 281v122M862 284v113M3340 285v116M3379 279v117M2633 283v116M3204 282v113M2809 284v119M2433 280v117M2746 286v118M3293 277v122M969 280v116M2685 281v119M843 280v117M1786 285v116M1381 279v117M2365 280v124M2382 284v112M3265 282v112M3055 285v118M461 278v119M822 279v117M392 283v115M2622 276v120M1402 283v118M3508 276v123M960 282v118M3446 283v119M2776 279v123M2795 280v114M2277 283v115M3205 282v115M1027 281v119M3153 283v114M3193 283v114M2273 284v112M2457 277v118M1009 282v115M1888 282v115M2208 280v122M1301 285v109M384 285v114M3423 283v120M2942 278v120M1465 285v114M2024 285v117M2222 286v115M3451 277v126M2113 278v118M2666 280v116M2932 277v123M579 285v112M2191 280v121M3357 279v120M3002 285v110M3330 281v115M786 284v112M2847 284v114M1177 285v112M3176 281v114M2869 279v119M1498 285v115M2183 284v118M1815 277v120M3395 284v117M2097 282v116M502 281v113M2036 277v120M307 277v119M698 284v118M1886 283v116M1788 285v111M473 282v116M1383 285v112M1204 278v123M1203 284v117M1726 284v112M358 282v117M352 285v113M1030 278v119M2642 281v123M3380 283v118M2772 281v117M500 285v113M3005 277v125M2988 278v120M3070 282v120M2678 276v124M1116 277v123M1900 282v117M1716 280v119M359 286v112M2053 281v115M1129 280v115M3432 285v112M2475 285v110M2955 283v117M351 283v119M2627 277v125M2932 276v121M1788 284v115M1088 285v117M1873 280v117M2085 278v116M1695 283v119M1308 276v122M2482 284v116M3229 280v123M1141 280v117M3198 281v116M426 280v119M2547 277v123M1396 282v119M2000 278v116M1430 283v115M512 282v115M799 279v117M3548 281v120M1636 278v119M3425 281v120M1983 280v115M3253 281v117M1732 286v114M3562 276v124M1842 277v121M1109 276v124M831 278v126M483 278v126M611 285v114M2527 281v117M1457 283v112M3169 280v115M905 280v116M3370 285v113M879 278v119M1147 278v117M1381 277v125M1122 277v125M1632 286v117M2931 278v124M481 282v121M1060 279v121M420 282v114M2839 282v119M643 284v118M1949 276v125M3151 279v122M1301 278v120M630 280v121M1135 282v120M3390 276v121M561 283v113M3136 284v113M646 283v112M790 285v110M2828 280v118M2384 279v120M1317 281v121M2594 286v116M738 283v113M3194 278v116M2171 277v125M3411 277v120M2239 280v116M2158 279v117M3116 280v116M2195 276v127M533 283v118M2292 279v125M1226 284v114M2379 279v123M3585 276v124M2285 285v118M3035 285v113M1429 276v121M282 279v121M399 283v121M304 279v118M972 277v125M1149 281v115M1319 281v118M2434 284v112M2751 281v117M2817 277v118M2761 278v120M3106 282v120M2658 285v110M1780 286v112M1626 284v114M515 283v118M287 276v127M3113 276v122M740 278v122M3137 278v122M1580 284v116M443 284v113M3019 283v116M2635 285v110M3584 285v109M2057 285v110M3357 283v112M1938 284v112"/><path stroke="#00f" stroke-opacity="0.12" stroke-width="2.6" fill="none" d="M478 280v123M3156 278v122M2173 279v120M3080 278v120M2895 281v119M558 278v122M565 278v126M2637 278v117M3075 279v121M846 280v120M3213 277v121M331 282v122M2816 285v115M2344 279v116M1532 282v117M1523 281v120M1273 281v121M1835 279v118M1918 285v115M795 286v109M288 285v109M2007 283v116M880 277v120M572 281v119M1087 281v113M726 286v112M3140 283v120M1215 286v110M2412 285v114M275 283v114M2457 277v122M3439 285v113M2771 286v116M2801 276v127M1642 277v119M1841 282v122M3262 277v120M1035 276v118M1936 280v119M2685 281v113M1373 280v118M1823 285v112M361 282v117M2527 284v116M802 286v114M1109 279v119M996 285v113M2648 285v113M1580 285v110M3571 284v115M2920 278v122M3336 277v119M2544 284v115M1013 279v116M1327 278v119M1460 281v114M921 278v120M1806 285v118M2892 285v111M1990 277v125M799 283v113M2697 280v123M3475 284v119M1832 281v115M717 281v114M2689 277v118M2048 279v117M2949 279v122M2271 283v112M3163 285v118M291 285v111M2421 283v116M2258 283v120M2851 277v126M975 285v116M2203 280v119M1137 277v124M2770 282v118M509 283v112M770 276v119M3408 277v125M2713 277v120M1087 283v114M1288 285v118M1696 280v120M1024 284v120M712 283v116M3491 276v124M952 283v118M2748 279v123M2648 282v116M2706 278v116M1257 283v114M987 285v113M2308 279v123M3576 280v124M1544 282v122M974 277v117M1944 276v127M878 281v121M1405 281v122M2705 284v115M1054 278v120M1744 280v118M2398 283v119M776 284v112M726 278v123M3474 283v119M3149 285v112M3206 277v121M2159 279v116M1932 283v116M607 282v120M1047 282v121M619 284v115M2025 282v117M1702 280v121M821 282v116M573 283v117M2166 277v124M715 281v122M286 285v110M998 279v122M2932 278v124M2445 283v121M1975 280v121M997 282v119M1808 285v112M276 278v124M1332 278v122M1848 285v117M549 283v111M2185 286v113M1725 279v116M424 277v117M735 282v116M1878 279v123M3247 277v121M433 284v118M2125 283v116M1195 278v120M1543 283v119M3332 282v121M2352 282v121M1194 285v111M1755 277v126M3529 279v120M3147 280v122M1668 276v123M2017 281v114M1777 280v122M747 277v120M3484 282v117M1010 284v114M976 277v120M612 284v114M3397 280v122M3306 282v114M2376 280v123M2013 276v125M2188 279v122M1483 278v123M3223 285v110M2109 286v109M3109 276v126M2569 281v113M2516 283v117M2490 286v118M2841 285v114M2967 284v117M2530 279v123M1317 279v119M1124 277v119M899 281v121M3109 284v112M1869 281v116M243 278v120M2249 283v120M3135 277v120M3319 283v115M3386 280v122M3152 276v127M834 279v124M1969 284v118M2615 282v118M2397 276v122M1443 282v114M367 283v117M3234 283v120M2848 279v121M3143 276v125M1534 284v117M1073 283v117M3070 279v123M2435 277v123M2477 277v124M357 281v119M601 278v120M2819 283v116M3202 283v112"/>
<path stroke="#000" stroke-opacity="0.20" stroke-width="2.6" fill="none" d="M1442 1402v13M604 1399v15M2717 1398v11M1564 1398v11M2748 1393v16M2775 1400v7M369 1392v16M2323 1400v15M2936 1395v21M3309 1397v16M539 1399v12M551 1400v15M1729 1397v12M2756 1401v12M616 1396v12M3581 1396v14M2628 1400v13M291 1397v18M2734 1398v17M1682 1393v14M830 1401v13M2463 1395v13M2637 1393v16M2323 1401v7M1090 1394v20M852 1394v15M443 1399v15M804 1401v5M1449 1395v17M1373 1395v18M476 1394v18M3071 1394v14M868 1400v12M511 1398v12M942 1399v17M1723 1396v11M2333 1395v19M515 1395v19M749 1394v18M331 1396v16M1576 1396v16M3589 1399v14M2859 1396v10M3099 1400v7M3303 1396v18M983 1402v11M2410 1393v23M1638 1392v14M1459 1399v16M2782 1398v16M2125 1398v8M2327 1398v15M1148 1397v16M3391 1397v10M2439 1401v7M2351 1394v13M2786 1395v15M3302 1394v14M831 1397v10M1127 1397v10M3499 1393v14M2500 1400v14M3218 1402v12M1353 1397v13M3547 1398v14M1687 1402v7M2937 1401v14M3295 1402v11M1974 1398v18M1638 1396v18M1910 1393v16M674 1397v16M482 1394v20M3408 1398v10M2427 1392v18M524 1400v16M2218 1400v9M1076 1401v7M3055 1396v17M1445 1395v14M301 1396v19M2471 1397v10M3573 1396v16M2711 1397v18M3462 1397v17M584 1400v11M1219 1396v14M2841 1393v14M1791 1393v14M839 1393v17M1390 1393v22M1198 1396v10M2599 1399v15M2830 1401v7M2706 1395v18M2479 1398v14M2747 1401v15M3334 1392v18M1126 1401v5M1175 1395v18"/><path stroke="#00f" stroke-opacity="0.24" stroke-width="2.6" fill="none" d="M494 1393v18M2211 1398v11M3324 1394v20M2032 1399v9M257 1400v6M622 1400v14M1613 1393v23M284 1401v7M2456 1399v12M1144 1393v15M1390 1394v19M2867 1398v18M2702 1395v16M2923 1396v14M878 1398v16M1393 1399v8M2374 1395v18M1924 1400v15M2944 1396v15M1626 1392v19M3292 1395v16M980 1398v10M2433 1393v20M2922 1399v17M3554 1397v10M1509 1393v23M3203 1399v8M2260 1396v12M2390 1400v14M1103 1401v11M3186 1396v19M467 1396v18M3561 1394v15M2141 1398v11M2191 1401v11M828 1401v11M2505 1398v13M763 1394v16M3039 1401v12M2745 1400v10M808 1394v20M2883 1396v18M2363 1393v17M1235 1399v17M2464 1394v22M2571 1399v9M1916 1392v23M2565 1399v14M2892 1396v11M3229 1397v16M3024 1395v21M603 1400v6M3127 1395v20M3423 1399v15M1860 1394v21M3276 1399v11M993 1399v10M377 1401v6M1738 1395v19M644 1396v19M681 1400v13M1729 1396v15M3504 1395v14M1984 1392v16M3551 1399v12M1947 1395v14M1794 1394v13M312 1394v19M522 1401v12M3170 1395v16M2545 1393v13M2131 1393v19M3227 1398v10M2421 1401v6M1187 1397v15M3143 1392v16M2683 1397v15M511 1399v14M3027 1393v14M1464 1401v7M3074 1396v19M3008 1392v22M3282 1399v11M623 1394v17M2706 1400v8M1291 1394v17M3115 1400v10M627 1396v20M3177 1397v17M3501 1399v13M1973 1396v16M2080 1400v7M2288 1395v13M3248 1400v9M537 1396v15M3097 1402v4M1411 1394v21M1603 1397v13M3166 1401v6M651 1392v23M723 1400v11M2523 1395v19M2686 1394v17M997 1394v16M2565 1392v19M1438 1397v19M335 1396v16M1121 1394v15M782 1394v21M1754 1393v19M1760 1400v15M1531 1399v9M3289 1401v10M1532 1397v18M883 1392v21M3416 1400v13M2387 1394v21M3430 1394v15M1754 1400v15M2269 1395v16M1343 1400v11M3468 1394v15M1167 1398v15M3361 1395v13M1386 1400v9M2813 1394v14M2410 1394v13M2848 1396v12M926 1398v9M3588 1396v20M1906 1397v18M493 1394v20M2528 1393v23M503 1402v11M2413 1394v20M2644 1400v12M924 1400v9M630 1400v8M694 1397v13M2443 1394v14M2744 1401v6M3322 1397v14M1331 1393v14M570 1396v13M2351 1395v14M3044 1394v18M2674 1402v7M1884 1396v17M1142 1395v12M2685 1398v11M3111 1392v17M977 1401v6M2622 1401v11M2825 1400v11M3581 1399v16M1500 1394v13M1558 1398v13M391 1397v12M778 1402v10M2736 1398v8M1155 1395v14M3295 1402v5M1310 1397v16M2909 1398v15M1449 1396v12M2775 1394v17M1711 1397v13M949 1401v9M931 1394v18M1202 1398v16M641 1398v8M3147 1397v11M3330 1394v19M2909 1402v13M258 1394v16M3198 1401v14M2903 1393v16M3063 1398v10M2356 1392v16M938 1397v16M1240 1399v12M1546 1398v13M861 1400v13M336 1399v16M3436 1393v13M1546 1397v13M2279 1401v8M602 1399v14M3114 1394v12M2759 1396v12M378 1394v17M916 1394v18M2735 1398v13M433 1398v10M321 1398v17M639 1400v7M718 1395v18M2834 1398v12M2863 1400v15M2158 1398v11M1265 1402v9M2867 1395v12M2367 1401v11M447 1393v15M875 1401v6M2572 1399v13M2139 1397v16M1563 1395v17M2019 1401v11M1056 1397v15M2205 1394v15M705 1399v13M3548 1393v22M3001 1396v12M1907 1393v22M3518 1399v10M2513 1394v21M2180 1393v18M2408 1399v17M2593 1399v8M3558 1397v18M2868 1395v12M1038 1393v22M440 1401v9M3324 1395v15M2714 1394v17M2194 1397v15M1881 1393v23M3422 1398v13M384 1400v6M762 1398v12M1305 1398v17M3583 1393v15M2570 1396v16M2255 1400v13M1390 1397v10M771 1397v13M298 1393v22M718 1400v12M825 1394v17M1954 1395v17M1468 1392v20M3518 1398v18M3328 1398v16M2102 1394v17M799 1395v21M1305 1402v7M332 1398v8M2459 1397v18M1532 1393v20M3346 1397v19M1302 1396v18M3094 1398v16M1562 1401v12M2431 1395v16M1432 1400v14M2952 1398v12M993 1393v14M778 1398v12M415 1399v12M1520 1396v12M2700 1400v8M1792 1398v9M3066 1402v6M2206 1397v17M2030 1394v18M1913 1396v20M377 1393v15M2220 1397v15M882 1398v10M519 1397v10M584 1399v11M796 1402v8M2320 1393v14M1201 1395v13M1230 1402v12M1626 1396v13M3446 1393v15M1106 1399v7M1250 1400v10M1083 1399v13M1297 1393v20M1240 1401v6M3025 1402v12M3522 1398v15M1560 1392v16M3148 1401v14M597 1394v17M1857 1395v12M2997 1400v13M545 1393v20M3587 1392v15M1580 1396v10M1915 1397v16M3410 1395v18M3323 1393v14M942 1397v9M1769 1400v15M2704 1392v22M1783 1398v18M3390 1400v15M913 1401v14M3510 1400v15M2324 1393v21M2298 1399v11M2531 1396v11M1130 1395v18M1729 1398v18M975 1395v14M2942 1399v16M1351 1396v14M722 1393v16M3222 1401v15M1395 1397v18M3425 1394v18M1734 1401v8M2422 1398v15M2874 1393v15M1970 1398v11M3404 1394v14M2954 1400v11M3229 1398v15M2023 1395v17M676 1397v10M821 1397v14M732 1399v17M2032 1392v20M3426 1399v12M2094 1396v17M1682 1397v13M620 1399v14M1498 1393v17M859 1401v7M1771 1397v15M1779 1393v15M3372 1395v17M1568 1393v20M3201 1399v15M383 1394v17M1401 1401v10M2660 1398v12M1739 1399v13M507 1400v16M1438 1400v12M2096 1395v17M3443 1401v14M1037 1393v19M542 1392v15M2780 1396v11M2304 1399v12M1413 1396v19M1553 1396v13M1341 1395v11M2464 1399v13M3142 1396v18M1246 1395v13M3289 1392v15M1644 1396v13M1888 1396v10M1101 1392v20M533 1396v18M916 1400v9M1083 1397v17M1708 1393v21M1897 1396v13M3072 1397v16M1447 1400v14M2806 1392v15M1093 1395v11M1844 1396v14M499 1397v12M3230 1394v17M1423 1393v14M2388 1399v8M2124 1394v15M1877 1398v11M1043 1399v14M3003 1396v19M1825 1400v8M683 1394v13"/></g>
</g>
<rect x="121.2" y="51.4" width="1674.6" height="923.9" filter="url(#nz)" fill="#000"/>
<rect x="121.2" y="51.4" width="1674.6" height="923.9" filter="url(#nz2)" fill="#000"/>
<g transform="scale(0.5)">
<g filter="url(#bl2)"><rect x="242" y="1803" width="1850" height="20" fill="#000" fill-opacity="0.82"/>
<path stroke="#000087" stroke-opacity="0.35" stroke-width="4" fill="none" d="M1687 1803v19M1822 1803v20M1581 1803v19M1731 1803v20M298 1803v21M361 1803v20M1201 1804v19M836 1803v19M934 1803v20M839 1803v20M637 1803v19M1595 1804v19M851 1803v20"/><path stroke="#000087" stroke-opacity="0.60" stroke-width="3" fill="none" d="M2057 1803v21M243 1803v20M1336 1804v19M1022 1803v20M1539 1803v19M1510 1803v19M726 1802v20M1685 1803v19M478 1802v20M1859 1803v20M1914 1803v20"/><path stroke="#000087" stroke-opacity="0.85" stroke-width="3" fill="none" d="M1493 1803v20M2007 1803v20M589 1803v20M1934 1803v20M279 1803v20M756 1803v20M317 1803v20M1914 1803v19M1208 1803v19M1278 1803v19M772 1803v20"/><path stroke="#000087" stroke-opacity="0.35" stroke-width="3" fill="none" d="M1364 1803v20M618 1803v19M420 1803v19M2064 1803v20M1625 1802v20M1168 1804v19M356 1803v19M1987 1803v20"/><path stroke="#000087" stroke-opacity="0.35" stroke-width="5" fill="none" d="M599 1803v19M985 1803v20M1437 1803v19M1010 1803v20M741 1803v19M1922 1803v20M1701 1803v20M689 1803v20"/><path stroke="#000087" stroke-opacity="0.85" stroke-width="2" fill="none" d="M1468 1803v20M1272 1803v20M292 1803v19"/><path stroke="#000087" stroke-opacity="0.60" stroke-width="4" fill="none" d="M1632 1803v19M937 1802v20M1791 1803v20M1999 1803v20"/><path stroke="#000087" stroke-opacity="0.85" stroke-width="5" fill="none" d="M466 1802v20M1744 1803v20M642 1803v20M1282 1803v20M363 1803v20M1716 1803v19M354 1803v19M1736 1803v20M465 1803v20M824 1803v19"/><path stroke="#000087" stroke-opacity="0.60" stroke-width="5" fill="none" d="M1353 1803v19M1495 1802v20M1551 1803v20M815 1803v19M1546 1803v20M1434 1802v21"/><path stroke="#000087" stroke-opacity="0.85" stroke-width="4" fill="none" d="M1672 1802v20M1292 1803v19M1205 1803v20M730 1804v19M743 1803v19M1756 1803v20M1697 1803v20M1550 1803v20M520 1803v20M1149 1803v20M446 1803v20M859 1803v19"/><path stroke="#000087" stroke-opacity="0.60" stroke-width="2" fill="none" d="M1329 1803v19M757 1803v20M293 1802v21"/><path stroke="#000087" stroke-opacity="0.35" stroke-width="2" fill="none" d="M1343 1803v20"/>
<rect x="2218" y="1803" width="894" height="20" fill="#000" fill-opacity="0.22"/>
<path stroke="#000" stroke-opacity="0.35" stroke-width="3" fill="none" d="M2581 1803v20M3018 1803v19"/><path stroke="#000" stroke-opacity="0.35" stroke-width="7" fill="none" d="M2532 1803v21M2674 1803v19M2724 1803v19M3054 1804v18"/><path stroke="#000" stroke-opacity="0.20" stroke-width="3" fill="none" d="M2449 1803v20M2646 1803v19M2752 1803v20M2565 1804v18M2555 1803v18M2979 1804v19"/><path stroke="#000" stroke-opacity="0.35" stroke-width="6" fill="none" d="M2436 1804v19M2396 1803v19M2231 1802v20M3076 1804v18M2797 1804v18M2658 1803v21M2687 1802v20M2507 1802v20M2507 1803v19"/><path stroke="#000" stroke-opacity="0.20" stroke-width="5" fill="none" d="M2755 1803v20M3092 1803v20M2897 1804v19M2399 1803v19M2918 1803v20M2760 1803v20M2956 1804v19"/><path stroke="#000" stroke-opacity="0.55" stroke-width="5" fill="none" d="M2873 1803v19M3078 1803v18M2714 1803v19M2662 1804v20M2762 1803v19M2323 1803v19M3049 1803v20M2765 1802v20M2846 1802v20M2854 1802v21M2390 1802v21"/><path stroke="#000" stroke-opacity="0.20" stroke-width="4" fill="none" d="M2677 1802v21M3074 1804v19M2978 1802v21M2461 1804v20M2770 1803v19M2755 1803v20M2636 1804v20"/><path stroke="#000" stroke-opacity="0.20" stroke-width="6" fill="none" d="M2348 1804v19M2635 1803v20M2549 1804v18M2537 1803v19M2747 1802v20M2638 1802v21M2366 1803v20M2635 1803v19M2718 1803v19"/><path stroke="#000" stroke-opacity="0.35" stroke-width="5" fill="none" d="M2647 1803v19M2925 1804v19M3108 1803v19M3031 1803v20M2675 1803v20M2480 1803v19M2531 1804v19M2628 1804v19M2948 1804v19M2733 1802v21"/><path stroke="#000" stroke-opacity="0.35" stroke-width="8" fill="none" d="M2489 1803v19"/><path stroke="#000" stroke-opacity="0.55" stroke-width="4" fill="none" d="M2585 1803v19M2874 1803v20M2411 1802v21M2264 1803v19M2955 1802v21M2630 1803v21M2786 1802v21"/><path stroke="#000" stroke-opacity="0.35" stroke-width="4" fill="none" d="M2563 1802v20M2355 1803v19M2293 1803v20M2595 1803v20M2751 1803v18"/><path stroke="#000" stroke-opacity="0.20" stroke-width="7" fill="none" d="M2942 1802v21M2703 1803v19M2656 1803v20M2249 1804v19M2775 1802v20M2679 1804v18M2915 1804v19M2402 1803v19M2998 1804v19M2839 1804v19"/><path stroke="#000" stroke-opacity="0.20" stroke-width="8" fill="none" d="M2338 1804v18M2604 1804v20M2793 1803v20M2648 1804v18"/><path stroke="#000" stroke-opacity="0.55" stroke-width="6" fill="none" d="M2459 1804v18M2590 1804v20M2317 1804v19M2864 1803v18M2817 1802v21"/><path stroke="#000" stroke-opacity="0.55" stroke-width="7" fill="none" d="M2629 1802v20M2860 1803v21M2631 1803v21M2876 1803v20M2288 1804v18M2947 1804v19"/><path stroke="#000" stroke-opacity="0.55" stroke-width="3" fill="none" d="M2405 1803v19M2852 1803v19M2538 1802v21M2900 1803v19M3062 1803v21"/><path stroke="#000" stroke-opacity="0.55" stroke-width="8" fill="none" d="M2478 1804v19M2301 1803v20"/>
<path stroke="#0000e0" stroke-opacity="0.50" stroke-width="5" fill="none" d="M2722 1803v20M2452 1803v20M2442 1803v20M2941 1804v18"/><path stroke="#0000e0" stroke-opacity="0.35" stroke-width="4" fill="none" d="M2378 1804v18M2987 1802v21M2704 1804v18M2930 1804v20M2679 1802v21M2275 1804v19M2677 1804v18"/><path stroke="#0000e0" stroke-opacity="0.20" stroke-width="6" fill="none" d="M2979 1803v20M2416 1803v19"/><path stroke="#0000e0" stroke-opacity="0.20" stroke-width="5" fill="none" d="M2465 1804v20M2894 1802v21M2770 1803v19M3099 1804v19M2389 1804v19M2973 1803v20M2998 1804v19M2302 1802v21"/><path stroke="#0000e0" stroke-opacity="0.35" stroke-width="5" fill="none" d="M2634 1803v19M2872 1802v20M2958 1803v20M2780 1803v19M3104 1804v19M2372 1802v20"/><path stroke="#0000e0" stroke-opacity="0.50" stroke-width="4" fill="none" d="M2898 1803v20M2610 1803v19M2851 1802v21M2278 1804v18"/><path stroke="#0000e0" stroke-opacity="0.50" stroke-width="3" fill="none" d="M3041 1802v20M2435 1803v21M2875 1803v19M3011 1804v19"/><path stroke="#0000e0" stroke-opacity="0.35" stroke-width="3" fill="none" d="M2555 1802v21M2676 1802v21M3081 1803v20"/><path stroke="#0000e0" stroke-opacity="0.20" stroke-width="3" fill="none" d="M3020 1803v20M2510 1803v20M3016 1803v19M2293 1802v20"/><path stroke="#0000e0" stroke-opacity="0.20" stroke-width="4" fill="none" d="M2785 1803v20M2959 1803v19"/><path stroke="#0000e0" stroke-opacity="0.35" stroke-width="6" fill="none" d="M2431 1803v20M3048 1804v19M2754 1804v18M2679 1802v20"/><path stroke="#0000e0" stroke-opacity="0.50" stroke-width="6" fill="none" d="M2267 1803v21M2641 1804v19"/>
<path stroke="#000" stroke-opacity="0.20" stroke-width="3" fill="none" d="M2192 1802v20M2210 1804v20M2197 1804v19"/><path stroke="#000" stroke-opacity="0.35" stroke-width="3" fill="none" d="M2171 1804v19M2105 1804v19"/><path stroke="#000" stroke-opacity="0.20" stroke-width="2" fill="none" d="M2109 1804v19M2193 1804v20M2178 1802v21M2131 1804v19"/><path stroke="#000" stroke-opacity="0.35" stroke-width="5" fill="none" d="M2112 1804v19M2195 1803v20M2213 1802v20M2140 1803v19"/><path stroke="#000" stroke-opacity="0.20" stroke-width="4" fill="none" d="M2145 1804v19M2110 1803v19M2156 1803v19"/><path stroke="#000" stroke-opacity="0.50" stroke-width="2" fill="none" d="M2177 1803v19"/><path stroke="#000" stroke-opacity="0.50" stroke-width="4" fill="none" d="M2207 1803v19M2210 1804v19M2215 1802v20"/><path stroke="#000" stroke-opacity="0.35" stroke-width="2" fill="none" d="M2114 1804v20"/><path stroke="#000" stroke-opacity="0.50" stroke-width="3" fill="none" d="M2155 1802v20M2211 1803v20"/><path stroke="#000" stroke-opacity="0.35" stroke-width="4" fill="none" d="M2180 1803v19"/><path stroke="#000" stroke-opacity="0.50" stroke-width="5" fill="none" d="M2175 1803v20"/>
<rect x="2090" y="1794" width="8" height="30" fill="#1c1cff" fill-opacity="0.90"/>
<rect x="242" y="1824" width="1850" height="24" fill="#00f" fill-opacity="0.07"/>
<rect x="2092" y="1824" width="1500" height="18" fill="#00f" fill-opacity="0.12"/>
<rect x="242" y="1852" width="1840" height="21" fill="#000" fill-opacity="0.72"/>
<path stroke="#000087" stroke-opacity="0.70" stroke-width="3" fill="none" d="M584 1850v23M1953 1852v23M305 1852v22M492 1851v24M1679 1851v23M1794 1850v24M430 1850v24M1476 1851v23M1006 1851v23M1851 1851v24M1661 1851v22M1516 1850v24M1858 1852v23M515 1851v23M1198 1851v24M1072 1851v22M2028 1850v23M982 1851v23M771 1851v24"/><path stroke="#000087" stroke-opacity="0.40" stroke-width="3" fill="none" d="M346 1851v24M369 1851v23M2042 1851v23M556 1850v24M1811 1851v23M1664 1851v23M917 1851v23M956 1851v23M1226 1850v23M1002 1851v23M396 1850v25M1047 1851v22M1508 1851v23M680 1850v23M1345 1850v24M1660 1851v23M1392 1851v22M296 1850v23M427 1851v24M1120 1851v23M366 1851v22"/><path stroke="#000087" stroke-opacity="1.00" stroke-width="4" fill="none" d="M1836 1850v24M1058 1852v23M1671 1851v23M1210 1851v23M1671 1851v23M1384 1850v24M612 1852v22M1855 1851v22M487 1850v24M727 1851v24M1609 1850v25M606 1851v24M490 1850v23M1465 1850v24M1854 1851v23M604 1851v23M744 1851v23M1850 1852v21M809 1852v22"/><path stroke="#000087" stroke-opacity="0.70" stroke-width="5" fill="none" d="M1102 1851v22M1379 1851v24M282 1850v23M1152 1851v23M2024 1851v22M389 1851v23M1323 1851v24M740 1851v23M679 1850v24M1060 1852v22M1089 1852v22M1672 1852v23"/><path stroke="#000087" stroke-opacity="0.70" stroke-width="2" fill="none" d="M794 1852v22M1606 1851v24M989 1850v23M439 1852v22M1374 1851v24M551 1851v24"/><path stroke="#000087" stroke-opacity="0.70" stroke-width="4" fill="none" d="M380 1850v24M369 1850v23M1924 1851v24M495 1851v23M970 1851v24M1509 1851v22M463 1852v21M1393 1852v23M830 1852v22M865 1852v22M1730 1850v23M1709 1852v22M1028 1851v23M260 1852v23M1050 1850v23M1278 1850v23M1757 1850v25M1356 1852v21M2054 1850v23"/><path stroke="#000087" stroke-opacity="0.40" stroke-width="4" fill="none" d="M892 1851v23M1473 1852v23M1311 1851v24M931 1851v23M1043 1851v24M1940 1850v23M1154 1851v23M729 1850v23M1761 1851v24M1904 1850v23M1156 1850v24M1664 1850v24M1123 1850v23M830 1850v23M1126 1852v22M1246 1851v24"/><path stroke="#000087" stroke-opacity="1.00" stroke-width="5" fill="none" d="M1500 1852v23M503 1852v23M277 1851v23M1256 1850v24M766 1850v24M1197 1851v23M618 1851v23M932 1850v24M1733 1852v22M1685 1851v22M1941 1852v23M350 1851v22M1793 1850v24M1786 1850v25M442 1851v24M393 1851v24M286 1851v23"/><path stroke="#000087" stroke-opacity="1.00" stroke-width="2" fill="none" d="M1626 1852v23M1210 1851v22M1698 1850v23M327 1852v22M1333 1851v23M1319 1850v24M1726 1850v24"/><path stroke="#000087" stroke-opacity="0.40" stroke-width="2" fill="none" d="M875 1851v23M1389 1851v23M972 1852v22M352 1852v23M1878 1852v23M732 1852v22M470 1852v22M1498 1850v23M1068 1851v24M289 1852v23"/><path stroke="#000087" stroke-opacity="0.40" stroke-width="5" fill="none" d="M515 1850v23M252 1851v24M1521 1851v22M249 1851v23M1714 1851v22M1134 1851v23M794 1851v22M1379 1850v23M2004 1850v24M1725 1852v21M251 1851v24M1573 1850v24"/><path stroke="#000087" stroke-opacity="1.00" stroke-width="3" fill="none" d="M710 1851v23M1726 1851v22M2081 1851v23M324 1851v22M436 1851v23M1206 1850v25M2030 1850v24M922 1851v24M381 1852v23M518 1852v23M1305 1851v24M1349 1850v24"/>
<path stroke="#1414ff" stroke-opacity="0.80" stroke-width="4" fill="none" d="M739 1851v23M1689 1851v23M779 1852v22M405 1851v23M611 1851v23M341 1852v21M995 1852v21M1693 1850v24"/><path stroke="#1414ff" stroke-opacity="0.40" stroke-width="2" fill="none" d="M916 1851v23M968 1851v24M1031 1851v22M1149 1851v23M1324 1851v22"/><path stroke="#1414ff" stroke-opacity="0.80" stroke-width="3" fill="none" d="M1669 1851v22M1988 1851v23M951 1851v23M1748 1851v24M1727 1851v23M1374 1851v22M1649 1851v22"/><path stroke="#1414ff" stroke-opacity="0.60" stroke-width="2" fill="none" d="M701 1850v24M1305 1850v23M1951 1851v24"/><path stroke="#1414ff" stroke-opacity="0.40" stroke-width="3" fill="none" d="M606 1851v23M446 1850v25M446 1852v22M1847 1851v24"/><path stroke="#1414ff" stroke-opacity="0.60" stroke-width="3" fill="none" d="M1625 1850v24M1113 1851v23M1306 1851v24M1627 1850v24"/><path stroke="#1414ff" stroke-opacity="0.80" stroke-width="2" fill="none" d="M1863 1850v23M853 1850v23M940 1851v22"/><path stroke="#1414ff" stroke-opacity="0.60" stroke-width="4" fill="none" d="M1955 1852v22M1994 1850v24"/><path stroke="#1414ff" stroke-opacity="0.40" stroke-width="4" fill="none" d="M1975 1851v23M580 1852v23M415 1851v23M874 1851v23"/>
<rect x="575" y="1848" width="3" height="24" fill="#e040b0" fill-opacity="0.90"/>
<rect x="280" y="1848" width="3" height="24" fill="#4a18ff" fill-opacity="0.90"/>
<rect x="432" y="1848" width="3" height="24" fill="#3a10ff" fill-opacity="0.90"/>
<rect x="1092" y="1848" width="3" height="24" fill="#3010ff" fill-opacity="0.90"/>
<rect x="1878" y="1848" width="3" height="24" fill="#3a10ff" fill-opacity="0.90"/>
<rect x="2082" y="1845" width="1510" height="25" fill="#00f" fill-opacity="0.42"/>
<path stroke="#2424ff" stroke-opacity="0.50" stroke-width="8" fill="none" d="M2307 1846v22M2744 1847v24M3466 1846v25M2207 1846v26"/><path stroke="#2424ff" stroke-opacity="0.30" stroke-width="6" fill="none" d="M2171 1846v23M3353 1845v24M3393 1845v24M2381 1845v26M3425 1845v23M3040 1846v24M3542 1846v24M3582 1847v23M3106 1844v26M2594 1846v25M3588 1846v23M2175 1844v27"/><path stroke="#2424ff" stroke-opacity="0.50" stroke-width="7" fill="none" d="M2264 1845v27M2441 1844v26M2502 1844v27M2860 1844v24M3004 1843v27M3443 1847v25M2716 1847v24M3346 1847v22M2728 1844v27M2504 1845v23M3141 1845v24M3485 1844v26M2287 1846v23"/><path stroke="#2424ff" stroke-opacity="0.80" stroke-width="6" fill="none" d="M3559 1844v25M3554 1844v26M2780 1844v26M2189 1846v25M3102 1847v22M2944 1846v24M2624 1846v26M3339 1845v26M2451 1846v22M2901 1844v26"/><path stroke="#2424ff" stroke-opacity="0.50" stroke-width="5" fill="none" d="M2665 1845v26M3066 1846v24M2800 1844v25M3492 1845v26M3051 1843v25M3224 1843v27M3463 1847v21M2486 1843v25M2222 1843v25M3537 1844v26M3248 1845v24M3256 1847v22M3324 1845v26M2442 1843v27M3111 1846v23M2347 1847v22"/><path stroke="#2424ff" stroke-opacity="0.30" stroke-width="7" fill="none" d="M2805 1844v28M2905 1847v22M3310 1846v24M3071 1844v27M3314 1845v23M2829 1844v27M3503 1846v24M3585 1843v28M2751 1846v22"/><path stroke="#2424ff" stroke-opacity="0.80" stroke-width="5" fill="none" d="M3108 1844v25M2329 1846v25M2624 1845v24M3312 1847v22M2688 1845v25M2687 1845v26M2305 1843v28M3435 1847v22M2342 1846v24M2212 1843v29M3405 1846v23M3442 1845v26M2462 1845v26M3171 1847v24M3112 1845v25M2558 1846v26M2396 1847v22"/><path stroke="#2424ff" stroke-opacity="0.30" stroke-width="4" fill="none" d="M3218 1844v26M2605 1844v26M2515 1847v22M3242 1847v25M2459 1844v26M2820 1847v23M3504 1845v24M3334 1846v25M2672 1844v26M2649 1844v25M3248 1844v24M3056 1847v21M2666 1847v24M2601 1846v23"/><path stroke="#2424ff" stroke-opacity="0.80" stroke-width="7" fill="none" d="M3552 1843v27M2406 1845v26M2984 1843v27M3130 1846v25M3440 1845v25M2925 1845v26M3553 1844v25M2890 1845v24"/><path stroke="#2424ff" stroke-opacity="0.50" stroke-width="6" fill="none" d="M2772 1843v25M2530 1846v23M2641 1843v27M3444 1843v26M2838 1847v22M3398 1843v28M3144 1845v27M2250 1845v26M2907 1845v25"/><path stroke="#2424ff" stroke-opacity="0.30" stroke-width="8" fill="none" d="M2171 1846v24M2517 1846v23M2895 1845v25M2943 1845v25M2269 1843v25M3128 1845v27M2217 1843v26"/><path stroke="#2424ff" stroke-opacity="0.30" stroke-width="5" fill="none" d="M2124 1843v28M3311 1847v21M2382 1845v26M3572 1847v25M2215 1844v25M2111 1846v25M2494 1846v23M3282 1843v25M3128 1846v26"/><path stroke="#2424ff" stroke-opacity="0.30" stroke-width="3" fill="none" d="M3583 1845v27M3034 1846v26M3339 1844v27M3490 1844v26M2617 1845v26"/><path stroke="#2424ff" stroke-opacity="0.50" stroke-width="4" fill="none" d="M2767 1846v23M2921 1847v23M3581 1843v25M3197 1847v25M2591 1844v24M2966 1845v26M2431 1846v25M2886 1845v24M2471 1844v24M3121 1845v24M3065 1844v27"/><path stroke="#2424ff" stroke-opacity="0.80" stroke-width="3" fill="none" d="M2814 1846v23M2452 1845v23M2838 1846v24M2889 1846v24M2391 1847v22"/><path stroke="#2424ff" stroke-opacity="0.80" stroke-width="4" fill="none" d="M2704 1846v24M2850 1846v26M3375 1845v24M2200 1844v25M2610 1847v23M2994 1847v24M3151 1843v28M3590 1843v25M2108 1847v21M2092 1845v23"/><path stroke="#2424ff" stroke-opacity="0.80" stroke-width="8" fill="none" d="M2795 1846v22M2896 1845v26M3485 1845v26M2913 1846v25M3022 1845v23M2552 1846v26"/><path stroke="#2424ff" stroke-opacity="0.50" stroke-width="3" fill="none" d="M3449 1846v22M2758 1844v28M2425 1846v22M2406 1844v26M2481 1844v26"/>
<path stroke="#5a18ff" stroke-opacity="0.35" stroke-width="6" fill="none" d="M3089 1846v23M3400 1846v20M3320 1847v23M3467 1848v21"/><path stroke="#5a18ff" stroke-opacity="0.55" stroke-width="4" fill="none" d="M2575 1848v20M3418 1848v21M3131 1849v21"/><path stroke="#5a18ff" stroke-opacity="0.35" stroke-width="4" fill="none" d="M2404 1848v19M2608 1845v23M2216 1848v21M2703 1849v21M2747 1849v20M2402 1847v20M2780 1847v22M3478 1847v22"/><path stroke="#5a18ff" stroke-opacity="0.80" stroke-width="3" fill="none" d="M2416 1849v21M3548 1848v18M2351 1849v20M3051 1845v22"/><path stroke="#5a18ff" stroke-opacity="0.80" stroke-width="4" fill="none" d="M2659 1846v23M2482 1848v21M3330 1846v22M3150 1846v22M2497 1849v17"/><path stroke="#5a18ff" stroke-opacity="0.55" stroke-width="5" fill="none" d="M2456 1847v23M2943 1848v20M3496 1845v24M3339 1848v18M2681 1847v23"/><path stroke="#5a18ff" stroke-opacity="0.35" stroke-width="5" fill="none" d="M2861 1848v20M3385 1848v21M2675 1846v20M2588 1846v21M2498 1847v22M3283 1846v22"/><path stroke="#5a18ff" stroke-opacity="0.55" stroke-width="6" fill="none" d="M2612 1847v22"/><path stroke="#5a18ff" stroke-opacity="0.80" stroke-width="5" fill="none" d="M2887 1845v22M3092 1848v19M2474 1848v21M3524 1848v18M2181 1849v20"/><path stroke="#5a18ff" stroke-opacity="0.35" stroke-width="3" fill="none" d="M2094 1845v23M3135 1846v20"/><path stroke="#5a18ff" stroke-opacity="0.80" stroke-width="6" fill="none" d="M3462 1849v20"/><path stroke="#5a18ff" stroke-opacity="0.55" stroke-width="3" fill="none" d="M2535 1849v18"/>
<path stroke="#b030e0" stroke-opacity="0.70" stroke-width="3" fill="none" d="M3315 1848v18M2718 1850v17"/><path stroke="#b030e0" stroke-opacity="0.70" stroke-width="2" fill="none" d="M2467 1850v18M3406 1849v18M3202 1849v18"/><path stroke="#b030e0" stroke-opacity="0.70" stroke-width="4" fill="none" d="M3249 1848v20"/>
<path stroke="#000" stroke-opacity="0.50" stroke-width="4" fill="none" d="M2532 1843v29M2343 1843v28M2811 1842v31M3289 1843v31M2218 1843v30M2510 1846v28M3180 1844v27M2751 1845v29M2129 1845v28M2423 1842v29M3116 1846v26"/><path stroke="#000" stroke-opacity="0.70" stroke-width="4" fill="none" d="M3115 1844v29M2679 1844v29M2323 1844v28M2192 1844v29M2566 1842v30M2909 1842v28M3462 1842v30M2122 1843v29"/><path stroke="#000" stroke-opacity="0.30" stroke-width="5" fill="none" d="M2642 1843v29M2439 1846v27M2599 1842v29M2378 1842v29M2975 1842v31M2305 1845v29M2172 1843v29M3007 1845v28M2902 1845v26M2806 1846v26M3310 1844v29M3309 1844v29M2482 1844v30M3416 1845v29"/><path stroke="#000" stroke-opacity="0.70" stroke-width="6" fill="none" d="M2939 1844v27M3560 1844v29M2864 1845v28M2131 1844v27M2501 1843v30M2492 1845v27"/><path stroke="#000" stroke-opacity="0.50" stroke-width="6" fill="none" d="M2313 1843v29M3469 1844v29M2643 1845v27M2834 1845v25M2610 1844v29"/><path stroke="#000" stroke-opacity="0.30" stroke-width="6" fill="none" d="M2695 1843v31M3553 1846v26M3402 1842v29M2856 1842v31M3551 1844v29"/><path stroke="#000" stroke-opacity="0.70" stroke-width="5" fill="none" d="M3193 1843v30M2198 1843v28M3345 1844v28M3506 1845v28M3014 1845v27M2091 1844v29M2389 1845v26"/><path stroke="#000" stroke-opacity="0.50" stroke-width="5" fill="none" d="M3037 1843v31M3232 1843v30M3448 1844v28M2682 1842v30M2979 1844v29M2200 1843v29"/><path stroke="#000" stroke-opacity="0.70" stroke-width="3" fill="none" d="M2769 1844v27M3096 1846v28"/><path stroke="#000" stroke-opacity="0.30" stroke-width="3" fill="none" d="M2597 1845v26M3225 1846v28M2497 1844v29M3432 1843v31"/><path stroke="#000" stroke-opacity="0.30" stroke-width="4" fill="none" d="M3447 1846v27M3021 1845v28"/>
<rect x="3126" y="1849" width="4" height="18" fill="#c038d8" fill-opacity="0.80"/>
<rect x="3226" y="1849" width="4" height="18" fill="#c038d8" fill-opacity="0.80"/>
<rect x="3296" y="1849" width="4" height="18" fill="#c038d8" fill-opacity="0.80"/>
<rect x="3327" y="1849" width="4" height="18" fill="#c038d8" fill-opacity="0.80"/>
<rect x="3394" y="1849" width="4" height="18" fill="#c038d8" fill-opacity="0.80"/>
<rect x="3414" y="1849" width="4" height="18" fill="#c038d8" fill-opacity="0.80"/>
<rect x="3453" y="1849" width="4" height="18" fill="#c038d8" fill-opacity="0.80"/>
<rect x="3469" y="1849" width="4" height="18" fill="#c038d8" fill-opacity="0.80"/>
<rect x="3526" y="1849" width="4" height="18" fill="#c038d8" fill-opacity="0.80"/>
<rect x="2736" y="1844" width="20" height="26" fill="#6a1cff" fill-opacity="0.80"/>
<rect x="2740" y="1847" width="12" height="20" fill="#ff4a8c" fill-opacity="0.95"/>
<rect x="242" y="1883" width="618" height="27" fill="#00f" fill-opacity="0.20"/>
<rect x="284" y="1886" width="68" height="23" fill="#1a1aff" fill-opacity="0.22"/>
<rect x="372" y="1886" width="28" height="23" fill="#1a1aff" fill-opacity="0.30"/>
<rect x="480" y="1886" width="20" height="23" fill="#1a1aff" fill-opacity="0.30"/>
<rect x="652" y="1886" width="32" height="23" fill="#1a1aff" fill-opacity="0.32"/>
<rect x="710" y="1886" width="22" height="23" fill="#1a1aff" fill-opacity="0.25"/>
<rect x="772" y="1886" width="32" height="23" fill="#1a1aff" fill-opacity="0.35"/>
<rect x="1194" y="1886" width="126" height="23" fill="#1a1aff" fill-opacity="0.22"/>
<rect x="1248" y="1886" width="30" height="23" fill="#1a1aff" fill-opacity="0.35"/>
<rect x="1350" y="1886" width="162" height="23" fill="#1a1aff" fill-opacity="0.30"/>
<rect x="1400" y="1886" width="70" height="23" fill="#1a1aff" fill-opacity="0.20"/>
<path stroke="#2a2aff" stroke-opacity="0.70" stroke-width="3" fill="none" d="M945 1883v30M1133 1886v23M1015 1886v24M1031 1881v28M284 1885v25M1341 1882v27M1330 1882v30M601 1881v31M1165 1887v23M1108 1881v30M1029 1885v24M1192 1882v26M1370 1886v22M1397 1882v26M356 1885v24M1005 1884v25M792 1881v26M606 1887v26M647 1886v22"/><path stroke="#2a2aff" stroke-opacity="0.70" stroke-width="2" fill="none" d="M516 1887v25M1175 1883v29M287 1884v23M853 1884v24M439 1886v23M769 1885v26M982 1885v24M1093 1886v22M262 1885v22M887 1881v28M1178 1885v27M1217 1883v29"/><path stroke="#2a2aff" stroke-opacity="0.45" stroke-width="5" fill="none" d="M486 1882v26M278 1882v26M1286 1882v31M1119 1882v28M352 1881v30M508 1884v26M436 1883v29M260 1885v25M987 1882v29M739 1882v28M1222 1882v31"/><path stroke="#2a2aff" stroke-opacity="0.25" stroke-width="4" fill="none" d="M537 1884v24M629 1887v21M809 1884v24M1186 1886v26M894 1885v26M581 1885v23M1071 1884v27M726 1886v22M446 1885v24M1138 1886v22M970 1886v27M397 1885v23M975 1886v21M1331 1884v27M282 1885v26M1300 1884v28M340 1884v27M1149 1884v26M453 1884v28M846 1884v27"/><path stroke="#2a2aff" stroke-opacity="0.70" stroke-width="4" fill="none" d="M514 1884v28M781 1883v29M1129 1881v29M945 1884v29M745 1885v26M496 1884v26M948 1885v26M924 1881v26M382 1884v24M321 1883v29M583 1886v23M1104 1881v30M1014 1883v29M1316 1881v29M427 1882v28M856 1883v29M410 1884v26M834 1885v25"/><path stroke="#2a2aff" stroke-opacity="0.25" stroke-width="3" fill="none" d="M831 1882v25M782 1887v25M1162 1881v32M521 1887v24M1041 1887v21M905 1886v21M1052 1883v30M407 1883v28M1327 1884v26M867 1881v30M545 1882v26M1038 1882v28M922 1885v24M589 1885v25M471 1886v26M526 1886v25M948 1883v26M1306 1886v23M1283 1885v24M712 1883v26"/><path stroke="#2a2aff" stroke-opacity="0.25" stroke-width="5" fill="none" d="M1346 1885v23M842 1885v28M496 1887v26M502 1886v27M434 1885v27M268 1885v23"/><path stroke="#2a2aff" stroke-opacity="0.25" stroke-width="2" fill="none" d="M561 1883v30M845 1884v26M455 1884v28M715 1884v27M285 1885v27M544 1881v29M631 1882v27M353 1885v26M702 1885v27M1370 1885v23"/><path stroke="#2a2aff" stroke-opacity="0.70" stroke-width="5" fill="none" d="M720 1885v23M1212 1883v30M1317 1887v24M262 1886v25M1311 1881v28M387 1882v29M907 1885v26"/><path stroke="#2a2aff" stroke-opacity="0.45" stroke-width="3" fill="none" d="M1292 1881v32M845 1881v32M401 1887v24M809 1883v24M1215 1883v26M631 1883v25M786 1884v28M895 1882v29M1323 1882v30M1331 1883v26M1126 1882v30M668 1881v30M525 1884v24M1332 1887v23M250 1886v25M955 1884v26"/><path stroke="#2a2aff" stroke-opacity="0.45" stroke-width="4" fill="none" d="M293 1885v27M707 1882v26M404 1886v23M725 1884v25M1375 1882v29M1206 1881v31M1348 1882v26M1290 1883v26M1223 1883v27M1170 1881v28M1010 1883v26M1343 1886v25M621 1886v26M1192 1882v28M829 1881v29M781 1885v25M1144 1885v24M638 1882v27M574 1883v27M1387 1882v28M514 1886v26"/><path stroke="#2a2aff" stroke-opacity="0.45" stroke-width="2" fill="none" d="M622 1886v24M946 1881v30M1208 1885v24M1210 1881v31M788 1881v29M1370 1883v25M920 1886v27M877 1881v28M250 1883v25M281 1885v22"/>
<rect x="385" y="1880" width="3" height="30" fill="#c030e0" fill-opacity="0.85"/>
<rect x="470" y="1880" width="3" height="30" fill="#a028f0" fill-opacity="0.85"/>
<rect x="491" y="1880" width="3" height="30" fill="#e040b0" fill-opacity="0.85"/>
<rect x="531" y="1880" width="3" height="30" fill="#8a20ff" fill-opacity="0.85"/>
<rect x="1683" y="1880" width="3" height="30" fill="#b030e0" fill-opacity="0.85"/>
<rect x="1520" y="1886" width="2072" height="17" fill="#000" fill-opacity="0.30"/>
<path stroke="#000" stroke-opacity="0.45" stroke-width="8" fill="none" d="M2751 1884v25M2884 1879v30M2718 1884v29M1435 1881v33M1561 1879v28M2682 1885v26M862 1880v28M3015 1880v27M1771 1879v30M1680 1880v29M1387 1880v32"/><path stroke="#000" stroke-opacity="0.15" stroke-width="4" fill="none" d="M1272 1882v31M941 1878v31M1137 1885v28M2944 1886v21M1468 1886v23M2986 1879v33"/><path stroke="#000" stroke-opacity="0.30" stroke-width="5" fill="none" d="M2161 1885v25M2994 1883v30M3511 1879v32M1607 1885v23M2132 1884v23M1345 1882v27M3294 1880v28M2673 1881v30M2537 1881v30M2395 1883v29"/><path stroke="#000" stroke-opacity="0.45" stroke-width="7" fill="none" d="M3199 1881v31M2557 1883v30M2231 1883v27M862 1879v35M2185 1879v31"/><path stroke="#000" stroke-opacity="0.15" stroke-width="5" fill="none" d="M2052 1879v27M2838 1878v29M2537 1885v23M2358 1882v27M1035 1880v32M1866 1884v24M2084 1885v21M1112 1886v22M3120 1885v27M1378 1880v30"/><path stroke="#000" stroke-opacity="0.45" stroke-width="10" fill="none" d="M3154 1883v31M1211 1883v24M1886 1884v23M1558 1883v31M2443 1880v32M3029 1881v28"/><path stroke="#000" stroke-opacity="0.15" stroke-width="7" fill="none" d="M1191 1884v25M899 1882v27M3106 1883v23M1128 1884v26M3077 1878v35M3420 1878v32M3508 1881v29M3570 1881v29M2134 1884v25M2639 1886v23M940 1881v26M1616 1882v25M1139 1881v27M2365 1883v26"/><path stroke="#000" stroke-opacity="0.30" stroke-width="7" fill="none" d="M3344 1884v29M2942 1885v25M2453 1882v28M2314 1884v28M3581 1878v28M2512 1885v25M2518 1879v28M3028 1883v29M2637 1882v30M3124 1883v24M1040 1885v27"/><path stroke="#000" stroke-opacity="0.30" stroke-width="8" fill="none" d="M1758 1882v31M2104 1884v25M961 1878v35M2347 1886v22M3297 1885v21M1180 1879v28M2100 1879v34M3576 1881v26"/><path stroke="#000" stroke-opacity="0.30" stroke-width="10" fill="none" d="M2597 1882v32M2802 1885v23M2974 1883v26M1828 1883v28M2444 1884v22M3208 1879v31M1656 1882v27M2600 1880v28M3259 1881v31M1344 1881v28M3590 1882v27"/><path stroke="#000" stroke-opacity="0.45" stroke-width="6" fill="none" d="M2719 1878v28M1299 1882v26M1127 1878v32M1369 1884v28M2202 1882v29M1079 1883v24M2004 1880v30M3263 1879v34M1140 1882v29"/><path stroke="#000" stroke-opacity="0.15" stroke-width="10" fill="none" d="M2554 1880v33M1559 1881v32M2397 1879v33M1889 1885v27M2397 1881v28M3047 1883v25M1999 1881v28M1355 1882v32"/><path stroke="#000" stroke-opacity="0.30" stroke-width="9" fill="none" d="M2817 1883v26M1112 1885v25M1971 1879v28M1194 1884v28M912 1883v30M3485 1883v28"/><path stroke="#000" stroke-opacity="0.45" stroke-width="9" fill="none" d="M3574 1881v29M2330 1883v28M2250 1885v25M3110 1879v33M1578 1884v27"/><path stroke="#000" stroke-opacity="0.30" stroke-width="6" fill="none" d="M3101 1885v28M1254 1879v31M3034 1886v23M3082 1881v27M1739 1884v26M1544 1881v32M1072 1885v25M1185 1879v28M2834 1884v27"/><path stroke="#000" stroke-opacity="0.15" stroke-width="9" fill="none" d="M2536 1885v27M2413 1879v34M3220 1879v29M2512 1878v35M1779 1881v26M2020 1885v25M3243 1880v29M1181 1882v30M1097 1884v25M1704 1885v25M2919 1885v27M1263 1884v27M2584 1881v31M1093 1880v30"/><path stroke="#000" stroke-opacity="0.45" stroke-width="5" fill="none" d="M3124 1883v28M3359 1882v28M2794 1880v27M1696 1879v32M1810 1882v29"/><path stroke="#000" stroke-opacity="0.15" stroke-width="6" fill="none" d="M1127 1882v26M1764 1880v30M1146 1885v24M2351 1881v33M2613 1878v32M1411 1886v23M1901 1882v28"/><path stroke="#000" stroke-opacity="0.30" stroke-width="11" fill="none" d="M2371 1883v25M1580 1879v29M1522 1884v23M1112 1885v22"/><path stroke="#000" stroke-opacity="0.30" stroke-width="4" fill="none" d="M1710 1883v24M2853 1880v27"/><path stroke="#000" stroke-opacity="0.45" stroke-width="11" fill="none" d="M1551 1885v26M1429 1880v30M1679 1879v28M2697 1882v29M3080 1885v23M3098 1884v23M3516 1881v27"/><path stroke="#000" stroke-opacity="0.45" stroke-width="4" fill="none" d="M1931 1882v29M1680 1879v32M3118 1878v29M2760 1881v33"/><path stroke="#000" stroke-opacity="0.15" stroke-width="8" fill="none" d="M1136 1882v31M3283 1882v30M2193 1880v33M955 1880v28M2618 1880v31M1671 1882v31"/><path stroke="#000" stroke-opacity="0.15" stroke-width="11" fill="none" d="M2990 1881v28M918 1883v26"/>
<path stroke="#1c1cff" stroke-opacity="0.15" stroke-width="5" fill="none" d="M2435 1883v29M2198 1881v30M1517 1879v31M1629 1883v27M3450 1881v31M1463 1880v33"/><path stroke="#1c1cff" stroke-opacity="0.15" stroke-width="9" fill="none" d="M2957 1881v25M2308 1879v35M1800 1879v33M2101 1884v28M1600 1880v30M2946 1879v33M3456 1878v31M3130 1886v24M2885 1884v26M2197 1882v25"/><path stroke="#1c1cff" stroke-opacity="0.15" stroke-width="7" fill="none" d="M2843 1881v31M3065 1885v27M2513 1883v25M1966 1883v27M3222 1886v27"/><path stroke="#1c1cff" stroke-opacity="0.45" stroke-width="8" fill="none" d="M2075 1883v29M1454 1881v26M2610 1885v22M2561 1879v34M1929 1881v29M3263 1884v25M3512 1880v32M1880 1885v24M2986 1883v26M1528 1881v31M2869 1885v22M2544 1879v28"/><path stroke="#1c1cff" stroke-opacity="0.45" stroke-width="9" fill="none" d="M2508 1886v27M1744 1879v33M1896 1884v28M1692 1883v25M3378 1879v34M2033 1880v29M2803 1884v22"/><path stroke="#1c1cff" stroke-opacity="0.15" stroke-width="4" fill="none" d="M2118 1884v29M2503 1881v29M2316 1885v26M1541 1886v24M2146 1885v26M3416 1880v30"/><path stroke="#1c1cff" stroke-opacity="0.15" stroke-width="8" fill="none" d="M2359 1879v31M2421 1886v27M3349 1885v23M1561 1881v31M1967 1886v23M1928 1880v30M2285 1884v26M1950 1882v31M2331 1879v31"/><path stroke="#1c1cff" stroke-opacity="0.45" stroke-width="7" fill="none" d="M2220 1884v24M3261 1884v28M2824 1879v29M3056 1883v24M2165 1885v22M1648 1884v27M1599 1882v32M3381 1885v28"/><path stroke="#1c1cff" stroke-opacity="0.30" stroke-width="9" fill="none" d="M2648 1885v28M3059 1880v26M1455 1882v28M1442 1885v24M2753 1879v34M1816 1880v31M1893 1881v31"/><path stroke="#1c1cff" stroke-opacity="0.30" stroke-width="5" fill="none" d="M2964 1878v31M3025 1881v29M1828 1882v26"/><path stroke="#1c1cff" stroke-opacity="0.45" stroke-width="4" fill="none" d="M3287 1881v26M1417 1880v31"/><path stroke="#1c1cff" stroke-opacity="0.45" stroke-width="6" fill="none" d="M2002 1883v25M1633 1885v22M2453 1885v27M2503 1879v34M1566 1881v28M3281 1878v35"/><path stroke="#1c1cff" stroke-opacity="0.30" stroke-width="7" fill="none" d="M1988 1881v25M3236 1880v33M2172 1885v28M2525 1878v35M3101 1882v28M1869 1884v24M1870 1885v23M1776 1881v28M3105 1885v26M2861 1879v28"/><path stroke="#1c1cff" stroke-opacity="0.30" stroke-width="8" fill="none" d="M2619 1884v28M2887 1883v29M3287 1880v29M2930 1882v28M3570 1879v34M2880 1885v23"/><path stroke="#1c1cff" stroke-opacity="0.15" stroke-width="6" fill="none" d="M2061 1883v26M2002 1881v30M2243 1886v25M1818 1881v30"/><path stroke="#1c1cff" stroke-opacity="0.30" stroke-width="6" fill="none" d="M2070 1880v29M1446 1880v30M1642 1879v30M2896 1880v31"/><path stroke="#1c1cff" stroke-opacity="0.15" stroke-width="10" fill="none" d="M3300 1885v27M3552 1882v30M3325 1883v26"/><path stroke="#1c1cff" stroke-opacity="0.45" stroke-width="5" fill="none" d="M2165 1884v29M3114 1886v23M1790 1882v24M2036 1882v30"/><path stroke="#1c1cff" stroke-opacity="0.30" stroke-width="4" fill="none" d="M2156 1883v26M3037 1886v25M2601 1885v23M2470 1883v23M1418 1882v30"/><path stroke="#1c1cff" stroke-opacity="0.45" stroke-width="10" fill="none" d="M2288 1882v28"/><path stroke="#1c1cff" stroke-opacity="0.30" stroke-width="10" fill="none" d="M2785 1884v30M2274 1878v34"/>
<rect x="242" y="1914" width="3349" height="36" fill="#000" fill-opacity="0.22"/>
<rect x="2080" y="1906" width="1512" height="28" fill="#1818ff" fill-opacity="0.16"/>
<rect x="3022" y="1908" width="68" height="24" fill="#2020ff" fill-opacity="0.45"/>
<rect x="3096" y="1908" width="64" height="24" fill="#2020ff" fill-opacity="0.55"/>
<rect x="3230" y="1908" width="22" height="24" fill="#2020ff" fill-opacity="0.40"/>
<rect x="3180" y="1908" width="28" height="24" fill="#2020ff" fill-opacity="0.30"/>
<rect x="2000" y="1908" width="80" height="24" fill="#2020ff" fill-opacity="0.30"/>
<rect x="2900" y="1908" width="80" height="24" fill="#2020ff" fill-opacity="0.30"/>
<rect x="3460" y="1908" width="132" height="24" fill="#2020ff" fill-opacity="0.30"/>
<rect x="1380" y="1908" width="140" height="24" fill="#2020ff" fill-opacity="0.25"/>
<rect x="1640" y="1908" width="80" height="24" fill="#2020ff" fill-opacity="0.25"/>
<rect x="3124" y="1910" width="22" height="22" fill="#5a18ff" fill-opacity="0.50"/>
<path stroke="#000" stroke-opacity="0.55" stroke-width="4" fill="none" d="M1581 1916v38M2394 1910v36M2566 1918v32"/><path stroke="#000" stroke-opacity="0.35" stroke-width="8" fill="none" d="M497 1914v33M2613 1916v33M1566 1918v37M3357 1917v34M2325 1911v37M612 1913v41M3148 1909v45M1532 1910v40M3119 1919v34M3411 1912v35M2939 1919v31M2313 1911v39M3498 1915v35M2505 1913v33M1104 1918v31M2311 1917v34"/><path stroke="#000" stroke-opacity="0.55" stroke-width="5" fill="none" d="M3036 1918v36M470 1913v39M506 1914v33M2200 1918v28M3097 1918v27M2758 1917v36M3168 1917v30M1008 1919v34M2014 1916v37M3461 1919v26M1256 1912v39M262 1916v37M1902 1911v36M2368 1918v36M823 1910v37M2730 1913v35M2510 1911v42M1256 1915v34"/><path stroke="#000" stroke-opacity="0.55" stroke-width="11" fill="none" d="M693 1915v34M2996 1913v34M3293 1909v41"/><path stroke="#000" stroke-opacity="0.20" stroke-width="9" fill="none" d="M2369 1917v30M2072 1910v37M2862 1917v28M1525 1916v38M3338 1912v37M1618 1916v30M3271 1910v40M2972 1913v34M290 1915v35M671 1912v39M3323 1915v38M2538 1917v37"/><path stroke="#000" stroke-opacity="0.35" stroke-width="10" fill="none" d="M3113 1919v34M2495 1912v34M2004 1912v35M1624 1913v37M1598 1909v44M749 1912v43M2252 1912v42M2847 1909v41M764 1919v33M1014 1914v35"/><path stroke="#000" stroke-opacity="0.55" stroke-width="7" fill="none" d="M1379 1915v31M1956 1913v41M850 1915v36M2324 1911v43M779 1915v38M3230 1911v34M777 1915v33M3026 1913v35M288 1911v42M2474 1917v33M3120 1919v32M2011 1911v37M1562 1919v30M2329 1914v34M3550 1919v35M2993 1917v38M1020 1912v35M2393 1911v43M1197 1914v36"/><path stroke="#000" stroke-opacity="0.55" stroke-width="6" fill="none" d="M1345 1913v38M1047 1912v39M610 1916v36M1312 1910v42M1587 1917v35M1529 1914v37M1662 1911v37M1226 1912v37M1310 1914v31M451 1917v29M510 1911v40M1782 1918v37M2047 1918v29M1734 1918v34M2480 1917v35M1354 1911v37M576 1911v41M1772 1909v42M1154 1913v39"/><path stroke="#000" stroke-opacity="0.20" stroke-width="5" fill="none" d="M1323 1913v42M962 1912v39M672 1918v29M3090 1913v40M400 1910v43M3426 1911v36M3056 1913v36M971 1911v39M1030 1915v34M2646 1916v37M2833 1918v30M3468 1910v40M2257 1910v45M1377 1915v39M3280 1914v34"/><path stroke="#000" stroke-opacity="0.55" stroke-width="9" fill="none" d="M784 1915v35M670 1918v27M2386 1917v34M895 1915v37M2173 1910v36M1000 1909v41M1641 1911v37M1057 1919v31M1748 1911v39M3003 1917v31M1977 1911v41M2150 1916v34M743 1918v32M1371 1917v30M1047 1915v37M1446 1916v34"/><path stroke="#000" stroke-opacity="0.35" stroke-width="5" fill="none" d="M1645 1910v36M2723 1913v34M952 1918v28M1973 1913v39M3192 1910v43M2436 1918v27M3256 1913v40M688 1915v30M2038 1918v33M1463 1909v37M2897 1913v35M1731 1911v37M1559 1913v37M2304 1918v32"/><path stroke="#000" stroke-opacity="0.20" stroke-width="8" fill="none" d="M1758 1911v40M605 1913v33M3031 1918v34M3162 1915v33M2443 1913v41M1423 1918v33M3355 1919v30M3588 1917v30M339 1913v40M1697 1909v40M488 1918v36M1540 1916v37M704 1911v36M3520 1914v37M2379 1914v32M3132 1911v36M3185 1912v37M1445 1913v42M1940 1915v35M1327 1910v45M1046 1915v33M2628 1912v39"/><path stroke="#000" stroke-opacity="0.55" stroke-width="10" fill="none" d="M2047 1918v32M3495 1912v37M1641 1915v34M3289 1913v38M1763 1916v38M1624 1912v40M2697 1918v30M2482 1913v35M3431 1916v32M709 1917v30"/><path stroke="#000" stroke-opacity="0.35" stroke-width="6" fill="none" d="M1006 1912v35M1857 1917v29M2598 1910v42M2370 1916v29M752 1918v30M1410 1917v32M2633 1912v37M2728 1912v41M2559 1911v44M305 1917v38M321 1910v42M2527 1915v30M2977 1917v33M803 1918v31M1917 1914v41"/><path stroke="#000" stroke-opacity="0.20" stroke-width="7" fill="none" d="M985 1914v38M3249 1912v41M1546 1910v39M2427 1911v40M1931 1911v35M1369 1911v43M669 1915v35M3326 1915v38M1497 1918v33M469 1915v40M3357 1919v33M3092 1912v35"/><path stroke="#000" stroke-opacity="0.55" stroke-width="8" fill="none" d="M2312 1912v33M3579 1914v36M878 1913v34M2615 1911v39M3168 1916v35M560 1913v33M1640 1919v30M3486 1917v29M3483 1911v36M1359 1916v36M1361 1919v31M1501 1916v35M2013 1919v34M857 1915v35M2094 1916v31M1875 1912v43M590 1916v30"/><path stroke="#000" stroke-opacity="0.35" stroke-width="7" fill="none" d="M3170 1913v33M2037 1918v35M2211 1917v37M1440 1910v39M2380 1916v30M2547 1910v36M408 1914v40M2899 1913v39M3417 1917v32M2590 1916v30M2787 1914v40M2296 1918v29M2614 1916v38M1748 1912v37"/><path stroke="#000" stroke-opacity="0.35" stroke-width="4" fill="none" d="M1349 1915v38M2237 1911v43M432 1915v34M460 1913v40M2982 1913v33M340 1911v39M1612 1918v35"/><path stroke="#000" stroke-opacity="0.35" stroke-width="11" fill="none" d="M897 1910v39M3238 1912v35M3076 1918v31M871 1915v33M908 1916v32M2707 1914v38M3449 1917v29M3021 1909v46M3052 1917v37M2995 1910v38M2142 1915v33M2129 1917v29M423 1914v38M243 1919v30M856 1915v39"/><path stroke="#000" stroke-opacity="0.35" stroke-width="9" fill="none" d="M3245 1914v34M1467 1910v43M3516 1914v38M666 1911v35M2106 1916v29M2778 1918v29M822 1912v37M1223 1910v42M3117 1917v31"/><path stroke="#000" stroke-opacity="0.20" stroke-width="10" fill="none" d="M2033 1913v37M895 1917v30M1566 1909v36M2047 1912v37M2798 1917v32M2293 1910v38M820 1914v38M3109 1913v37M2559 1911v43M1630 1916v34M2984 1910v42M3026 1917v35"/><path stroke="#000" stroke-opacity="0.20" stroke-width="6" fill="none" d="M3389 1911v36M2467 1915v34M1990 1917v31M2994 1910v41M1304 1919v34M3345 1910v36M1226 1910v44M897 1910v44M2930 1915v37M1865 1916v30M497 1919v30M2450 1912v40"/><path stroke="#000" stroke-opacity="0.20" stroke-width="11" fill="none" d="M2922 1912v34M3008 1911v42M2645 1909v37M2554 1915v32M2852 1916v31"/><path stroke="#000" stroke-opacity="0.20" stroke-width="4" fill="none" d="M1605 1914v34M1786 1911v39M244 1911v37M1696 1913v36M1232 1909v40"/>
<path stroke="#1c1cff" stroke-opacity="0.35" stroke-width="8" fill="none" d="M1771 1917v27M700 1917v31M3455 1913v34M2797 1918v32M3553 1915v38M1783 1921v24M1572 1911v38M1899 1917v34M1256 1921v31M1187 1918v26M1135 1921v23"/><path stroke="#1c1cff" stroke-opacity="0.20" stroke-width="9" fill="none" d="M1327 1911v44M1044 1910v35M3026 1912v37M299 1921v28M3098 1913v40M2775 1911v42M2773 1917v29M511 1912v32M3093 1911v40M2189 1920v29"/><path stroke="#1c1cff" stroke-opacity="0.50" stroke-width="10" fill="none" d="M1351 1919v25M2289 1921v33M1495 1913v42M2241 1915v40M388 1914v32M2148 1912v35M1181 1920v27M2751 1920v34M1234 1916v29M1205 1917v33M3425 1915v41M897 1917v29"/><path stroke="#1c1cff" stroke-opacity="0.35" stroke-width="9" fill="none" d="M3290 1918v28M2824 1919v29M2305 1920v30M529 1921v23M2886 1920v24M1153 1920v33M2214 1918v34M2304 1913v33M2581 1917v28M853 1917v27M2393 1913v33M3224 1918v28M3223 1916v37M709 1921v31"/><path stroke="#1c1cff" stroke-opacity="0.50" stroke-width="4" fill="none" d="M1380 1915v35M726 1916v38M1395 1918v27M1533 1917v36M1818 1911v38M2036 1914v33M3222 1915v37M3470 1921v27"/><path stroke="#1c1cff" stroke-opacity="0.35" stroke-width="5" fill="none" d="M3049 1912v38M246 1916v38M2235 1916v29M1028 1911v38M1227 1913v36M2964 1915v40M603 1919v36M3506 1916v36M2213 1920v25M1066 1920v32"/><path stroke="#1c1cff" stroke-opacity="0.50" stroke-width="7" fill="none" d="M2671 1922v24M3451 1912v37M1761 1922v33M1206 1916v36M909 1920v32M2410 1920v34M2210 1914v31M1354 1911v35M1033 1922v26M2645 1919v25M661 1921v25"/><path stroke="#1c1cff" stroke-opacity="0.20" stroke-width="8" fill="none" d="M627 1915v37M2134 1912v39M3552 1920v26M636 1920v32M2881 1913v38M2875 1911v35M1096 1914v40M3016 1919v29M2146 1914v41"/><path stroke="#1c1cff" stroke-opacity="0.20" stroke-width="6" fill="none" d="M3185 1916v35M3478 1916v36M1153 1912v38M3228 1916v29M1235 1914v39M1053 1911v37M1058 1916v32M1996 1921v26M530 1919v28M1613 1917v36M1920 1922v23"/><path stroke="#1c1cff" stroke-opacity="0.50" stroke-width="9" fill="none" d="M2258 1920v26M933 1915v31M522 1913v37M955 1922v25"/><path stroke="#1c1cff" stroke-opacity="0.20" stroke-width="4" fill="none" d="M1320 1917v33M3219 1917v38M413 1921v32M3153 1910v35M290 1911v34"/><path stroke="#1c1cff" stroke-opacity="0.50" stroke-width="8" fill="none" d="M2519 1920v25M494 1921v34M2721 1912v36M339 1921v25M1817 1912v42M2932 1916v40M1108 1920v26M1762 1913v38M2688 1912v40M1536 1916v34"/><path stroke="#1c1cff" stroke-opacity="0.50" stroke-width="5" fill="none" d="M2021 1912v35M2639 1918v33M2581 1918v31M1926 1916v36M3200 1914v42M2739 1917v37M857 1911v39M526 1919v35M2993 1921v33M1110 1912v37M1413 1915v29M2266 1922v34M2731 1921v34"/><path stroke="#1c1cff" stroke-opacity="0.20" stroke-width="7" fill="none" d="M2942 1915v30M2410 1910v44M3323 1921v26M2532 1915v35M2129 1914v41M1204 1922v25M2081 1910v45M1754 1913v35M2975 1913v39M1132 1916v35M2407 1913v40M475 1912v39M2780 1917v38M1848 1914v39M3435 1922v32M3550 1913v38"/><path stroke="#1c1cff" stroke-opacity="0.35" stroke-width="10" fill="none" d="M1681 1917v31M2904 1915v32M2268 1918v34M3230 1918v30M1095 1911v39M3339 1913v40M3221 1914v36M2091 1911v33M887 1916v34M1106 1917v27M2544 1915v32M3010 1915v34M510 1918v36"/><path stroke="#1c1cff" stroke-opacity="0.35" stroke-width="6" fill="none" d="M1779 1920v35M1777 1912v33M2565 1916v37M1496 1916v34M1962 1917v30M1581 1915v30M1778 1919v34M2905 1910v34M3287 1920v25M1938 1916v32"/><path stroke="#1c1cff" stroke-opacity="0.35" stroke-width="7" fill="none" d="M2703 1912v35M2556 1921v34M1949 1915v36M3451 1913v36M3088 1920v36M2758 1915v32M1386 1917v37M1420 1915v33M668 1921v28"/><path stroke="#1c1cff" stroke-opacity="0.20" stroke-width="10" fill="none" d="M2499 1911v35M1064 1919v28M2548 1914v40M2450 1915v33M1196 1911v43M3131 1915v32M2571 1913v38M3163 1922v30M1611 1911v41"/><path stroke="#1c1cff" stroke-opacity="0.50" stroke-width="6" fill="none" d="M1723 1914v39M2725 1915v39M1178 1912v37M1515 1916v32M2955 1920v32M485 1911v35M977 1917v28M1410 1916v32M2432 1917v29"/><path stroke="#1c1cff" stroke-opacity="0.50" stroke-width="11" fill="none" d="M1965 1915v38M912 1913v36M1402 1915v41M1871 1913v33M3213 1911v40M1341 1921v29"/><path stroke="#1c1cff" stroke-opacity="0.20" stroke-width="11" fill="none" d="M1796 1918v32M358 1912v37M3208 1920v30M934 1913v35M3082 1918v31M3190 1919v28M2227 1915v31M495 1912v39M2171 1918v36M957 1915v40M423 1920v31"/><path stroke="#1c1cff" stroke-opacity="0.20" stroke-width="5" fill="none" d="M3375 1910v41M1723 1910v44M658 1920v31M422 1915v36M3291 1912v40M1178 1919v36M600 1910v34M2768 1910v44M425 1920v36M3312 1912v43M1953 1911v45"/><path stroke="#1c1cff" stroke-opacity="0.35" stroke-width="11" fill="none" d="M2554 1917v34M2152 1911v41M2745 1916v32M1330 1914v40"/><path stroke="#1c1cff" stroke-opacity="0.35" stroke-width="4" fill="none" d="M3510 1916v32M2754 1916v36M3440 1912v35M3191 1912v37"/>
<path stroke="#2c2cff" stroke-opacity="0.50" stroke-width="4" fill="none" d="M2770 1930v22M886 1931v16M3317 1928v18M2552 1928v20M893 1929v17M642 1928v22M1700 1929v24M2220 1931v21M1802 1927v22"/><path stroke="#2c2cff" stroke-opacity="0.70" stroke-width="5" fill="none" d="M2889 1929v17M2157 1930v22M2460 1927v25M1133 1932v16M2748 1927v21M3242 1931v20M249 1932v17M2611 1929v20M268 1930v23M2439 1933v20M2954 1934v18M2558 1933v19M276 1931v22M2435 1934v16M3236 1927v27M991 1926v26M2766 1932v22"/><path stroke="#2c2cff" stroke-opacity="0.70" stroke-width="6" fill="none" d="M715 1928v23M2770 1928v24M565 1931v17M2217 1928v19M3298 1933v18M2713 1930v23M2380 1933v17M3409 1928v20M3141 1930v17M2334 1934v20M1854 1931v23M1585 1928v19M3496 1933v14M893 1927v20"/><path stroke="#2c2cff" stroke-opacity="0.70" stroke-width="7" fill="none" d="M1742 1933v17M1414 1932v21M2603 1927v20M799 1930v22"/><path stroke="#2c2cff" stroke-opacity="0.30" stroke-width="3" fill="none" d="M1155 1928v22M915 1931v19M1228 1927v19M3229 1929v23M2746 1932v21"/><path stroke="#2c2cff" stroke-opacity="0.30" stroke-width="7" fill="none" d="M1795 1929v21M1379 1931v16M1036 1927v23M3493 1931v19M809 1927v23M1589 1932v15M562 1928v20"/><path stroke="#2c2cff" stroke-opacity="0.50" stroke-width="6" fill="none" d="M2084 1928v18M2408 1931v20M2482 1932v17M3375 1927v26M754 1934v15M1938 1929v25M1136 1929v18M2334 1929v22"/><path stroke="#2c2cff" stroke-opacity="0.30" stroke-width="6" fill="none" d="M2349 1933v15M730 1927v23M2308 1931v16M3390 1928v18M3031 1930v22M987 1926v23M3372 1934v17M3426 1933v14M1228 1929v20"/><path stroke="#2c2cff" stroke-opacity="0.70" stroke-width="4" fill="none" d="M1950 1927v20M1080 1932v18M965 1929v19M1048 1933v17M1608 1928v22M987 1929v17"/><path stroke="#2c2cff" stroke-opacity="0.70" stroke-width="3" fill="none" d="M833 1929v20M1020 1929v24M476 1932v20M1402 1931v18M1055 1929v21M3411 1933v17M908 1928v19M3245 1932v17"/><path stroke="#2c2cff" stroke-opacity="0.30" stroke-width="4" fill="none" d="M2024 1930v19M2757 1932v20M3438 1932v21M1596 1927v26M542 1927v23M1952 1931v19"/><path stroke="#2c2cff" stroke-opacity="0.50" stroke-width="5" fill="none" d="M2261 1926v23M2130 1931v21M2312 1933v20M1814 1933v18M3074 1929v22M1301 1933v17M2331 1929v21M1956 1931v21M2279 1929v25M2399 1927v24"/><path stroke="#2c2cff" stroke-opacity="0.50" stroke-width="3" fill="none" d="M2886 1933v17M1775 1931v19"/><path stroke="#2c2cff" stroke-opacity="0.50" stroke-width="7" fill="none" d="M431 1927v26M2380 1931v22"/><path stroke="#2c2cff" stroke-opacity="0.30" stroke-width="5" fill="none" d="M1473 1932v15M563 1928v24M497 1932v17"/>
<path stroke="#a028f0" stroke-opacity="0.70" stroke-width="2" fill="none" d="M1318 1923v18"/><path stroke="#a028f0" stroke-opacity="0.70" stroke-width="3" fill="none" d="M1174 1920v21M1188 1920v27M3227 1919v23M1678 1922v18M3151 1922v26"/><path stroke="#a028f0" stroke-opacity="0.90" stroke-width="2" fill="none" d="M1930 1921v21M2412 1919v24M2649 1921v23M1557 1918v29"/><path stroke="#a028f0" stroke-opacity="0.50" stroke-width="3" fill="none" d="M258 1923v20"/><path stroke="#a028f0" stroke-opacity="0.90" stroke-width="3" fill="none" d="M797 1919v23M1178 1919v27"/><path stroke="#a028f0" stroke-opacity="0.50" stroke-width="2" fill="none" d="M1831 1921v24"/></g>
</g>
<rect x="121.2" y="897" width="1674.6" height="78.3" filter="url(#nz3)" fill="#000"/>
<g transform="scale(0.5)">
<g filter="url(#bl3)"><rect x="3106" y="1795" width="490" height="34" fill="#1010ff" fill-opacity="0.90"/>
<rect x="3373" y="1794" width="10" height="36" fill="#000087" fill-opacity="0.80"/>
<rect x="3129" y="1801" width="17" height="22" fill="#7a18ff" fill-opacity="0.95"/>
<rect x="3144" y="1801" width="61" height="22" fill="#d838d0" fill-opacity="0.95"/>
<rect x="3148" y="1806" width="53" height="14" fill="#ff6c94"/>
<rect x="3212" y="1801" width="35" height="22" fill="#b830e0" fill-opacity="0.95"/>
<rect x="3216" y="1806" width="27" height="14" fill="#f050b0"/>
<rect x="3253" y="1801" width="27" height="22" fill="#7a18ff" fill-opacity="0.95"/>
<rect x="3285" y="1801" width="22" height="22" fill="#8a20f8" fill-opacity="0.95"/>
<rect x="3289" y="1806" width="14" height="14" fill="#b838e0"/>
<rect x="3305" y="1801" width="48" height="22" fill="#9828f0" fill-opacity="0.95"/>
<rect x="3309" y="1806" width="40" height="14" fill="#cc40d4"/>
<rect x="3356" y="1801" width="18" height="22" fill="#4a14ff" fill-opacity="0.95"/>
<rect x="3396" y="1801" width="50" height="22" fill="#e040c8" fill-opacity="0.95"/>
<rect x="3400" y="1806" width="42" height="14" fill="#ff8a6c"/>
<rect x="3469" y="1801" width="20" height="22" fill="#c838d8" fill-opacity="0.95"/>
<rect x="3473" y="1806" width="12" height="14" fill="#ff68a0"/>
<rect x="3487" y="1801" width="9" height="22" fill="#7a18ff" fill-opacity="0.95"/>
<rect x="3494" y="1801" width="52" height="22" fill="#dc3ccc" fill-opacity="0.95"/>
<rect x="3498" y="1806" width="44" height="14" fill="#ff7488"/>
<rect x="3545" y="1801" width="9" height="22" fill="#7a18ff" fill-opacity="0.95"/>
<rect x="3552" y="1801" width="18" height="22" fill="#dc3ccc" fill-opacity="0.95"/>
<rect x="3556" y="1806" width="10" height="14" fill="#ff7e78"/>
<rect x="3569" y="1801" width="7" height="22" fill="#7a18ff" fill-opacity="0.95"/>
<rect x="3574" y="1801" width="19" height="22" fill="#b830e0" fill-opacity="0.95"/>
<rect x="3578" y="1806" width="11" height="14" fill="#f050b0"/>
<path stroke="#ffa060" stroke-opacity="0.30" stroke-width="3" fill="none" d="M3446 1806v12M3470 1806v12M3575 1806v13M3415 1805v15M3559 1806v13M3581 1807v11M3449 1805v13M3264 1806v12M3579 1807v13"/><path stroke="#ffa060" stroke-opacity="0.20" stroke-width="3" fill="none" d="M3277 1806v13M3359 1807v13M3184 1806v12M3454 1807v13M3174 1805v14"/><path stroke="#ffa060" stroke-opacity="0.20" stroke-width="2" fill="none" d="M3301 1805v13"/><path stroke="#ffa060" stroke-opacity="0.45" stroke-width="3" fill="none" d="M3525 1806v14M3574 1805v14M3393 1807v12M3267 1807v12"/><path stroke="#ffa060" stroke-opacity="0.30" stroke-width="4" fill="none" d="M3502 1806v14"/><path stroke="#ffa060" stroke-opacity="0.30" stroke-width="2" fill="none" d="M3500 1806v12M3474 1807v12M3366 1806v13M3263 1806v12"/><path stroke="#ffa060" stroke-opacity="0.45" stroke-width="2" fill="none" d="M3422 1806v14M3264 1806v14"/><path stroke="#ffa060" stroke-opacity="0.20" stroke-width="4" fill="none" d="M3437 1805v13M3175 1806v14M3152 1807v13"/><path stroke="#ffa060" stroke-opacity="0.45" stroke-width="4" fill="none" d="M3379 1806v13"/>
<path stroke="#5a14ff" stroke-opacity="0.15" stroke-width="3" fill="none" d="M3257 1803v21M3250 1802v21M3342 1803v21M3500 1803v21"/><path stroke="#5a14ff" stroke-opacity="0.40" stroke-width="4" fill="none" d="M3235 1803v21M3182 1801v22M3266 1801v23"/><path stroke="#5a14ff" stroke-opacity="0.25" stroke-width="3" fill="none" d="M3410 1803v20M3181 1802v20M3285 1801v23M3153 1803v21M3504 1803v20M3199 1802v22M3501 1802v22"/><path stroke="#5a14ff" stroke-opacity="0.25" stroke-width="2" fill="none" d="M3352 1802v22M3449 1801v21M3389 1803v21"/><path stroke="#5a14ff" stroke-opacity="0.40" stroke-width="3" fill="none" d="M3329 1801v21M3463 1802v22M3241 1802v22M3361 1803v20"/><path stroke="#5a14ff" stroke-opacity="0.15" stroke-width="2" fill="none" d="M3378 1801v22M3419 1802v20M3561 1802v20M3427 1802v20"/><path stroke="#5a14ff" stroke-opacity="0.25" stroke-width="4" fill="none" d="M3139 1802v20M3134 1802v20M3389 1802v21M3301 1802v21"/><path stroke="#5a14ff" stroke-opacity="0.15" stroke-width="4" fill="none" d="M3291 1803v20"/></g>
<g filter="url(#bl4)"><rect x="250" y="616" width="14" height="12" fill="#2c10ff" fill-opacity="0.90"/>
<rect x="250" y="626" width="14" height="20" fill="#ff6a96"/>
<rect x="250" y="644" width="14" height="5" fill="#c040d8" fill-opacity="0.80"/>
<rect x="1036" y="626" width="25" height="20" fill="#5a14ff"/>
<rect x="1036" y="626" width="13" height="20" fill="#7418ff"/>
<rect x="1080" y="627" width="5" height="19" fill="#1818ff" fill-opacity="0.85"/>
<rect x="1378" y="627" width="23" height="19" fill="#1212f0" fill-opacity="0.55"/>
<rect x="2859" y="898" width="23" height="20" fill="#1414ff" fill-opacity="0.95"/>
<rect x="2913" y="898" width="21" height="20" fill="#1414ff" fill-opacity="0.95"/>
<rect x="2976" y="898" width="22" height="20" fill="#1414ff" fill-opacity="0.95"/>
<rect x="2572" y="1137" width="4" height="23" fill="#4a18ff" fill-opacity="0.85"/>
<rect x="2675" y="1137" width="4" height="23" fill="#4a18ff" fill-opacity="0.90"/>
<rect x="2777" y="1137" width="4" height="23" fill="#3c14ff" fill-opacity="0.85"/>
<rect x="2876" y="1137" width="4" height="23" fill="#5a1cff" fill-opacity="0.90"/>
<rect x="2994" y="1137" width="4" height="23" fill="#5a1cff" fill-opacity="0.90"/>
<rect x="3058" y="1137" width="4" height="23" fill="#2020ff" fill-opacity="0.35"/>
<rect x="3168" y="1137" width="4" height="23" fill="#3a14ff" fill-opacity="0.40"/>
<rect x="3240" y="1137" width="4" height="23" fill="#2020ff" fill-opacity="0.35"/>
<rect x="1184" y="1137" width="4" height="23" fill="#1c1cff" fill-opacity="0.50"/>
<rect x="1209" y="1137" width="4" height="23" fill="#1c1cff" fill-opacity="0.30"/>
<rect x="1271" y="1137" width="4" height="23" fill="#1c1cff" fill-opacity="0.55"/>
<rect x="1313" y="1137" width="4" height="23" fill="#1c1cff" fill-opacity="0.45"/>
<rect x="1369" y="1137" width="4" height="23" fill="#1c1cff" fill-opacity="0.40"/>
<rect x="1892" y="1137" width="4" height="23" fill="#1c1cff" fill-opacity="0.45"/>
<rect x="1921" y="1137" width="4" height="23" fill="#1c1cff" fill-opacity="0.40"/>
<rect x="1947" y="1137" width="4" height="23" fill="#1c1cff" fill-opacity="0.30"/>
<rect x="256" y="1137" width="4" height="23" fill="#1c1cff" fill-opacity="0.35"/>
<rect x="296" y="1137" width="4" height="23" fill="#1c1cff" fill-opacity="0.35"/>
<rect x="348" y="1137" width="4" height="23" fill="#1c1cff" fill-opacity="0.30"/>
<rect x="386" y="106" width="20" height="22" fill="#1818ff" fill-opacity="0.32"/>
<rect x="446" y="106" width="16" height="22" fill="#1818ff" fill-opacity="0.36"/>
<rect x="1270" y="187" width="102" height="15" fill="#1818ff" fill-opacity="0.26"/>
<rect x="1510" y="187" width="96" height="15" fill="#000" fill-opacity="0.36"/>
<rect x="1270" y="214" width="98" height="16" fill="#1818ff" fill-opacity="0.30"/>
<rect x="1548" y="214" width="92" height="16" fill="#1818ff" fill-opacity="0.30"/>
<rect x="242" y="208" width="26" height="18" fill="#1818ff" fill-opacity="0.25"/>
<rect x="1400" y="446" width="1200" height="10" fill="#1818ff" fill-opacity="0.10"/></g>
</g>
</g>
<rect x="121.20" y="51.40" width="1674.60" height="923.90" fill="none" stroke="#000" stroke-width="1.33"/>
<rect x="1935.60" y="27.50" width="42.80" height="960.10" fill="url(#cb)" stroke="#000" stroke-width="1.33"/>
<line x1="121.20" y1="975.30" x2="121.20" y2="981.80" class="tk"/>
<text x="120.60" y="1010" class="tl" text-anchor="middle">05:29</text>
<line x1="232.84" y1="975.30" x2="232.84" y2="981.80" class="tk"/>
<text x="232.24" y="1010" class="tl" text-anchor="middle">05:30</text>
<line x1="344.48" y1="975.30" x2="344.48" y2="981.80" class="tk"/>
<text x="343.88" y="1010" class="tl" text-anchor="middle">05:31</text>
<line x1="456.12" y1="975.30" x2="456.12" y2="981.80" class="tk"/>
<text x="455.52" y="1010" class="tl" text-anchor="middle">05:32</text>
<line x1="567.76" y1="975.30" x2="567.76" y2="981.80" class="tk"/>
<text x="567.16" y="1010" class="tl" text-anchor="middle">05:33</text>
<line x1="679.40" y1="975.30" x2="679.40" y2="981.80" class="tk"/>
<text x="678.80" y="1010" class="tl" text-anchor="middle">05:34</text>
<line x1="791.04" y1="975.30" x2="791.04" y2="981.80" class="tk"/>
<text x="790.44" y="1010" class="tl" text-anchor="middle">05:35</text>
<line x1="902.68" y1="975.30" x2="902.68" y2="981.80" class="tk"/>
<text x="902.08" y="1010" class="tl" text-anchor="middle">05:36</text>
<line x1="1014.32" y1="975.30" x2="1014.32" y2="981.80" class="tk"/>
<text x="1013.72" y="1010" class="tl" text-anchor="middle">05:37</text>
<line x1="1125.96" y1="975.30" x2="1125.96" y2="981.80" class="tk"/>
<text x="1125.36" y="1010" class="tl" text-anchor="middle">05:38</text>
<line x1="1237.60" y1="975.30" x2="1237.60" y2="981.80" class="tk"/>
<text x="1237.00" y="1010" class="tl" text-anchor="middle">05:39</text>
<line x1="1349.24" y1="975.30" x2="1349.24" y2="981.80" class="tk"/>
<text x="1348.64" y="1010" class="tl" text-anchor="middle">05:40</text>
<line x1="1460.88" y1="975.30" x2="1460.88" y2="981.80" class="tk"/>
<text x="1460.28" y="1010" class="tl" text-anchor="middle">05:41</text>
<line x1="1572.52" y1="975.30" x2="1572.52" y2="981.80" class="tk"/>
<text x="1571.92" y="1010" class="tl" text-anchor="middle">05:42</text>
<line x1="1684.16" y1="975.30" x2="1684.16" y2="981.80" class="tk"/>
<text x="1683.56" y="1010" class="tl" text-anchor="middle">05:43</text>
<line x1="114.70" y1="878.20" x2="121.20" y2="878.20" class="tk"/>
<text x="108.00" y="889.70" class="tl" text-anchor="end">20</text>
<line x1="114.70" y1="684.78" x2="121.20" y2="684.78" class="tk"/>
<text x="108.00" y="696.28" class="tl" text-anchor="end">40</text>
<line x1="114.70" y1="491.35" x2="121.20" y2="491.35" class="tk"/>
<text x="108.00" y="502.85" class="tl" text-anchor="end">60</text>
<line x1="114.70" y1="297.93" x2="121.20" y2="297.93" class="tk"/>
<text x="108.00" y="309.43" class="tl" text-anchor="end">80</text>
<line x1="114.70" y1="104.50" x2="121.20" y2="104.50" class="tk"/>
<text x="108.00" y="116.00" class="tl" text-anchor="end">100</text>
<line x1="1978.40" y1="987.60" x2="1984.90" y2="987.60" class="tk"/>
<text x="1990.70" y="993.00" class="cl">−2</text>
<line x1="1978.40" y1="874.65" x2="1984.90" y2="874.65" class="tk"/>
<text x="1990.70" y="880.05" class="cl">0</text>
<line x1="1978.40" y1="761.69" x2="1984.90" y2="761.69" class="tk"/>
<text x="1990.70" y="767.09" class="cl">2</text>
<line x1="1978.40" y1="648.74" x2="1984.90" y2="648.74" class="tk"/>
<text x="1990.70" y="654.14" class="cl">4</text>
<line x1="1978.40" y1="535.79" x2="1984.90" y2="535.79" class="tk"/>
<text x="1990.70" y="541.19" class="cl">6</text>
<line x1="1978.40" y1="422.84" x2="1984.90" y2="422.84" class="tk"/>
<text x="1990.70" y="428.24" class="cl">8</text>
<line x1="1978.40" y1="309.88" x2="1984.90" y2="309.88" class="tk"/>
<text x="1990.70" y="315.28" class="cl">10</text>
<line x1="1978.40" y1="196.93" x2="1984.90" y2="196.93" class="tk"/>
<text x="1990.70" y="202.33" class="cl">12</text>
<line x1="1978.40" y1="83.98" x2="1984.90" y2="83.98" class="tk"/>
<text x="1990.70" y="89.38" class="cl">14</text>
<text x="956" y="40.6" class="ti" text-anchor="middle" xml:space="preserve" style="white-space:pre">2025/10/21  Radio flux density, e-CALLISTO (BIR), Focuscode: 01</text>
<text x="958" y="1049" class="al" text-anchor="middle">Observation time [UTC]</text>
<text transform="translate(37,513) rotate(-90)" class="al" text-anchor="middle">Frequency [MHz]</text>
<text transform="translate(2046,507.5) rotate(-90)" class="al" text-anchor="middle">dB above background</text>
</svg>
</body></html>
